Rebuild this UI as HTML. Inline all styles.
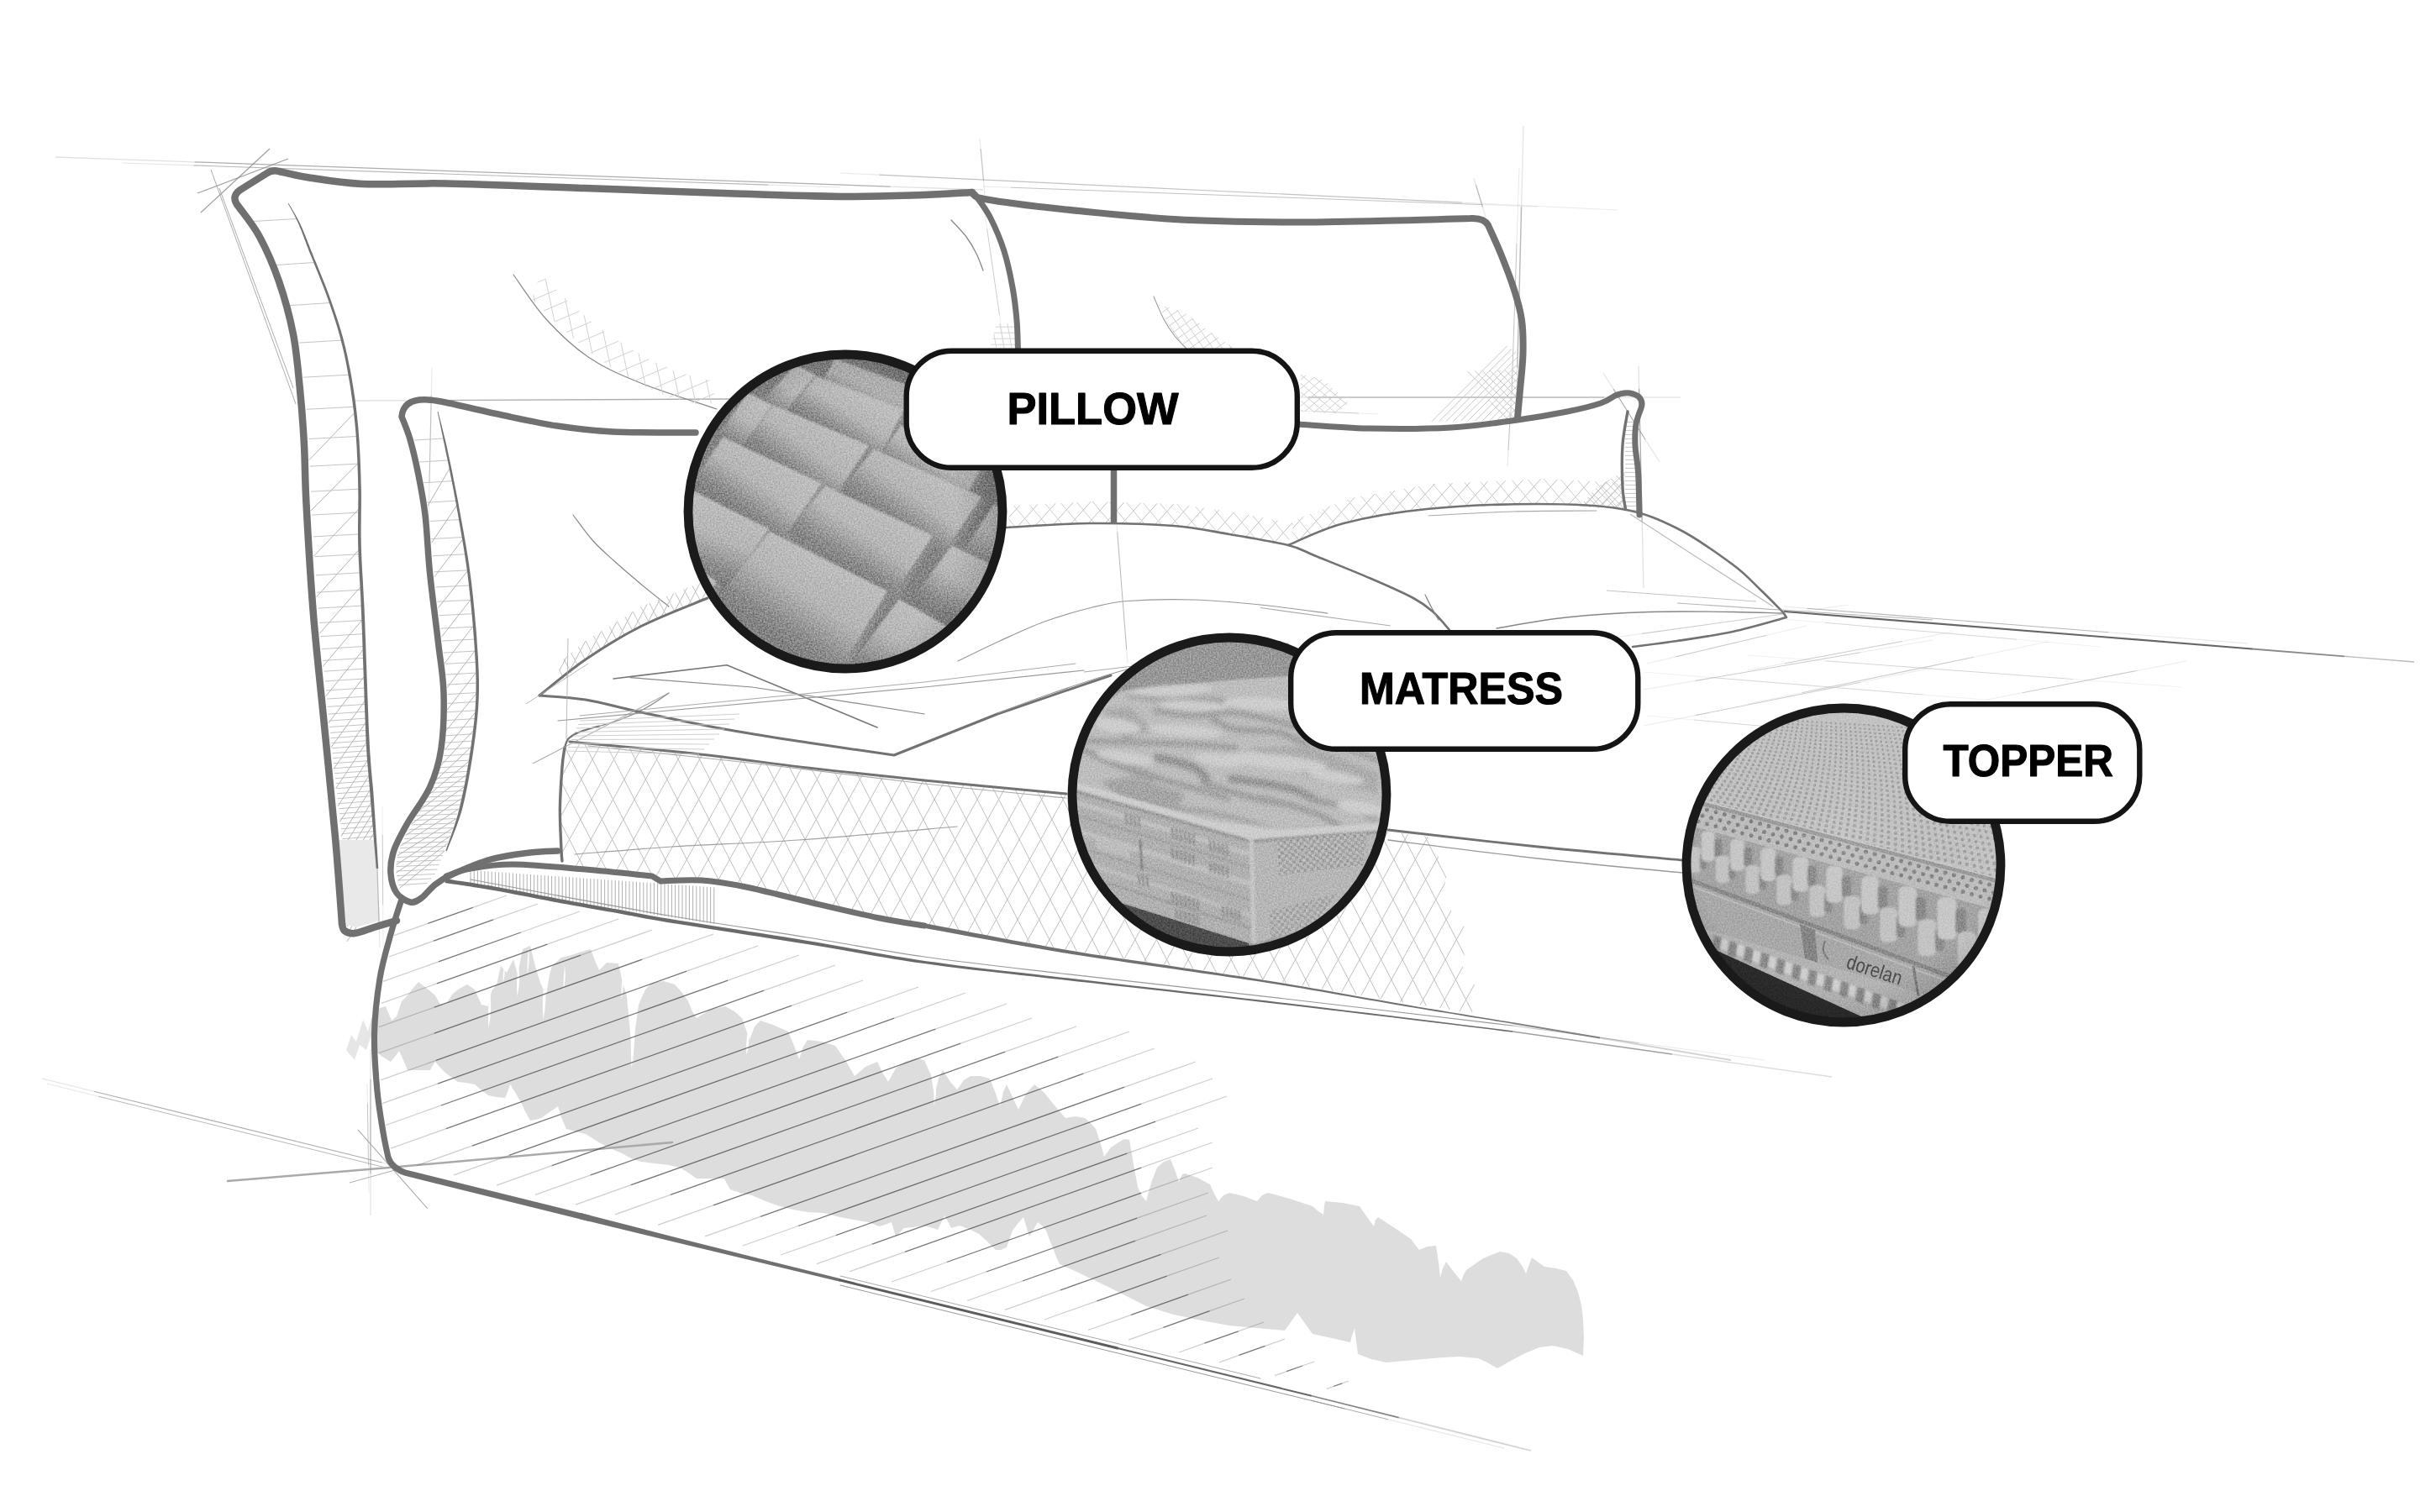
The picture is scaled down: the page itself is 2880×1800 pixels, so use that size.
<!DOCTYPE html>
<html><head><meta charset="utf-8"><title>Bed</title>
<style>
html,body{margin:0;padding:0;background:#fff;}
body{width:2880px;height:1800px;overflow:hidden;}
svg{display:block;}
text{font-family:"Liberation Sans",sans-serif;font-weight:bold;fill:#000;}
</style></head><body>
<svg width="2880" height="1800" viewBox="0 0 2880 1800">
<rect width="2880" height="1800" fill="#fff"/>

<defs>
<clipPath id="cp1"><circle cx="1006" cy="609" r="187"/></clipPath>
<clipPath id="cp2"><circle cx="1463" cy="946" r="187"/></clipPath>
<clipPath id="cp3"><circle cx="2194" cy="1030" r="187"/></clipPath>
<linearGradient id="blk" x1="0" y1="0" x2="1" y2="1">
<stop offset="0" stop-color="#b9b9b9"/><stop offset="1" stop-color="#a2a2a2"/></linearGradient>
<linearGradient id="pbg" x1="0" y1="0" x2="0" y2="1">
<stop offset="0" stop-color="#8d8d8d"/><stop offset="1" stop-color="#7e7e7e"/></linearGradient>
<pattern id="dots" width="9" height="9" patternUnits="userSpaceOnUse" patternTransform="rotate(14)">
<rect width="9" height="9" fill="#bdbdbd"/><circle cx="2.5" cy="2.5" r="1.9" fill="#8f8f8f"/><circle cx="7" cy="7" r="1.9" fill="#8f8f8f"/></pattern>
<pattern id="dots2" width="11" height="11" patternUnits="userSpaceOnUse" patternTransform="rotate(16)">
<rect width="11" height="11" fill="#b4b4b4"/><circle cx="3" cy="3" r="2.4" fill="#858585"/><circle cx="8.5" cy="8.5" r="2.4" fill="#858585"/></pattern>
<filter id="soft2" x="-5%" y="-5%" width="110%" height="110%" color-interpolation-filters="sRGB"><feGaussianBlur stdDeviation="2.4"/></filter>
<filter id="soft" x="-5%" y="-5%" width="110%" height="110%" color-interpolation-filters="sRGB"><feGaussianBlur stdDeviation="1.1"/></filter>
<radialGradient id="vig1" cx="0.42" cy="0.55" r="0.62"><stop offset="0" stop-color="#fff" stop-opacity="0.06"/><stop offset="0.7" stop-color="#000" stop-opacity="0"/><stop offset="1" stop-color="#000" stop-opacity="0.22"/></radialGradient>
<radialGradient id="vig3" cx="0.5" cy="0.4" r="0.65"><stop offset="0" stop-color="#fff" stop-opacity="0.05"/><stop offset="0.75" stop-color="#000" stop-opacity="0"/><stop offset="1" stop-color="#000" stop-opacity="0.18"/></radialGradient>
<pattern id="chk" width="8" height="8" patternUnits="userSpaceOnUse" patternTransform="rotate(-8)"><rect width="8" height="8" fill="#bcbcbc"/><rect width="4" height="4" fill="#9a9a9a"/><rect x="4" y="4" width="4" height="4" fill="#9a9a9a"/></pattern>
<filter id="noise" x="0" y="0" width="100%" height="100%" color-interpolation-filters="sRGB">
<feTurbulence type="fractalNoise" baseFrequency="0.55" numOctaves="2" seed="3"/>
<feColorMatrix type="matrix" values="1.5 0 0 0 -0.25  1.5 0 0 0 -0.25  1.5 0 0 0 -0.25  0 0 0 0 1"/>
</filter>
</defs>

<path d="M442 1212L452 1200L459 1198L466 1215L472 1210L478 1192L485 1185L492 1176L498 1169L507 1176L518 1185L524 1196L531 1195L538 1184L545 1178L556 1172L565 1178L573 1196L581 1198L585 1180L591 1172L596 1150L603 1158L611 1142L616 1160L622 1130L631 1126L637 1150L643 1170L650 1185L654 1160L657 1150L668 1140L680 1137L692 1133L703 1130L709 1146L713 1155L722 1146L736 1147L741 1170L746 1186L750 1230L753 1270L756 1225L760 1196L768 1178L776 1170L790 1168L803 1172L812 1182L819 1192L824 1204L829 1212L845 1202L863 1198L874 1204L883 1212L888 1226L892 1238L898 1222L905 1215L920 1220L938 1228L945 1245L951 1261L956 1246L961 1238L978 1240L994 1245L1006 1262L1017 1281L1030 1270L1044 1264L1051 1278L1057 1288L1066 1272L1077 1264L1090 1260L1100 1262L1108 1280L1112 1304L1117 1284L1122 1274L1131 1288L1139 1297L1147 1286L1155 1281L1167 1281L1178 1284L1185 1302L1190 1317L1194 1300L1198 1291L1206 1308L1212 1321L1221 1302L1231 1291L1242 1300L1251 1311L1260 1322L1268 1331L1280 1329L1291 1331L1298 1337L1304 1344L1310 1362L1314 1377L1322 1366L1331 1360L1338 1356L1344 1357L1349 1386L1354 1413L1359 1424L1364 1430L1370 1408L1377 1390L1385 1383L1393 1380L1399 1395L1403 1407L1407 1398L1410 1397L1425 1402L1440 1410L1445 1421L1450 1430L1456 1423L1463 1420L1480 1424L1496 1430L1502 1423L1509 1420L1535 1427L1562 1436L1569 1442L1575 1446L1576 1436L1577 1430L1598 1432L1618 1436L1627 1449L1635 1460L1637 1452L1640 1449L1660 1462L1679 1475L1685 1483L1689 1488L1699 1484L1709 1483L1712 1503L1714 1521L1717 1510L1721 1502L1730 1514L1739 1525L1742 1517L1745 1512L1765 1498L1785 1490L1796 1492L1805 1498L1812 1508L1816 1516L1820 1505L1823 1497L1831 1503L1838 1508L1852 1510L1864 1513L1872 1524L1878 1538L1882 1554L1884 1571L1885 1592L1884 1614L1866 1606L1848 1602L1832 1604L1815 1611L1798 1620L1782 1629L1770 1622L1759 1617L1737 1615L1716 1616L1683 1619L1650 1622L1632 1618L1616 1612L1614 1596L1612 1581L1609 1590L1607 1598L1585 1593L1562 1588L1552 1574L1544 1563L1536 1574L1529 1584L1496 1581L1463 1578L1430 1572L1397 1565L1364 1555L1331 1538L1298 1522L1279 1513L1261 1505L1257 1496L1254 1488L1249 1476L1245 1465L1240 1459L1235 1455L1230 1464L1225 1472L1221 1459L1218 1449L1211 1457L1205 1465L1201 1476L1198 1485L1191 1488L1185 1488L1175 1478L1165 1469L1153 1463L1142 1459L1132 1462L1128 1454L1124 1447L1120 1456L1116 1464L1107 1461L1099 1459L1087 1461L1076 1462L1070 1468L1066 1472L1063 1462L1061 1455L1053 1458L1046 1460L1039 1457L1033 1455L1016 1452L1000 1449L980 1444L961 1443L944 1440L928 1436L911 1430L895 1423L881 1420L869 1416L865 1409L862 1403L845 1403L829 1403L819 1396L809 1390L796 1387L779 1385L763 1383L751 1379L740 1373L726 1367L713 1360L705 1355L697 1350L685 1347L674 1344L668 1330L664 1317L654 1324L644 1331L637 1333L631 1334L625 1323L621 1314L614 1302L607 1291L604 1300L601 1307L591 1306L581 1304L572 1297L565 1291L555 1289L545 1288L538 1283L531 1278L524 1271L518 1264L514 1270L512 1274L498 1274L485 1274L480 1262L475 1251L470 1258L465 1264L455 1258L446 1251L443 1240L442 1231Z" fill="#dddddd" stroke="none"/>
<path d="M412 1250L418 1232L424 1240L432 1214L438 1228L442 1212L442 1232L436 1250L428 1244L422 1262Z" fill="#e6e6e6"/>
<path d="M583 1180Q580 1202 581.5 1224Q586 1202 583 1180Z" fill="#fff"/>
<path d="M617 1150Q614 1168 615.5 1186Q620 1168 617 1150Z" fill="#fff"/>
<path d="M648 1165Q644.5 1189.5 646.5 1214Q651.5 1189.5 648 1165Z" fill="#fff"/>
<path d="M753 1190Q749.5 1231 751.5 1272Q756.5 1231 753 1190Z" fill="#fff"/>
<path d="M608 1290Q605.5 1300 606.5 1310Q610.5 1300 608 1290Z" fill="#fff"/>
<path d="M600 1150Q598 1160 598.5 1170Q602 1160 600 1150Z" fill="#fff"/>
<path d="M629 1128Q627 1144 627.5 1160Q631 1144 629 1128Z" fill="#fff"/>
<path d="M672 1150Q670 1165 670.5 1180Q674 1165 672 1150Z" fill="#fff"/>
<path d="M741 1160Q739 1175 739.5 1190Q743 1175 741 1160Z" fill="#fff"/>
<path d="M890 1228Q887 1242 888.5 1256Q893 1242 890 1228Z" fill="#fff"/>
<path d="M1113 1290Q1110.5 1303 1111.5 1316Q1115.5 1303 1113 1290Z" fill="#fff"/>
<line x1="66" y1="187" x2="231.6" y2="192.8" stroke="#9a9a9a" stroke-width="1.3" opacity="0.27999999999999997"/>
<line x1="231.6" y1="192.8" x2="1059.6" y2="222.1" stroke="#9a9a9a" stroke-width="1.3" opacity="0.8"/>
<line x1="1059.6" y1="222.1" x2="1170" y2="226" stroke="#9a9a9a" stroke-width="1.3" opacity="0.27999999999999997"/>
<line x1="145" y1="194" x2="230.5" y2="196.9" stroke="#9a9a9a" stroke-width="1.1" opacity="0.24499999999999997"/>
<line x1="230.5" y1="196.9" x2="914.5" y2="220.1" stroke="#9a9a9a" stroke-width="1.1" opacity="0.7"/>
<line x1="914.5" y1="220.1" x2="1000" y2="223" stroke="#9a9a9a" stroke-width="1.1" opacity="0.24499999999999997"/>
<line x1="1000" y1="206" x2="1046.2" y2="208.2" stroke="#9a9a9a" stroke-width="1.2" opacity="0.21"/>
<line x1="1046.2" y1="208.2" x2="1740" y2="241.2" stroke="#9a9a9a" stroke-width="1.2" opacity="0.6"/>
<line x1="1740" y1="241.2" x2="1925" y2="250" stroke="#9a9a9a" stroke-width="1.2" opacity="0.21"/>
<line x1="1170" y1="222" x2="1203" y2="223.2" stroke="#9a9a9a" stroke-width="1.0" opacity="0.21"/>
<line x1="1203" y1="223.2" x2="1764" y2="243.6" stroke="#9a9a9a" stroke-width="1.0" opacity="0.6"/>
<line x1="1764" y1="243.6" x2="1830" y2="246" stroke="#9a9a9a" stroke-width="1.0" opacity="0.21"/>
<line x1="239" y1="253" x2="321" y2="177" stroke="#888" stroke-width="1.2" opacity="0.8"/>
<line x1="235" y1="230" x2="343" y2="189" stroke="#888" stroke-width="1.2" opacity="0.8"/>
<line x1="251" y1="202" x2="352" y2="481" stroke="#999" stroke-width="1.0" opacity="0.8"/>
<line x1="261" y1="224" x2="349" y2="462" stroke="#999" stroke-width="1.0" opacity="0.8"/>
<line x1="1166" y1="165" x2="1167.1" y2="177.1" stroke="#9a9a9a" stroke-width="1.2" opacity="0.21"/>
<line x1="1167.1" y1="177.1" x2="1170.5" y2="215.2" stroke="#9a9a9a" stroke-width="1.2" opacity="0.6"/>
<line x1="1170.5" y1="215.2" x2="1172" y2="232" stroke="#9a9a9a" stroke-width="1.2" opacity="0.21"/>
<line x1="1170" y1="240" x2="1174.7" y2="272.4" stroke="#9a9a9a" stroke-width="1.0" opacity="0.175"/>
<line x1="1174.7" y1="272.4" x2="1189.5" y2="375" stroke="#9a9a9a" stroke-width="1.0" opacity="0.5"/>
<line x1="1189.5" y1="375" x2="1196" y2="420" stroke="#9a9a9a" stroke-width="1.0" opacity="0.175"/>
<line x1="1813" y1="150" x2="1810.6" y2="246" stroke="#9a9a9a" stroke-width="1.4" opacity="0.24499999999999997"/>
<line x1="1810.6" y1="246" x2="1805.8" y2="438" stroke="#9a9a9a" stroke-width="1.4" opacity="0.7"/>
<line x1="1805.8" y1="438" x2="1805" y2="470" stroke="#9a9a9a" stroke-width="1.4" opacity="0.24499999999999997"/>
<line x1="1808" y1="200" x2="1805" y2="290" stroke="#9a9a9a" stroke-width="1.0" opacity="0.21"/>
<line x1="1805" y1="290" x2="1799" y2="470" stroke="#9a9a9a" stroke-width="1.0" opacity="0.6"/>
<line x1="1799" y1="470" x2="1798" y2="500" stroke="#9a9a9a" stroke-width="1.0" opacity="0.21"/>
<line x1="1754" y1="212" x2="1756.5" y2="220.3" stroke="#9a9a9a" stroke-width="1.2" opacity="0.24499999999999997"/>
<line x1="1756.5" y1="220.3" x2="1764.5" y2="246.5" stroke="#9a9a9a" stroke-width="1.2" opacity="0.7"/>
<line x1="1764.5" y1="246.5" x2="1768" y2="258" stroke="#9a9a9a" stroke-width="1.2" opacity="0.24499999999999997"/>
<line x1="1798" y1="480" x2="1797.3" y2="493.5" stroke="#9a9a9a" stroke-width="1.1" opacity="0.21"/>
<line x1="1797.3" y1="493.5" x2="1795" y2="536.2" stroke="#9a9a9a" stroke-width="1.1" opacity="0.6"/>
<line x1="1795" y1="536.2" x2="1794" y2="555" stroke="#9a9a9a" stroke-width="1.1" opacity="0.21"/>
<line x1="420" y1="477" x2="486" y2="476.7" stroke="#9a9a9a" stroke-width="1.4" opacity="0.27999999999999997"/>
<line x1="486" y1="476.7" x2="1066.8" y2="474.1" stroke="#9a9a9a" stroke-width="1.4" opacity="0.8"/>
<line x1="1066.8" y1="474.1" x2="1080" y2="474" stroke="#9a9a9a" stroke-width="1.4" opacity="0.27999999999999997"/>
<line x1="1548" y1="473" x2="1557" y2="473" stroke="#9a9a9a" stroke-width="1.4" opacity="0.24499999999999997"/>
<line x1="1557" y1="473" x2="1909.6" y2="473" stroke="#9a9a9a" stroke-width="1.4" opacity="0.7"/>
<line x1="1909.6" y1="473" x2="2000" y2="473" stroke="#9a9a9a" stroke-width="1.4" opacity="0.24499999999999997"/>
<line x1="1548" y1="489" x2="1564.6" y2="489.7" stroke="#9a9a9a" stroke-width="1.0" opacity="0.175"/>
<line x1="1564.6" y1="489.7" x2="1617" y2="492" stroke="#9a9a9a" stroke-width="1.0" opacity="0.5"/>
<line x1="1617" y1="492" x2="1640" y2="493" stroke="#9a9a9a" stroke-width="1.0" opacity="0.175"/>
<line x1="1950" y1="436" x2="1950.6" y2="462.4" stroke="#888" stroke-width="1.3" opacity="0.24499999999999997"/>
<line x1="1950.6" y1="462.4" x2="1954.2" y2="620.8" stroke="#888" stroke-width="1.3" opacity="0.7"/>
<line x1="1954.2" y1="620.8" x2="1956" y2="700" stroke="#888" stroke-width="1.3" opacity="0.24499999999999997"/>
<line x1="1908" y1="444" x2="1920.1" y2="463.1" stroke="#888" stroke-width="1.1" opacity="0.24499999999999997"/>
<line x1="1920.1" y1="463.1" x2="1958.2" y2="523.5" stroke="#888" stroke-width="1.1" opacity="0.7"/>
<line x1="1958.2" y1="523.5" x2="1975" y2="550" stroke="#888" stroke-width="1.1" opacity="0.24499999999999997"/>
<line x1="514" y1="438" x2="513.3" y2="470.8" stroke="#9a9a9a" stroke-width="1.2" opacity="0.21"/>
<line x1="513.3" y1="470.8" x2="511" y2="574.5" stroke="#9a9a9a" stroke-width="1.2" opacity="0.6"/>
<line x1="511" y1="574.5" x2="510" y2="620" stroke="#9a9a9a" stroke-width="1.2" opacity="0.21"/>
<line x1="1329" y1="625" x2="1329.7" y2="633.2" stroke="#999" stroke-width="1.0" opacity="0.24499999999999997"/>
<line x1="1329.7" y1="633.2" x2="1340.7" y2="773.5" stroke="#999" stroke-width="1.0" opacity="0.7"/>
<line x1="1340.7" y1="773.5" x2="1342" y2="790" stroke="#999" stroke-width="1.0" opacity="0.24499999999999997"/>
<path d="M611 327C617.5 335.8 635.2 363.7 650 380C664.8 396.3 681.7 412.5 700 425C718.3 437.5 734.5 444.7 760 455C785.5 465.3 837.5 481.7 853 487" fill="none" stroke="#888" stroke-width="1.2" stroke-linecap="round" stroke-linejoin="round" />
<path d="M682 613C685.8 618 697 634 705 643C713 652 720.8 658.7 730 667C739.2 675.3 749 683.8 760 693C771 702.2 790 717.2 796 722" fill="none" stroke="#888" stroke-width="1.2" stroke-linecap="round" stroke-linejoin="round" />
<path d="M1132 262C1135 265.3 1145 275.3 1150 282C1155 288.7 1158.7 295.3 1162 302C1165.3 308.7 1168.7 318.7 1170 322" fill="none" stroke="#888" stroke-width="1.3" stroke-linecap="round" stroke-linejoin="round" />
<path d="M1373 353C1375 357.5 1380.8 372.2 1385 380C1389.2 387.8 1393.5 394.2 1398 400C1402.5 405.8 1409.7 412.5 1412 415" fill="none" stroke="#999" stroke-width="1.1" stroke-linecap="round" stroke-linejoin="round" />
<line x1="50" y1="1284" x2="111.9" y2="1299.3" stroke="#9a9a9a" stroke-width="1.1" opacity="0.27999999999999997"/>
<line x1="111.9" y1="1299.3" x2="454.7" y2="1384" stroke="#9a9a9a" stroke-width="1.1" opacity="0.8"/>
<line x1="454.7" y1="1384" x2="463" y2="1386" stroke="#9a9a9a" stroke-width="1.1" opacity="0.27999999999999997"/>
<line x1="56" y1="1290" x2="117" y2="1305.2" stroke="#9a9a9a" stroke-width="1.0" opacity="0.24499999999999997"/>
<line x1="117" y1="1305.2" x2="454.9" y2="1389" stroke="#9a9a9a" stroke-width="1.0" opacity="0.7"/>
<line x1="454.9" y1="1389" x2="463" y2="1391" stroke="#9a9a9a" stroke-width="1.0" opacity="0.24499999999999997"/>
<path d="M271 1406L463 1390L800 1360" fill="none" stroke="#aaaaaa" stroke-width="2.6" stroke-linecap="round"/>
<line x1="426" y1="1345" x2="509" y2="1439" stroke="#888" stroke-width="1.1" opacity="0.8"/>
<line x1="441" y1="1249" x2="441" y2="1284.6" stroke="#999" stroke-width="1.2" opacity="0.27999999999999997"/>
<line x1="441" y1="1284.6" x2="441" y2="1397.5" stroke="#999" stroke-width="1.2" opacity="0.8"/>
<line x1="441" y1="1397.5" x2="441" y2="1447" stroke="#999" stroke-width="1.2" opacity="0.27999999999999997"/>
<line x1="437" y1="1290" x2="437.4" y2="1313.4" stroke="#aaa" stroke-width="1.0" opacity="0.24499999999999997"/>
<line x1="437.4" y1="1313.4" x2="438.5" y2="1387.5" stroke="#aaa" stroke-width="1.0" opacity="0.7"/>
<line x1="438.5" y1="1387.5" x2="439" y2="1420" stroke="#aaa" stroke-width="1.0" opacity="0.24499999999999997"/>
<line x1="416" y1="1408" x2="470" y2="1393" stroke="#999" stroke-width="1.0" opacity="0.8"/>
<g stroke="#c4c4c4" stroke-width="1" fill="none">
<line x1="301.1" y1="263.5" x2="352.8" y2="260.5"/>
<line x1="328.9" y1="315.5" x2="374.2" y2="312.5"/>
<line x1="345.3" y1="363.6" x2="392.6" y2="360.6"/>
<line x1="356" y1="408.1" x2="406.5" y2="405.1"/>
<line x1="361" y1="449.2" x2="415.1" y2="446.2"/>
<line x1="364.7" y1="487.3" x2="420.5" y2="484.3"/>
<line x1="367.3" y1="522.5" x2="424.3" y2="519.5"/>
<line x1="368.8" y1="555.1" x2="425.8" y2="552.1"/>
<line x1="369.9" y1="585.2" x2="427" y2="582.2"/>
<line x1="371.2" y1="613.1" x2="427" y2="610.1"/>
<line x1="372.9" y1="638.9" x2="427" y2="635.9"/>
<line x1="374.4" y1="662.7" x2="427.5" y2="659.7"/>
<line x1="375.9" y1="684.8" x2="428.6" y2="681.8"/>
<line x1="377.2" y1="705.2" x2="429.6" y2="702.2"/>
<line x1="378.4" y1="724.1" x2="430.5" y2="721.1"/>
<line x1="379.8" y1="741.5" x2="431.3" y2="738.5"/>
<line x1="381.4" y1="757.7" x2="431.9" y2="754.7"/>
<line x1="382.9" y1="772.6" x2="432.5" y2="769.6"/>
<line x1="384.2" y1="786.4" x2="433" y2="783.4"/>
<line x1="385.5" y1="799.2" x2="433.4" y2="796.2"/>
<line x1="386.6" y1="811" x2="433.9" y2="808"/>
<line x1="387.7" y1="822" x2="434.3" y2="819"/>
<line x1="388.7" y1="832.1" x2="434.7" y2="829.1"/>
<line x1="389.6" y1="841.4" x2="435" y2="838.4"/>
<line x1="390.5" y1="850.1" x2="435.3" y2="847.1"/>
<line x1="391.3" y1="858.1" x2="435.6" y2="855.1"/>
<line x1="392" y1="865.5" x2="435.9" y2="862.5"/>
<line x1="392.8" y1="872.4" x2="436.2" y2="869.4"/>
<line x1="393.5" y1="878.7" x2="436.4" y2="875.7"/>
<line x1="394.2" y1="884.7" x2="436.7" y2="881.7"/>
<line x1="394.9" y1="890.7" x2="437.2" y2="887.7"/>
<line x1="395.6" y1="896.7" x2="437.7" y2="893.7"/>
<line x1="396.3" y1="902.7" x2="438.1" y2="899.7"/>
<line x1="397" y1="908.7" x2="438.6" y2="905.7"/>
<line x1="397.6" y1="914.7" x2="439" y2="911.7"/>
<line x1="398.3" y1="920.7" x2="439.5" y2="917.7"/>
<line x1="399" y1="926.7" x2="439.9" y2="923.7"/>
<line x1="399.7" y1="932.7" x2="440.4" y2="929.7"/>
<line x1="400.4" y1="938.7" x2="440.8" y2="935.7"/>
<line x1="401.1" y1="944.7" x2="441.3" y2="941.7"/>
<line x1="401.9" y1="950.7" x2="441.7" y2="947.7"/>
<line x1="402.6" y1="956.7" x2="442.2" y2="953.7"/>
<line x1="403.3" y1="962.7" x2="442.6" y2="959.7"/>
<line x1="404.1" y1="968.7" x2="443.1" y2="965.7"/>
<line x1="404.8" y1="974.7" x2="443.5" y2="971.7"/>
<line x1="405.5" y1="980.7" x2="444" y2="977.7"/>
<line x1="406.1" y1="986.7" x2="444.4" y2="983.7"/>
<line x1="406.7" y1="992.7" x2="444.9" y2="989.7"/>
<line x1="407.3" y1="998.7" x2="445.3" y2="995.7"/>
<line x1="407.9" y1="1004.7" x2="445.7" y2="1001.7"/>
<line x1="408.5" y1="1010.7" x2="446.2" y2="1007.7"/>
<line x1="409.1" y1="1016.7" x2="446.6" y2="1013.7"/>
<line x1="409.7" y1="1022.7" x2="447.1" y2="1019.7"/>
<line x1="410.3" y1="1028.7" x2="447.5" y2="1025.7"/>
<line x1="410.7" y1="1034.7" x2="447.9" y2="1031.7"/>
<line x1="411" y1="1040.7" x2="448.2" y2="1037.7"/>
<line x1="411.2" y1="1046.7" x2="448.3" y2="1043.7"/>
<line x1="411.5" y1="1052.7" x2="448.5" y2="1049.7"/>
<line x1="411.8" y1="1058.7" x2="448.7" y2="1055.7"/>
<line x1="412.1" y1="1064.7" x2="448.9" y2="1061.7"/>
<line x1="412.5" y1="1070.7" x2="449.1" y2="1067.7"/>
<line x1="412.9" y1="1076.7" x2="449.2" y2="1073.7"/>
<line x1="413.3" y1="1082.7" x2="449.4" y2="1079.7"/>
<line x1="413.7" y1="1088.7" x2="449.6" y2="1085.7"/>
<line x1="414" y1="1094.7" x2="449.8" y2="1091.7"/>
</g>
<g stroke="#b4b4b4" stroke-width="1" fill="none">
<line x1="367.6" y1="548" x2="421.3" y2="492"/>
<line x1="370" y1="608" x2="425.7" y2="552"/>
<line x1="373.5" y1="662" x2="427" y2="606"/>
<line x1="376.6" y1="710.6" x2="427.2" y2="654.6"/>
<line x1="380.2" y1="754.3" x2="429.4" y2="698.3"/>
<line x1="384.1" y1="793.7" x2="431.2" y2="737.7"/>
<line x1="387.6" y1="829.1" x2="432.5" y2="773.1"/>
<line x1="390.7" y1="861" x2="433.7" y2="805"/>
<line x1="394" y1="889.7" x2="434.8" y2="833.7"/>
<line x1="396.9" y1="915.5" x2="435.7" y2="859.5"/>
<line x1="399.6" y1="938.8" x2="436.7" y2="882.8"/>
<line x1="402.1" y1="959.7" x2="438.3" y2="903.7"/>
<line x1="404.4" y1="978.5" x2="439.7" y2="922.5"/>
<line x1="406.1" y1="995.5" x2="441" y2="939.5"/>
<line x1="407.7" y1="1010.7" x2="442.1" y2="954.7"/>
<line x1="409" y1="1024.5" x2="443.2" y2="968.5"/>
<line x1="409.9" y1="1036.8" x2="444.1" y2="980.8"/>
<line x1="410.4" y1="1047.9" x2="444.9" y2="991.9"/>
<line x1="410.8" y1="1057.9" x2="445.7" y2="1001.9"/>
<line x1="411.3" y1="1066.9" x2="446.3" y2="1010.9"/>
<line x1="411.9" y1="1075.9" x2="447" y2="1019.9"/>
<line x1="412.5" y1="1084.9" x2="447.6" y2="1028.9"/>
<line x1="413" y1="1093.9" x2="448.1" y2="1037.9"/>
<line x1="413" y1="1102.9" x2="448.4" y2="1046.9"/>
<line x1="413" y1="1111.9" x2="448.7" y2="1055.9"/>
<line x1="413" y1="1120.9" x2="448.9" y2="1064.9"/>
</g>
<path d="M402 1000L447 1000L452 1096L424 1104L410 1100Z" fill="#e9e9e9"/>
<g stroke="#c4c4c4" stroke-width="1" fill="none">
<line x1="493" y1="524" x2="527.5" y2="522"/>
<line x1="499.2" y1="550" x2="533.1" y2="548"/>
<line x1="504.3" y1="574.7" x2="538" y2="572.7"/>
<line x1="508.3" y1="598.2" x2="542.5" y2="596.2"/>
<line x1="511.5" y1="620.5" x2="546.6" y2="618.5"/>
<line x1="513.2" y1="641.6" x2="550" y2="639.6"/>
<line x1="514.8" y1="661.8" x2="553.3" y2="659.8"/>
<line x1="516.4" y1="680.9" x2="556.5" y2="678.9"/>
<line x1="518.5" y1="699" x2="558.5" y2="697"/>
<line x1="520.5" y1="716.3" x2="560.1" y2="714.3"/>
<line x1="522.5" y1="732.7" x2="561.7" y2="730.7"/>
<line x1="524.4" y1="748.2" x2="563.3" y2="746.2"/>
<line x1="526.1" y1="763" x2="564.7" y2="761"/>
<line x1="527.7" y1="777.1" x2="565.3" y2="775.1"/>
<line x1="529.1" y1="790.4" x2="565.7" y2="788.4"/>
<line x1="530.5" y1="803.1" x2="566.1" y2="801.1"/>
<line x1="531.8" y1="815.1" x2="566.5" y2="813.1"/>
<line x1="533" y1="826.6" x2="566.8" y2="824.6"/>
<line x1="532.5" y1="837.4" x2="566.6" y2="835.4"/>
<line x1="532" y1="847.8" x2="565.7" y2="845.8"/>
<line x1="531.6" y1="857.6" x2="564.9" y2="855.6"/>
<line x1="531.1" y1="866.9" x2="564.2" y2="864.9"/>
<line x1="530.7" y1="875.8" x2="563.4" y2="873.8"/>
<line x1="530.4" y1="884.2" x2="562.5" y2="882.2"/>
<line x1="529.9" y1="892.2" x2="561.2" y2="890.2"/>
<line x1="527.5" y1="899.8" x2="560" y2="897.8"/>
<line x1="525.1" y1="907" x2="558.8" y2="905"/>
<line x1="522.9" y1="913.8" x2="557.4" y2="911.8"/>
<line x1="520.8" y1="920.3" x2="556.1" y2="918.3"/>
<line x1="518.8" y1="926.5" x2="554.8" y2="924.5"/>
<line x1="515.7" y1="932.4" x2="553.6" y2="930.4"/>
<line x1="512.8" y1="938" x2="552.5" y2="936"/>
<line x1="509.8" y1="943.5" x2="551.3" y2="941.5"/>
<line x1="506.9" y1="949" x2="550.1" y2="947"/>
<line x1="504" y1="954.5" x2="548.6" y2="952.5"/>
<line x1="501.1" y1="960" x2="547.1" y2="958"/>
<line x1="498.2" y1="965.5" x2="545.6" y2="963.5"/>
<line x1="495.4" y1="971" x2="544.1" y2="969"/>
<line x1="492.5" y1="976.5" x2="542.6" y2="974.5"/>
<line x1="489.6" y1="982" x2="541.1" y2="980"/>
<line x1="486.8" y1="987.5" x2="539.2" y2="985.5"/>
<line x1="484" y1="993" x2="537.1" y2="991"/>
<line x1="481.2" y1="998.5" x2="535.1" y2="996.5"/>
<line x1="478.3" y1="1004" x2="533" y2="1002"/>
<line x1="476.1" y1="1009.5" x2="530.9" y2="1007.5"/>
<line x1="474.4" y1="1015" x2="528.8" y2="1013"/>
<line x1="472.8" y1="1020.5" x2="526.7" y2="1018.5"/>
<line x1="471.9" y1="1026" x2="524.7" y2="1024"/>
<line x1="471.7" y1="1031.5" x2="522.6" y2="1029.5"/>
<line x1="471.5" y1="1037" x2="520.5" y2="1035"/>
<line x1="472.1" y1="1042.5" x2="517.8" y2="1040.5"/>
<line x1="473.5" y1="1048" x2="513.2" y2="1046"/>
<line x1="474.9" y1="1053.5" x2="508.6" y2="1051.5"/>
</g>
<g stroke="#b4b4b4" stroke-width="1" fill="none">
<line x1="509.1" y1="602" x2="534.9" y2="558"/>
<line x1="513.7" y1="646" x2="543.5" y2="602"/>
<line x1="517.1" y1="686.5" x2="550.3" y2="642.5"/>
<line x1="521.5" y1="723.7" x2="556.5" y2="679.7"/>
<line x1="525.7" y1="758" x2="560" y2="714"/>
<line x1="529.2" y1="789.5" x2="563.1" y2="745.5"/>
<line x1="532.3" y1="818.5" x2="565.3" y2="774.5"/>
<line x1="532.1" y1="845.2" x2="566.1" y2="801.2"/>
<line x1="531" y1="869.7" x2="566.8" y2="825.7"/>
<line x1="529.6" y1="892.3" x2="565.6" y2="848.3"/>
<line x1="522.8" y1="913.1" x2="563.9" y2="869.1"/>
<line x1="515.3" y1="932.2" x2="561.7" y2="888.2"/>
<line x1="505.9" y1="949.8" x2="558.8" y2="905.8"/>
<line x1="497.4" y1="966" x2="555.5" y2="922"/>
<line x1="489.7" y1="980.8" x2="552.5" y2="936.8"/>
<line x1="482.7" y1="994.5" x2="549.4" y2="950.5"/>
<line x1="476.5" y1="1007.1" x2="546" y2="963.1"/>
<line x1="473" y1="1018.7" x2="542.8" y2="974.7"/>
<line x1="471.7" y1="1029.4" x2="539.6" y2="985.4"/>
<line x1="471.5" y1="1039.2" x2="535.9" y2="995.2"/>
<line x1="473.9" y1="1048.2" x2="532.5" y2="1004.2"/>
<line x1="475.6" y1="1057.2" x2="529.1" y2="1013.2"/>
</g>
<clipPath id="hc1"><path d="M633 356L659 382L686 406L712 427L739 444L765 459L792 471L818 479L845 485L855 455L828 449L802 441L775 429L749 414L722 397L696 376L669 352L643 326Z"/></clipPath>
<g clip-path="url(#hc1)" stroke="#d2d2d2" stroke-width="1.0" opacity="1.0">
<line x1="850.7" y1="241.2" x2="908.3" y2="512.2"/>
<line x1="833.1" y1="244.9" x2="890.7" y2="515.9"/>
<line x1="815.5" y1="248.7" x2="873.1" y2="519.7"/>
<line x1="797.9" y1="252.4" x2="855.5" y2="523.4"/>
<line x1="780.3" y1="256.2" x2="837.9" y2="527.2"/>
<line x1="762.7" y1="259.9" x2="820.3" y2="530.9"/>
<line x1="745.1" y1="263.6" x2="802.7" y2="534.7"/>
<line x1="727.5" y1="267.4" x2="785.1" y2="538.4"/>
<line x1="709.8" y1="271.1" x2="767.5" y2="542.1"/>
<line x1="692.2" y1="274.9" x2="749.8" y2="545.9"/>
<line x1="674.6" y1="278.6" x2="732.2" y2="549.6"/>
<line x1="657" y1="282.4" x2="714.6" y2="553.4"/>
<line x1="639.4" y1="286.1" x2="697" y2="557.1"/>
<line x1="621.8" y1="289.8" x2="679.4" y2="560.9"/>
<line x1="604.2" y1="293.6" x2="661.8" y2="564.6"/>
<line x1="586.6" y1="297.3" x2="644.2" y2="568.3"/>
</g>
<clipPath id="hc2"><path d="M633 356L659 382L686 406L712 427L739 444L765 459L792 471L818 479L845 485L855 455L828 449L802 441L775 429L749 414L722 397L696 376L669 352L643 326Z"/></clipPath>
<g clip-path="url(#hc2)" stroke="#d2d2d2" stroke-width="1.0" opacity="1.0">
<line x1="562.4" y1="332.1" x2="817.4" y2="223.9"/>
<line x1="569" y1="347.8" x2="824" y2="239.5"/>
<line x1="575.6" y1="363.4" x2="830.7" y2="255.1"/>
<line x1="582.3" y1="379.1" x2="837.3" y2="270.8"/>
<line x1="588.9" y1="394.7" x2="844" y2="286.4"/>
<line x1="595.6" y1="410.4" x2="850.6" y2="302.1"/>
<line x1="602.2" y1="426" x2="857.2" y2="317.7"/>
<line x1="608.8" y1="441.6" x2="863.9" y2="333.4"/>
<line x1="615.5" y1="457.3" x2="870.5" y2="349"/>
<line x1="622.1" y1="472.9" x2="877.2" y2="364.7"/>
<line x1="628.8" y1="488.6" x2="883.8" y2="380.3"/>
<line x1="635.4" y1="504.2" x2="890.5" y2="396"/>
<line x1="642.1" y1="519.9" x2="897.1" y2="411.6"/>
<line x1="648.7" y1="535.5" x2="903.7" y2="427.3"/>
<line x1="655.3" y1="551.2" x2="910.4" y2="442.9"/>
<line x1="662" y1="566.8" x2="917" y2="458.6"/>
<line x1="668.6" y1="582.5" x2="923.7" y2="474.2"/>
</g>
<clipPath id="hc3"><path d="M1378 362L1390 385L1400 402L1412 415L1470 415L1440 395L1410 372Z"/></clipPath>
<g clip-path="url(#hc3)" stroke="#cfcfcf" stroke-width="1.0" opacity="1.0">
<line x1="1437.5" y1="311.8" x2="1500.7" y2="402"/>
<line x1="1430.2" y1="316.9" x2="1493.3" y2="407.2"/>
<line x1="1422.8" y1="322.1" x2="1486" y2="412.4"/>
<line x1="1415.4" y1="327.3" x2="1478.6" y2="417.5"/>
<line x1="1408" y1="332.4" x2="1471.2" y2="422.7"/>
<line x1="1400.7" y1="337.6" x2="1463.9" y2="427.8"/>
<line x1="1393.3" y1="342.8" x2="1456.5" y2="433"/>
<line x1="1385.9" y1="347.9" x2="1449.1" y2="438.2"/>
<line x1="1378.5" y1="353.1" x2="1441.7" y2="443.3"/>
<line x1="1371.2" y1="358.2" x2="1434.4" y2="448.5"/>
<line x1="1363.8" y1="363.4" x2="1427" y2="453.6"/>
<line x1="1356.4" y1="368.6" x2="1419.6" y2="458.8"/>
<line x1="1349.1" y1="373.7" x2="1412.3" y2="464"/>
</g>
<clipPath id="hc4"><path d="M1378 362L1390 385L1400 402L1412 415L1470 415L1440 395L1410 372Z"/></clipPath>
<g clip-path="url(#hc4)" stroke="#cfcfcf" stroke-width="1.0" opacity="1.0">
<line x1="1347.3" y1="375" x2="1437.5" y2="311.8"/>
<line x1="1352.4" y1="382.3" x2="1442.7" y2="319.2"/>
<line x1="1357.6" y1="389.7" x2="1447.9" y2="326.5"/>
<line x1="1362.8" y1="397.1" x2="1453" y2="333.9"/>
<line x1="1367.9" y1="404.5" x2="1458.2" y2="341.3"/>
<line x1="1373.1" y1="411.8" x2="1463.3" y2="348.6"/>
<line x1="1378.3" y1="419.2" x2="1468.5" y2="356"/>
<line x1="1383.4" y1="426.6" x2="1473.7" y2="363.4"/>
<line x1="1388.6" y1="434" x2="1478.8" y2="370.8"/>
<line x1="1393.7" y1="441.3" x2="1484" y2="378.1"/>
<line x1="1398.9" y1="448.7" x2="1489.1" y2="385.5"/>
<line x1="1404.1" y1="456.1" x2="1494.3" y2="392.9"/>
<line x1="1409.2" y1="463.4" x2="1499.5" y2="400.2"/>
</g>
<clipPath id="hc5"><path d="M1548 445L1575 452L1605 480L1590 492L1548 490Z"/></clipPath>
<g clip-path="url(#hc5)" stroke="#d0d0d0" stroke-width="1.0" opacity="1.0">
<line x1="1571.7" y1="413.6" x2="1631.4" y2="463.7"/>
<line x1="1566.6" y1="419.8" x2="1626.2" y2="469.8"/>
<line x1="1561.4" y1="425.9" x2="1621.1" y2="476"/>
<line x1="1556.3" y1="432" x2="1615.9" y2="482.1"/>
<line x1="1551.1" y1="438.2" x2="1610.8" y2="488.2"/>
<line x1="1546" y1="444.3" x2="1605.6" y2="494.3"/>
<line x1="1540.8" y1="450.4" x2="1600.5" y2="500.5"/>
<line x1="1535.7" y1="456.5" x2="1595.4" y2="506.6"/>
<line x1="1530.6" y1="462.7" x2="1590.2" y2="512.7"/>
<line x1="1525.4" y1="468.8" x2="1585.1" y2="518.9"/>
</g>
<clipPath id="hc6"><path d="M1548 445L1575 452L1605 480L1590 492L1548 490Z"/></clipPath>
<g clip-path="url(#hc6)" stroke="#d0d0d0" stroke-width="1.0" opacity="1.0">
<line x1="1521.6" y1="463.7" x2="1581.3" y2="413.6"/>
<line x1="1526.8" y1="469.8" x2="1586.4" y2="419.8"/>
<line x1="1531.9" y1="476" x2="1591.6" y2="425.9"/>
<line x1="1537.1" y1="482.1" x2="1596.7" y2="432"/>
<line x1="1542.2" y1="488.2" x2="1601.9" y2="438.2"/>
<line x1="1547.4" y1="494.3" x2="1607" y2="444.3"/>
<line x1="1552.5" y1="500.5" x2="1612.2" y2="450.4"/>
<line x1="1557.6" y1="506.6" x2="1617.3" y2="456.5"/>
<line x1="1562.8" y1="512.7" x2="1622.4" y2="462.7"/>
<line x1="1567.9" y1="518.9" x2="1627.6" y2="468.8"/>
</g>
<clipPath id="hc7"><path d="M1697 502L1790 410L1806 420L1806 500Z"/></clipPath>
<g clip-path="url(#hc7)" stroke="#c6c6c6" stroke-width="1.0" opacity="1.0">
<line x1="1647.8" y1="456" x2="1751.5" y2="352.3"/>
<line x1="1652.1" y1="460.2" x2="1755.7" y2="356.6"/>
<line x1="1656.3" y1="464.5" x2="1760" y2="360.8"/>
<line x1="1660.5" y1="468.7" x2="1764.2" y2="365"/>
<line x1="1664.8" y1="473" x2="1768.5" y2="369.3"/>
<line x1="1669" y1="477.2" x2="1772.7" y2="373.5"/>
<line x1="1673.3" y1="481.5" x2="1777" y2="377.8"/>
<line x1="1677.5" y1="485.7" x2="1781.2" y2="382"/>
<line x1="1681.8" y1="489.9" x2="1785.4" y2="386.3"/>
<line x1="1686" y1="494.2" x2="1789.7" y2="390.5"/>
<line x1="1690.2" y1="498.4" x2="1793.9" y2="394.7"/>
<line x1="1694.5" y1="502.7" x2="1798.2" y2="399"/>
<line x1="1698.7" y1="506.9" x2="1802.4" y2="403.2"/>
<line x1="1703" y1="511.2" x2="1806.7" y2="407.5"/>
<line x1="1707.2" y1="515.4" x2="1810.9" y2="411.7"/>
<line x1="1711.5" y1="519.6" x2="1815.1" y2="416"/>
<line x1="1715.7" y1="523.9" x2="1819.4" y2="420.2"/>
<line x1="1719.9" y1="528.1" x2="1823.6" y2="424.4"/>
<line x1="1724.2" y1="532.4" x2="1827.9" y2="428.7"/>
<line x1="1728.4" y1="536.6" x2="1832.1" y2="432.9"/>
<line x1="1732.7" y1="540.9" x2="1836.4" y2="437.2"/>
<line x1="1736.9" y1="545.1" x2="1840.6" y2="441.4"/>
<line x1="1741.2" y1="549.3" x2="1844.8" y2="445.7"/>
<line x1="1745.4" y1="553.6" x2="1849.1" y2="449.9"/>
<line x1="1749.6" y1="557.8" x2="1853.3" y2="454.1"/>
</g>
<clipPath id="hc8"><path d="M1745 442L1806 440L1806 500L1790 500Z"/></clipPath>
<g clip-path="url(#hc8)" stroke="#c6c6c6" stroke-width="1.0" opacity="1.0">
<line x1="1775.5" y1="406.7" x2="1838.8" y2="470"/>
<line x1="1770.9" y1="411.3" x2="1834.2" y2="474.6"/>
<line x1="1766.3" y1="415.9" x2="1829.6" y2="479.2"/>
<line x1="1761.7" y1="420.5" x2="1825" y2="483.8"/>
<line x1="1757.1" y1="425.1" x2="1820.4" y2="488.4"/>
<line x1="1752.5" y1="429.7" x2="1815.8" y2="493"/>
<line x1="1747.9" y1="434.2" x2="1811.3" y2="497.6"/>
<line x1="1743.3" y1="438.8" x2="1806.7" y2="502.2"/>
<line x1="1738.7" y1="443.4" x2="1802.1" y2="506.8"/>
<line x1="1734.1" y1="448" x2="1797.5" y2="511.4"/>
<line x1="1729.5" y1="452.6" x2="1792.9" y2="516"/>
<line x1="1724.9" y1="457.2" x2="1788.3" y2="520.6"/>
<line x1="1720.3" y1="461.8" x2="1783.7" y2="525.2"/>
<line x1="1715.7" y1="466.4" x2="1779.1" y2="529.8"/>
</g>
<clipPath id="hc9"><path d="M1186 385L1212 385L1212 414L1178 414Z"/></clipPath>
<g clip-path="url(#hc9)" stroke="#d6d6d6" stroke-width="1.0" opacity="1.0">
<line x1="1170.7" y1="375.2" x2="1219.3" y2="375.2"/>
<line x1="1170.7" y1="382.2" x2="1219.3" y2="382.2"/>
<line x1="1170.7" y1="389.2" x2="1219.3" y2="389.2"/>
<line x1="1170.7" y1="396.2" x2="1219.3" y2="396.2"/>
<line x1="1170.7" y1="403.2" x2="1219.3" y2="403.2"/>
<line x1="1170.7" y1="410.2" x2="1219.3" y2="410.2"/>
<line x1="1170.7" y1="417.2" x2="1219.3" y2="417.2"/>
</g>
<clipPath id="hc10"><path d="M1186 385L1212 385L1212 414L1178 414Z"/></clipPath>
<g clip-path="url(#hc10)" stroke="#d6d6d6" stroke-width="1.0" opacity="1.0">
<line x1="1214.7" y1="371.3" x2="1223.2" y2="419.2"/>
<line x1="1205.9" y1="372.9" x2="1214.3" y2="420.8"/>
<line x1="1197" y1="374.4" x2="1205.5" y2="422.4"/>
<line x1="1188.2" y1="376" x2="1196.6" y2="423.9"/>
<line x1="1179.3" y1="377.5" x2="1187.7" y2="425.5"/>
<line x1="1170.4" y1="379.1" x2="1178.9" y2="427.1"/>
</g>
<clipPath id="hc11"><path d="M1198 628L1297 623L1397 626L1463 636L1533 649L1539 623L1469 610L1403 600L1303 597L1204 602Z"/></clipPath>
<g clip-path="url(#hc11)" stroke="#c2c2c2" stroke-width="1.0" opacity="1.0">
<line x1="1122.1" y1="635.9" x2="1355.6" y2="376.6"/>
<line x1="1133.2" y1="646" x2="1366.7" y2="386.6"/>
<line x1="1144.4" y1="656" x2="1377.9" y2="396.7"/>
<line x1="1155.5" y1="666" x2="1389" y2="406.7"/>
<line x1="1166.7" y1="676.1" x2="1400.2" y2="416.7"/>
<line x1="1177.8" y1="686.1" x2="1411.3" y2="426.8"/>
<line x1="1189" y1="696.1" x2="1422.5" y2="436.8"/>
<line x1="1200.1" y1="706.2" x2="1433.6" y2="446.9"/>
<line x1="1211.3" y1="716.2" x2="1444.8" y2="456.9"/>
<line x1="1222.4" y1="726.2" x2="1455.9" y2="466.9"/>
<line x1="1233.6" y1="736.3" x2="1467.1" y2="477"/>
<line x1="1244.7" y1="746.3" x2="1478.2" y2="487"/>
<line x1="1255.9" y1="756.4" x2="1489.4" y2="497"/>
<line x1="1267" y1="766.4" x2="1500.5" y2="507.1"/>
<line x1="1278.2" y1="776.4" x2="1511.6" y2="517.1"/>
<line x1="1289.3" y1="786.5" x2="1522.8" y2="527.2"/>
<line x1="1300.5" y1="796.5" x2="1533.9" y2="537.2"/>
<line x1="1311.6" y1="806.5" x2="1545.1" y2="547.2"/>
<line x1="1322.7" y1="816.6" x2="1556.2" y2="557.3"/>
<line x1="1333.9" y1="826.6" x2="1567.4" y2="567.3"/>
<line x1="1345" y1="836.7" x2="1578.5" y2="577.3"/>
<line x1="1356.2" y1="846.7" x2="1589.7" y2="587.4"/>
<line x1="1367.3" y1="856.7" x2="1600.8" y2="597.4"/>
<line x1="1378.5" y1="866.8" x2="1612" y2="607.4"/>
</g>
<clipPath id="hc12"><path d="M1198 628L1297 623L1397 626L1463 636L1533 649L1539 623L1469 610L1403 600L1303 597L1204 602Z"/></clipPath>
<g clip-path="url(#hc12)" stroke="#cccccc" stroke-width="1.0" opacity="1.0">
<line x1="1390" y1="377.2" x2="1614.3" y2="644.5"/>
<line x1="1378.5" y1="386.8" x2="1602.8" y2="654.1"/>
<line x1="1367" y1="396.5" x2="1591.3" y2="663.8"/>
<line x1="1355.5" y1="406.1" x2="1579.8" y2="673.4"/>
<line x1="1344" y1="415.8" x2="1568.3" y2="683.1"/>
<line x1="1332.6" y1="425.4" x2="1556.8" y2="692.7"/>
<line x1="1321.1" y1="435.1" x2="1545.4" y2="702.4"/>
<line x1="1309.6" y1="444.7" x2="1533.9" y2="712"/>
<line x1="1298.1" y1="454.3" x2="1522.4" y2="721.6"/>
<line x1="1286.6" y1="464" x2="1510.9" y2="731.3"/>
<line x1="1275.1" y1="473.6" x2="1499.4" y2="740.9"/>
<line x1="1263.6" y1="483.3" x2="1487.9" y2="750.6"/>
<line x1="1252.1" y1="492.9" x2="1476.4" y2="760.2"/>
<line x1="1240.6" y1="502.5" x2="1464.9" y2="769.8"/>
<line x1="1229.1" y1="512.2" x2="1453.4" y2="779.5"/>
<line x1="1217.6" y1="521.8" x2="1441.9" y2="789.1"/>
<line x1="1206.2" y1="531.5" x2="1430.4" y2="798.8"/>
<line x1="1194.7" y1="541.1" x2="1419" y2="808.4"/>
<line x1="1183.2" y1="550.8" x2="1407.5" y2="818.1"/>
<line x1="1171.7" y1="560.4" x2="1396" y2="827.7"/>
<line x1="1160.2" y1="570" x2="1384.5" y2="837.3"/>
<line x1="1148.7" y1="579.7" x2="1373" y2="847"/>
<line x1="1137.2" y1="589.3" x2="1361.5" y2="856.6"/>
<line x1="1125.7" y1="599" x2="1350" y2="866.3"/>
</g>
<clipPath id="hc13"><path d="M1533 649L1599 623L1698 606L1830 600L1930 605L1938 575L1838 570L1706 576L1607 593L1541 619Z"/></clipPath>
<g clip-path="url(#hc13)" stroke="#c0c0c0" stroke-width="1.0" opacity="1.0">
<line x1="1441.3" y1="624.9" x2="1720.1" y2="315.3"/>
<line x1="1452.4" y1="635" x2="1731.2" y2="325.3"/>
<line x1="1463.6" y1="645" x2="1742.4" y2="335.4"/>
<line x1="1474.7" y1="655" x2="1753.5" y2="345.4"/>
<line x1="1485.9" y1="665.1" x2="1764.7" y2="355.4"/>
<line x1="1497" y1="675.1" x2="1775.8" y2="365.5"/>
<line x1="1508.2" y1="685.1" x2="1787" y2="375.5"/>
<line x1="1519.3" y1="695.2" x2="1798.1" y2="385.6"/>
<line x1="1530.5" y1="705.2" x2="1809.3" y2="395.6"/>
<line x1="1541.6" y1="715.3" x2="1820.4" y2="405.6"/>
<line x1="1552.8" y1="725.3" x2="1831.6" y2="415.7"/>
<line x1="1563.9" y1="735.3" x2="1842.7" y2="425.7"/>
<line x1="1575.1" y1="745.4" x2="1853.8" y2="435.7"/>
<line x1="1586.2" y1="755.4" x2="1865" y2="445.8"/>
<line x1="1597.4" y1="765.4" x2="1876.1" y2="455.8"/>
<line x1="1608.5" y1="775.5" x2="1887.3" y2="465.9"/>
<line x1="1619.7" y1="785.5" x2="1898.4" y2="475.9"/>
<line x1="1630.8" y1="795.5" x2="1909.6" y2="485.9"/>
<line x1="1641.9" y1="805.6" x2="1920.7" y2="496"/>
<line x1="1653.1" y1="815.6" x2="1931.9" y2="506"/>
<line x1="1664.2" y1="825.7" x2="1943" y2="516"/>
<line x1="1675.4" y1="835.7" x2="1954.2" y2="526.1"/>
<line x1="1686.5" y1="845.7" x2="1965.3" y2="536.1"/>
<line x1="1697.7" y1="855.8" x2="1976.5" y2="546.1"/>
<line x1="1708.8" y1="865.8" x2="1987.6" y2="556.2"/>
<line x1="1720" y1="875.8" x2="1998.8" y2="566.2"/>
<line x1="1731.1" y1="885.9" x2="2009.9" y2="576.3"/>
<line x1="1742.3" y1="895.9" x2="2021.1" y2="586.3"/>
</g>
<clipPath id="hc14"><path d="M1533 649L1599 623L1698 606L1830 600L1930 605L1938 575L1838 570L1706 576L1607 593L1541 619Z"/></clipPath>
<g clip-path="url(#hc14)" stroke="#cccccc" stroke-width="1.0" opacity="1.0">
<line x1="1761.2" y1="316" x2="2029" y2="635.2"/>
<line x1="1749.7" y1="325.7" x2="2017.5" y2="644.8"/>
<line x1="1738.2" y1="335.3" x2="2006" y2="654.5"/>
<line x1="1726.7" y1="344.9" x2="1994.5" y2="664.1"/>
<line x1="1715.2" y1="354.6" x2="1983" y2="673.7"/>
<line x1="1703.7" y1="364.2" x2="1971.5" y2="683.4"/>
<line x1="1692.2" y1="373.9" x2="1960" y2="693"/>
<line x1="1680.7" y1="383.5" x2="1948.5" y2="702.7"/>
<line x1="1669.3" y1="393.2" x2="1937.1" y2="712.3"/>
<line x1="1657.8" y1="402.8" x2="1925.6" y2="722"/>
<line x1="1646.3" y1="412.4" x2="1914.1" y2="731.6"/>
<line x1="1634.8" y1="422.1" x2="1902.6" y2="741.2"/>
<line x1="1623.3" y1="431.7" x2="1891.1" y2="750.9"/>
<line x1="1611.8" y1="441.4" x2="1879.6" y2="760.5"/>
<line x1="1600.3" y1="451" x2="1868.1" y2="770.2"/>
<line x1="1588.8" y1="460.6" x2="1856.6" y2="779.8"/>
<line x1="1577.3" y1="470.3" x2="1845.1" y2="789.4"/>
<line x1="1565.8" y1="479.9" x2="1833.6" y2="799.1"/>
<line x1="1554.3" y1="489.6" x2="1822.2" y2="808.7"/>
<line x1="1542.9" y1="499.2" x2="1810.7" y2="818.4"/>
<line x1="1531.4" y1="508.9" x2="1799.2" y2="828"/>
<line x1="1519.9" y1="518.5" x2="1787.7" y2="837.7"/>
<line x1="1508.4" y1="528.1" x2="1776.2" y2="847.3"/>
<line x1="1496.9" y1="537.8" x2="1764.7" y2="856.9"/>
<line x1="1485.4" y1="547.4" x2="1753.2" y2="866.6"/>
<line x1="1473.9" y1="557.1" x2="1741.7" y2="876.2"/>
<line x1="1462.4" y1="566.7" x2="1730.2" y2="885.9"/>
<line x1="1450.9" y1="576.3" x2="1718.7" y2="895.5"/>
</g>
<clipPath id="hc15"><path d="M1880 603L1932 606L1934 560L1900 580Z"/></clipPath>
<g clip-path="url(#hc15)" stroke="#c0c0c0" stroke-width="1.0" opacity="1.0">
<line x1="1907" y1="530" x2="1960" y2="583"/>
<line x1="1902.1" y1="535" x2="1955" y2="587.9"/>
<line x1="1897.1" y1="539.9" x2="1950.1" y2="592.9"/>
<line x1="1892.2" y1="544.9" x2="1945.1" y2="597.8"/>
<line x1="1887.2" y1="549.8" x2="1940.2" y2="602.8"/>
<line x1="1882.3" y1="554.8" x2="1935.2" y2="607.7"/>
<line x1="1877.3" y1="559.7" x2="1930.3" y2="612.7"/>
<line x1="1872.4" y1="564.7" x2="1925.3" y2="617.6"/>
<line x1="1867.4" y1="569.6" x2="1920.4" y2="622.6"/>
<line x1="1862.5" y1="574.6" x2="1915.4" y2="627.5"/>
<line x1="1857.5" y1="579.5" x2="1910.5" y2="632.5"/>
</g>
<clipPath id="hc16"><path d="M1880 603L1932 606L1934 560L1900 580Z"/></clipPath>
<g clip-path="url(#hc16)" stroke="#c0c0c0" stroke-width="1.0" opacity="1.0">
<line x1="1854" y1="583" x2="1907" y2="530"/>
<line x1="1859" y1="587.9" x2="1911.9" y2="535"/>
<line x1="1863.9" y1="592.9" x2="1916.9" y2="539.9"/>
<line x1="1868.9" y1="597.8" x2="1921.8" y2="544.9"/>
<line x1="1873.8" y1="602.8" x2="1926.8" y2="549.8"/>
<line x1="1878.8" y1="607.7" x2="1931.7" y2="554.8"/>
<line x1="1883.7" y1="612.7" x2="1936.7" y2="559.7"/>
<line x1="1888.7" y1="617.6" x2="1941.6" y2="564.7"/>
<line x1="1893.6" y1="622.6" x2="1946.6" y2="569.6"/>
<line x1="1898.6" y1="627.5" x2="1951.5" y2="574.6"/>
<line x1="1903.5" y1="632.5" x2="1956.5" y2="579.5"/>
</g>
<clipPath id="hc17"><path d="M1934 500L1948 500L1950 612L1934 606Z"/></clipPath>
<g clip-path="url(#hc17)" stroke="#c8c8c8" stroke-width="1.0" opacity="1.0">
<line x1="1883.4" y1="497.4" x2="2000.6" y2="497.4"/>
<line x1="1883.4" y1="502.4" x2="2000.6" y2="502.4"/>
<line x1="1883.4" y1="507.4" x2="2000.6" y2="507.4"/>
<line x1="1883.4" y1="512.4" x2="2000.6" y2="512.4"/>
<line x1="1883.4" y1="517.4" x2="2000.6" y2="517.4"/>
<line x1="1883.4" y1="522.4" x2="2000.6" y2="522.4"/>
<line x1="1883.4" y1="527.4" x2="2000.6" y2="527.4"/>
<line x1="1883.4" y1="532.4" x2="2000.6" y2="532.4"/>
<line x1="1883.4" y1="537.4" x2="2000.6" y2="537.4"/>
<line x1="1883.4" y1="542.4" x2="2000.6" y2="542.4"/>
<line x1="1883.4" y1="547.4" x2="2000.6" y2="547.4"/>
<line x1="1883.4" y1="552.4" x2="2000.6" y2="552.4"/>
<line x1="1883.4" y1="557.4" x2="2000.6" y2="557.4"/>
<line x1="1883.4" y1="562.4" x2="2000.6" y2="562.4"/>
<line x1="1883.4" y1="567.4" x2="2000.6" y2="567.4"/>
<line x1="1883.4" y1="572.4" x2="2000.6" y2="572.4"/>
<line x1="1883.4" y1="577.4" x2="2000.6" y2="577.4"/>
<line x1="1883.4" y1="582.4" x2="2000.6" y2="582.4"/>
<line x1="1883.4" y1="587.4" x2="2000.6" y2="587.4"/>
<line x1="1883.4" y1="592.4" x2="2000.6" y2="592.4"/>
<line x1="1883.4" y1="597.4" x2="2000.6" y2="597.4"/>
<line x1="1883.4" y1="602.4" x2="2000.6" y2="602.4"/>
<line x1="1883.4" y1="607.4" x2="2000.6" y2="607.4"/>
<line x1="1883.4" y1="612.4" x2="2000.6" y2="612.4"/>
</g>
<clipPath id="hc18"><path d="M664 790L697 763L763 722L842 690L842 712L763 745.5L697 785L668 812Z"/></clipPath>
<g clip-path="url(#hc18)" stroke="#bcbcbc" stroke-width="1.0" opacity="1.0">
<line x1="604.4" y1="796.4" x2="707.6" y2="602.4"/>
<line x1="614.1" y1="801.6" x2="717.3" y2="607.5"/>
<line x1="623.8" y1="806.8" x2="727" y2="612.7"/>
<line x1="633.5" y1="811.9" x2="736.7" y2="617.9"/>
<line x1="643.2" y1="817.1" x2="746.4" y2="623"/>
<line x1="652.9" y1="822.3" x2="756.1" y2="628.2"/>
<line x1="662.6" y1="827.4" x2="765.8" y2="633.4"/>
<line x1="672.4" y1="832.6" x2="775.5" y2="638.5"/>
<line x1="682.1" y1="837.8" x2="785.3" y2="643.7"/>
<line x1="691.8" y1="842.9" x2="795" y2="648.8"/>
<line x1="701.5" y1="848.1" x2="804.7" y2="654"/>
<line x1="711.2" y1="853.2" x2="814.4" y2="659.2"/>
<line x1="720.9" y1="858.4" x2="824.1" y2="664.3"/>
<line x1="730.6" y1="863.6" x2="833.8" y2="669.5"/>
<line x1="740.3" y1="868.7" x2="843.5" y2="674.7"/>
<line x1="750.1" y1="873.9" x2="853.2" y2="679.8"/>
<line x1="759.8" y1="879.1" x2="863" y2="685"/>
<line x1="769.5" y1="884.2" x2="872.7" y2="690.2"/>
<line x1="779.2" y1="889.4" x2="882.4" y2="695.3"/>
<line x1="788.9" y1="894.6" x2="892.1" y2="700.5"/>
</g>
<clipPath id="hc19"><path d="M664 790L697 763L763 722L842 690L842 712L763 745.5L697 785L668 812Z"/></clipPath>
<g clip-path="url(#hc19)" stroke="#c4c4c4" stroke-width="1.0" opacity="1.0">
<line x1="798.4" y1="602.4" x2="901.6" y2="796.4"/>
<line x1="788.7" y1="607.5" x2="891.9" y2="801.6"/>
<line x1="779" y1="612.7" x2="882.2" y2="806.8"/>
<line x1="769.3" y1="617.9" x2="872.5" y2="811.9"/>
<line x1="759.6" y1="623" x2="862.8" y2="817.1"/>
<line x1="749.9" y1="628.2" x2="853.1" y2="822.3"/>
<line x1="740.2" y1="633.4" x2="843.4" y2="827.4"/>
<line x1="730.5" y1="638.5" x2="833.6" y2="832.6"/>
<line x1="720.7" y1="643.7" x2="823.9" y2="837.8"/>
<line x1="711" y1="648.8" x2="814.2" y2="842.9"/>
<line x1="701.3" y1="654" x2="804.5" y2="848.1"/>
<line x1="691.6" y1="659.2" x2="794.8" y2="853.2"/>
<line x1="681.9" y1="664.3" x2="785.1" y2="858.4"/>
<line x1="672.2" y1="669.5" x2="775.4" y2="863.6"/>
<line x1="662.5" y1="674.7" x2="765.7" y2="868.7"/>
<line x1="652.8" y1="679.8" x2="755.9" y2="873.9"/>
<line x1="643" y1="685" x2="746.2" y2="879.1"/>
<line x1="633.3" y1="690.2" x2="736.5" y2="884.2"/>
<line x1="623.6" y1="695.3" x2="726.8" y2="889.4"/>
<line x1="613.9" y1="700.5" x2="717.1" y2="894.6"/>
</g>
<clipPath id="dm"><path d="M672 890L690 884L829 898L961 914L1100 929L1269 945L1290 947L1655 990L1700 996L1722 1040L1716 1070L1748 1110L1740 1150L1760 1180L1752 1206L1661 1192L1529 1170L1397 1150L1264 1130L1132 1106L1047 1090L967 1072L888 1054L835 1046L786 1046L776 1041L697 1033L668 1028L666 960Z"/></clipPath>
<g clip-path="url(#dm)" stroke="#808080" stroke-width="1" opacity="0.5">
<line x1="300" y1="860" x2="485" y2="1220"/>
<line x1="500" y1="860" x2="300" y2="1220"/>
<line x1="325.5" y1="860" x2="510.5" y2="1220"/>
<line x1="525.5" y1="860" x2="325.5" y2="1220"/>
<line x1="351" y1="860" x2="536" y2="1220"/>
<line x1="551" y1="860" x2="351" y2="1220"/>
<line x1="376.5" y1="860" x2="561.5" y2="1220"/>
<line x1="576.5" y1="860" x2="376.5" y2="1220"/>
<line x1="402" y1="860" x2="587" y2="1220"/>
<line x1="602" y1="860" x2="402" y2="1220"/>
<line x1="427.5" y1="860" x2="612.5" y2="1220"/>
<line x1="627.5" y1="860" x2="427.5" y2="1220"/>
<line x1="453" y1="860" x2="638" y2="1220"/>
<line x1="653" y1="860" x2="453" y2="1220"/>
<line x1="478.5" y1="860" x2="663.5" y2="1220"/>
<line x1="678.5" y1="860" x2="478.5" y2="1220"/>
<line x1="504" y1="860" x2="689" y2="1220"/>
<line x1="704" y1="860" x2="504" y2="1220"/>
<line x1="529.5" y1="860" x2="714.5" y2="1220"/>
<line x1="729.5" y1="860" x2="529.5" y2="1220"/>
<line x1="555" y1="860" x2="740" y2="1220"/>
<line x1="755" y1="860" x2="555" y2="1220"/>
<line x1="580.5" y1="860" x2="765.5" y2="1220"/>
<line x1="780.5" y1="860" x2="580.5" y2="1220"/>
<line x1="606" y1="860" x2="791" y2="1220"/>
<line x1="806" y1="860" x2="606" y2="1220"/>
<line x1="631.5" y1="860" x2="816.5" y2="1220"/>
<line x1="831.5" y1="860" x2="631.5" y2="1220"/>
<line x1="657" y1="860" x2="842" y2="1220"/>
<line x1="857" y1="860" x2="657" y2="1220"/>
<line x1="682.5" y1="860" x2="867.5" y2="1220"/>
<line x1="882.5" y1="860" x2="682.5" y2="1220"/>
<line x1="708" y1="860" x2="893" y2="1220"/>
<line x1="908" y1="860" x2="708" y2="1220"/>
<line x1="733.5" y1="860" x2="918.5" y2="1220"/>
<line x1="933.5" y1="860" x2="733.5" y2="1220"/>
<line x1="759" y1="860" x2="944" y2="1220"/>
<line x1="959" y1="860" x2="759" y2="1220"/>
<line x1="784.5" y1="860" x2="969.5" y2="1220"/>
<line x1="984.5" y1="860" x2="784.5" y2="1220"/>
<line x1="810" y1="860" x2="995" y2="1220"/>
<line x1="1010" y1="860" x2="810" y2="1220"/>
<line x1="835.5" y1="860" x2="1020.5" y2="1220"/>
<line x1="1035.5" y1="860" x2="835.5" y2="1220"/>
<line x1="861" y1="860" x2="1046" y2="1220"/>
<line x1="1061" y1="860" x2="861" y2="1220"/>
<line x1="886.5" y1="860" x2="1071.5" y2="1220"/>
<line x1="1086.5" y1="860" x2="886.5" y2="1220"/>
<line x1="912" y1="860" x2="1097" y2="1220"/>
<line x1="1112" y1="860" x2="912" y2="1220"/>
<line x1="937.5" y1="860" x2="1122.5" y2="1220"/>
<line x1="1137.5" y1="860" x2="937.5" y2="1220"/>
<line x1="963" y1="860" x2="1148" y2="1220"/>
<line x1="1163" y1="860" x2="963" y2="1220"/>
<line x1="988.5" y1="860" x2="1173.5" y2="1220"/>
<line x1="1188.5" y1="860" x2="988.5" y2="1220"/>
<line x1="1014" y1="860" x2="1199" y2="1220"/>
<line x1="1214" y1="860" x2="1014" y2="1220"/>
<line x1="1039.5" y1="860" x2="1224.5" y2="1220"/>
<line x1="1239.5" y1="860" x2="1039.5" y2="1220"/>
<line x1="1065" y1="860" x2="1250" y2="1220"/>
<line x1="1265" y1="860" x2="1065" y2="1220"/>
<line x1="1090.5" y1="860" x2="1275.5" y2="1220"/>
<line x1="1290.5" y1="860" x2="1090.5" y2="1220"/>
<line x1="1116" y1="860" x2="1301" y2="1220"/>
<line x1="1316" y1="860" x2="1116" y2="1220"/>
<line x1="1141.5" y1="860" x2="1326.5" y2="1220"/>
<line x1="1341.5" y1="860" x2="1141.5" y2="1220"/>
<line x1="1167" y1="860" x2="1352" y2="1220"/>
<line x1="1367" y1="860" x2="1167" y2="1220"/>
<line x1="1192.5" y1="860" x2="1377.5" y2="1220"/>
<line x1="1392.5" y1="860" x2="1192.5" y2="1220"/>
<line x1="1218" y1="860" x2="1403" y2="1220"/>
<line x1="1418" y1="860" x2="1218" y2="1220"/>
<line x1="1243.5" y1="860" x2="1428.5" y2="1220"/>
<line x1="1443.5" y1="860" x2="1243.5" y2="1220"/>
<line x1="1269" y1="860" x2="1454" y2="1220"/>
<line x1="1469" y1="860" x2="1269" y2="1220"/>
<line x1="1294.5" y1="860" x2="1479.5" y2="1220"/>
<line x1="1494.5" y1="860" x2="1294.5" y2="1220"/>
<line x1="1320" y1="860" x2="1505" y2="1220"/>
<line x1="1520" y1="860" x2="1320" y2="1220"/>
<line x1="1345.5" y1="860" x2="1530.5" y2="1220"/>
<line x1="1545.5" y1="860" x2="1345.5" y2="1220"/>
<line x1="1371" y1="860" x2="1556" y2="1220"/>
<line x1="1571" y1="860" x2="1371" y2="1220"/>
<line x1="1396.5" y1="860" x2="1581.5" y2="1220"/>
<line x1="1596.5" y1="860" x2="1396.5" y2="1220"/>
<line x1="1422" y1="860" x2="1607" y2="1220"/>
<line x1="1622" y1="860" x2="1422" y2="1220"/>
<line x1="1447.5" y1="860" x2="1632.5" y2="1220"/>
<line x1="1647.5" y1="860" x2="1447.5" y2="1220"/>
<line x1="1473" y1="860" x2="1658" y2="1220"/>
<line x1="1673" y1="860" x2="1473" y2="1220"/>
<line x1="1498.5" y1="860" x2="1683.5" y2="1220"/>
<line x1="1698.5" y1="860" x2="1498.5" y2="1220"/>
<line x1="1524" y1="860" x2="1709" y2="1220"/>
<line x1="1724" y1="860" x2="1524" y2="1220"/>
<line x1="1549.5" y1="860" x2="1734.5" y2="1220"/>
<line x1="1749.5" y1="860" x2="1549.5" y2="1220"/>
<line x1="1575" y1="860" x2="1760" y2="1220"/>
<line x1="1775" y1="860" x2="1575" y2="1220"/>
<line x1="1600.5" y1="860" x2="1785.5" y2="1220"/>
<line x1="1800.5" y1="860" x2="1600.5" y2="1220"/>
<line x1="1626" y1="860" x2="1811" y2="1220"/>
<line x1="1826" y1="860" x2="1626" y2="1220"/>
<line x1="1651.5" y1="860" x2="1836.5" y2="1220"/>
<line x1="1851.5" y1="860" x2="1651.5" y2="1220"/>
<line x1="1677" y1="860" x2="1862" y2="1220"/>
<line x1="1877" y1="860" x2="1677" y2="1220"/>
<line x1="1702.5" y1="860" x2="1887.5" y2="1220"/>
<line x1="1902.5" y1="860" x2="1702.5" y2="1220"/>
<line x1="1728" y1="860" x2="1913" y2="1220"/>
<line x1="1928" y1="860" x2="1728" y2="1220"/>
<line x1="1753.5" y1="860" x2="1938.5" y2="1220"/>
<line x1="1953.5" y1="860" x2="1753.5" y2="1220"/>
<line x1="1779" y1="860" x2="1964" y2="1220"/>
<line x1="1979" y1="860" x2="1779" y2="1220"/>
<line x1="1804.5" y1="860" x2="1989.5" y2="1220"/>
<line x1="2004.5" y1="860" x2="1804.5" y2="1220"/>
<line x1="1830" y1="860" x2="2015" y2="1220"/>
<line x1="2030" y1="860" x2="1830" y2="1220"/>
<line x1="1855.5" y1="860" x2="2040.5" y2="1220"/>
<line x1="2055.5" y1="860" x2="1855.5" y2="1220"/>
<line x1="1881" y1="860" x2="2066" y2="1220"/>
<line x1="2081" y1="860" x2="1881" y2="1220"/>
</g>
<path d="M684 1017C703.3 1015.5 755.7 1010.8 800 1008C844.3 1005.2 893.5 1004 950 1000C1006.5 996 1107.5 986.7 1139 984" fill="none" stroke="#888" stroke-width="1.2" stroke-linecap="round" stroke-linejoin="round" opacity="0.8" />
<g stroke="#9a9a9a" stroke-width="1" opacity="0.8">
<line x1="560" y1="1036" x2="560" y2="1055"/>
<line x1="564.2" y1="1036.3" x2="564.2" y2="1055.7"/>
<line x1="568.4" y1="1036.6" x2="568.4" y2="1056.3"/>
<line x1="572.6" y1="1036.9" x2="572.6" y2="1057"/>
<line x1="576.8" y1="1037.2" x2="576.8" y2="1057.6"/>
<line x1="581" y1="1037.5" x2="581" y2="1058.3"/>
<line x1="585.2" y1="1037.8" x2="585.2" y2="1058.9"/>
<line x1="589.4" y1="1038.1" x2="589.4" y2="1059.6"/>
<line x1="593.6" y1="1038.4" x2="593.6" y2="1060.2"/>
<line x1="597.8" y1="1038.6" x2="597.8" y2="1060.9"/>
<line x1="602" y1="1038.9" x2="602" y2="1061.5"/>
<line x1="606.2" y1="1039.2" x2="606.2" y2="1062.2"/>
<line x1="610.4" y1="1039.5" x2="610.4" y2="1062.8"/>
<line x1="614.6" y1="1039.8" x2="614.6" y2="1063.5"/>
<line x1="618.8" y1="1040.1" x2="618.8" y2="1064.1"/>
<line x1="623" y1="1040.4" x2="623" y2="1064.8"/>
<line x1="627.2" y1="1040.7" x2="627.2" y2="1065.4"/>
<line x1="631.4" y1="1041" x2="631.4" y2="1066.1"/>
<line x1="635.6" y1="1041.3" x2="635.6" y2="1066.7"/>
<line x1="639.8" y1="1041.6" x2="639.8" y2="1067.4"/>
<line x1="644" y1="1041.9" x2="644" y2="1068"/>
<line x1="648.2" y1="1042.2" x2="648.2" y2="1068.7"/>
<line x1="652.4" y1="1042.5" x2="652.4" y2="1069.3"/>
<line x1="656.6" y1="1042.8" x2="656.6" y2="1070"/>
<line x1="660.8" y1="1043.1" x2="660.8" y2="1070.6"/>
<line x1="665" y1="1043.3" x2="665" y2="1071.3"/>
<line x1="669.2" y1="1043.6" x2="669.2" y2="1071.9"/>
<line x1="673.4" y1="1043.9" x2="673.4" y2="1072.6"/>
<line x1="677.6" y1="1044.2" x2="677.6" y2="1073.2"/>
<line x1="681.8" y1="1044.5" x2="681.8" y2="1073.9"/>
<line x1="686" y1="1044.8" x2="686" y2="1074.5"/>
<line x1="690.2" y1="1045.1" x2="690.2" y2="1075.2"/>
<line x1="694.4" y1="1045.4" x2="694.4" y2="1075.8"/>
<line x1="698.6" y1="1045.7" x2="698.6" y2="1076.5"/>
<line x1="702.8" y1="1046" x2="702.8" y2="1077.1"/>
<line x1="707" y1="1046.3" x2="707" y2="1077.8"/>
<line x1="711.2" y1="1046.6" x2="711.2" y2="1078.4"/>
<line x1="715.4" y1="1046.9" x2="715.4" y2="1079.1"/>
<line x1="719.6" y1="1047.2" x2="719.6" y2="1079.7"/>
<line x1="723.8" y1="1047.5" x2="723.8" y2="1080.4"/>
<line x1="728" y1="1047.8" x2="728" y2="1081"/>
<line x1="732.2" y1="1048.1" x2="732.2" y2="1081.7"/>
<line x1="736.4" y1="1048.3" x2="736.4" y2="1082.3"/>
<line x1="740.6" y1="1048.6" x2="740.6" y2="1083"/>
<line x1="744.8" y1="1048.9" x2="744.8" y2="1083.6"/>
<line x1="749" y1="1049.2" x2="749" y2="1084.3"/>
<line x1="753.2" y1="1049.5" x2="753.2" y2="1084.9"/>
<line x1="757.4" y1="1049.8" x2="757.4" y2="1085.6"/>
<line x1="761.6" y1="1050.1" x2="761.6" y2="1086.2"/>
<line x1="765.8" y1="1050.4" x2="765.8" y2="1086.9"/>
<line x1="770" y1="1050.7" x2="770" y2="1087.5"/>
<line x1="774.2" y1="1051" x2="774.2" y2="1088.2"/>
<line x1="778.4" y1="1051.3" x2="778.4" y2="1088.9"/>
<line x1="782.6" y1="1051.6" x2="782.6" y2="1089.5"/>
<line x1="786.8" y1="1051.9" x2="786.8" y2="1090.2"/>
<line x1="791" y1="1052.2" x2="791" y2="1090.8"/>
<line x1="795.2" y1="1052.5" x2="795.2" y2="1091.5"/>
<line x1="799.4" y1="1052.8" x2="799.4" y2="1092.1"/>
<line x1="803.6" y1="1053.1" x2="803.6" y2="1092.8"/>
<line x1="807.8" y1="1053.3" x2="807.8" y2="1093.4"/>
<line x1="812" y1="1053.6" x2="812" y2="1094.1"/>
<line x1="816.2" y1="1053.9" x2="816.2" y2="1094.7"/>
<line x1="820.4" y1="1054.2" x2="820.4" y2="1095.4"/>
<line x1="824.6" y1="1054.5" x2="824.6" y2="1096"/>
<line x1="828.8" y1="1054.8" x2="828.8" y2="1096.7"/>
<line x1="833" y1="1055.1" x2="833" y2="1097.3"/>
<line x1="837.2" y1="1055.4" x2="837.2" y2="1098"/>
<line x1="841.4" y1="1055.7" x2="841.4" y2="1098.6"/>
<line x1="845.6" y1="1056" x2="845.6" y2="1099.3"/>
<line x1="849.8" y1="1056.3" x2="849.8" y2="1099.9"/>
</g>
<line x1="1956" y1="821" x2="2017.9" y2="810.4" stroke="#aaa" stroke-width="1.1" opacity="0.21"/>
<line x1="2017.9" y1="810.4" x2="2214" y2="776.8" stroke="#aaa" stroke-width="1.1" opacity="0.6"/>
<line x1="2214" y1="776.8" x2="2300" y2="762" stroke="#aaa" stroke-width="1.1" opacity="0.21"/>
<line x1="1956" y1="864" x2="2017.9" y2="851.6" stroke="#aaa" stroke-width="1.1" opacity="0.21"/>
<line x1="2017.9" y1="851.6" x2="2214" y2="812.2" stroke="#aaa" stroke-width="1.1" opacity="0.6"/>
<line x1="2214" y1="812.2" x2="2300" y2="795" stroke="#aaa" stroke-width="1.1" opacity="0.21"/>
<line x1="2080" y1="798" x2="2124.1" y2="789.7" stroke="#aaa" stroke-width="1.1" opacity="0.21"/>
<line x1="2124.1" y1="789.7" x2="2263.8" y2="763.5" stroke="#aaa" stroke-width="1.1" opacity="0.6"/>
<line x1="2263.8" y1="763.5" x2="2325" y2="752" stroke="#aaa" stroke-width="1.1" opacity="0.21"/>
<line x1="2080" y1="838" x2="2144.3" y2="824.7" stroke="#aaa" stroke-width="1.1" opacity="0.21"/>
<line x1="2144.3" y1="824.7" x2="2347.8" y2="782.5" stroke="#aaa" stroke-width="1.1" opacity="0.6"/>
<line x1="2347.8" y1="782.5" x2="2437" y2="764" stroke="#aaa" stroke-width="1.1" opacity="0.21"/>
<line x1="2364" y1="833" x2="2406.8" y2="824.7" stroke="#aaa" stroke-width="1.1" opacity="0.21"/>
<line x1="2406.8" y1="824.7" x2="2542.5" y2="798.5" stroke="#aaa" stroke-width="1.1" opacity="0.6"/>
<line x1="2542.5" y1="798.5" x2="2602" y2="787" stroke="#aaa" stroke-width="1.1" opacity="0.21"/>
<line x1="1900" y1="762" x2="1954" y2="754.4" stroke="#aaa" stroke-width="1.1" opacity="0.21"/>
<line x1="1954" y1="754.4" x2="2125" y2="730.5" stroke="#aaa" stroke-width="1.1" opacity="0.6"/>
<line x1="2125" y1="730.5" x2="2200" y2="720" stroke="#aaa" stroke-width="1.1" opacity="0.21"/>
<line x1="1960" y1="790" x2="1994.2" y2="781.9" stroke="#aaa" stroke-width="1.1" opacity="0.21"/>
<line x1="1994.2" y1="781.9" x2="2102.5" y2="756.2" stroke="#aaa" stroke-width="1.1" opacity="0.6"/>
<line x1="2102.5" y1="756.2" x2="2150" y2="745" stroke="#aaa" stroke-width="1.1" opacity="0.21"/>
<line x1="2080" y1="780" x2="2172.9" y2="786.8" stroke="#bbb" stroke-width="1.0" opacity="0.21"/>
<line x1="2172.9" y1="786.8" x2="2467" y2="808.5" stroke="#bbb" stroke-width="1.0" opacity="0.6"/>
<line x1="2467" y1="808.5" x2="2596" y2="818" stroke="#bbb" stroke-width="1.0" opacity="0.21"/>
<line x1="1956" y1="800" x2="2035.9" y2="806.5" stroke="#bbb" stroke-width="1.0" opacity="0.21"/>
<line x1="2035.9" y1="806.5" x2="2289" y2="827" stroke="#bbb" stroke-width="1.0" opacity="0.6"/>
<line x1="2289" y1="827" x2="2400" y2="836" stroke="#bbb" stroke-width="1.0" opacity="0.21"/>
<line x1="1960" y1="852" x2="2015.8" y2="857" stroke="#bbb" stroke-width="1.0" opacity="0.21"/>
<line x1="2015.8" y1="857" x2="2192.5" y2="873" stroke="#bbb" stroke-width="1.0" opacity="0.6"/>
<line x1="2192.5" y1="873" x2="2270" y2="880" stroke="#bbb" stroke-width="1.0" opacity="0.21"/>
<line x1="2100" y1="735" x2="2172" y2="741.3" stroke="#bbb" stroke-width="1.0" opacity="0.21"/>
<line x1="2172" y1="741.3" x2="2400" y2="761.2" stroke="#bbb" stroke-width="1.0" opacity="0.6"/>
<line x1="2400" y1="761.2" x2="2500" y2="770" stroke="#bbb" stroke-width="1.0" opacity="0.21"/>
<line x1="469" y1="1113.7" x2="509.2" y2="1099.4" stroke="#484848" stroke-width="1.25" opacity="0.26249999999999996"/>
<line x1="509.2" y1="1099.4" x2="562.8" y2="1080.3" stroke="#484848" stroke-width="1.25" opacity="0.75"/>
<line x1="562.8" y1="1080.3" x2="603" y2="1066" stroke="#484848" stroke-width="1.25" opacity="0.26249999999999996"/>
<line x1="463" y1="1139" x2="516.1" y2="1120.1" stroke="#484848" stroke-width="1.25" opacity="0.26249999999999996"/>
<line x1="516.1" y1="1120.1" x2="586.9" y2="1094.9" stroke="#484848" stroke-width="1.25" opacity="0.75"/>
<line x1="586.9" y1="1094.9" x2="640" y2="1076" stroke="#484848" stroke-width="1.25" opacity="0.26249999999999996"/>
<line x1="456" y1="1168.3" x2="521.9" y2="1144.8" stroke="#484848" stroke-width="1.25" opacity="0.26249999999999996"/>
<line x1="521.9" y1="1144.8" x2="619.8" y2="1110" stroke="#484848" stroke-width="1.25" opacity="0.75"/>
<line x1="619.8" y1="1110" x2="690" y2="1085" stroke="#484848" stroke-width="1.25" opacity="0.26249999999999996"/>
<line x1="454" y1="1194.4" x2="519.9" y2="1170.9" stroke="#484848" stroke-width="1.25" opacity="0.26249999999999996"/>
<line x1="519.9" y1="1170.9" x2="651.4" y2="1124.1" stroke="#484848" stroke-width="1.25" opacity="0.75"/>
<line x1="651.4" y1="1124.1" x2="736" y2="1094" stroke="#484848" stroke-width="1.25" opacity="0.26249999999999996"/>
<line x1="451" y1="1222.7" x2="516.9" y2="1199.2" stroke="#484848" stroke-width="1.25" opacity="0.26249999999999996"/>
<line x1="516.9" y1="1199.2" x2="691.2" y2="1137.2" stroke="#484848" stroke-width="1.25" opacity="0.75"/>
<line x1="691.2" y1="1137.2" x2="776" y2="1107" stroke="#484848" stroke-width="1.25" opacity="0.26249999999999996"/>
<line x1="451" y1="1253.7" x2="516.9" y2="1230.2" stroke="#484848" stroke-width="1.25" opacity="0.26249999999999996"/>
<line x1="516.9" y1="1230.2" x2="764.2" y2="1142.2" stroke="#484848" stroke-width="1.25" opacity="0.75"/>
<line x1="764.2" y1="1142.2" x2="849" y2="1112" stroke="#484848" stroke-width="1.25" opacity="0.26249999999999996"/>
<line x1="453" y1="1285.8" x2="518.9" y2="1262.4" stroke="#484848" stroke-width="1.25" opacity="0.26249999999999996"/>
<line x1="518.9" y1="1262.4" x2="817.2" y2="1156.2" stroke="#484848" stroke-width="1.25" opacity="0.75"/>
<line x1="817.2" y1="1156.2" x2="902" y2="1126" stroke="#484848" stroke-width="1.25" opacity="0.26249999999999996"/>
<line x1="455" y1="1313.6" x2="520.9" y2="1290.1" stroke="#484848" stroke-width="1.25" opacity="0.26249999999999996"/>
<line x1="520.9" y1="1290.1" x2="866.2" y2="1167.2" stroke="#484848" stroke-width="1.25" opacity="0.75"/>
<line x1="866.2" y1="1167.2" x2="951" y2="1137" stroke="#484848" stroke-width="1.25" opacity="0.26249999999999996"/>
<line x1="459" y1="1339.5" x2="524.9" y2="1316" stroke="#484848" stroke-width="1.25" opacity="0.26249999999999996"/>
<line x1="524.9" y1="1316" x2="909.2" y2="1179.2" stroke="#484848" stroke-width="1.25" opacity="0.75"/>
<line x1="909.2" y1="1179.2" x2="994" y2="1149" stroke="#484848" stroke-width="1.25" opacity="0.26249999999999996"/>
<line x1="465" y1="1367.1" x2="530.9" y2="1343.6" stroke="#484848" stroke-width="1.25" opacity="0.26249999999999996"/>
<line x1="530.9" y1="1343.6" x2="942.2" y2="1197.2" stroke="#484848" stroke-width="1.25" opacity="0.75"/>
<line x1="942.2" y1="1197.2" x2="1027" y2="1167" stroke="#484848" stroke-width="1.25" opacity="0.26249999999999996"/>
<line x1="496" y1="1387.5" x2="561.9" y2="1364.1" stroke="#484848" stroke-width="1.25" opacity="0.26249999999999996"/>
<line x1="561.9" y1="1364.1" x2="1008.2" y2="1205.2" stroke="#484848" stroke-width="1.25" opacity="0.75"/>
<line x1="1008.2" y1="1205.2" x2="1093" y2="1175" stroke="#484848" stroke-width="1.25" opacity="0.26249999999999996"/>
<line x1="540" y1="1398.8" x2="605.9" y2="1375.3" stroke="#484848" stroke-width="1.25" opacity="0.26249999999999996"/>
<line x1="605.9" y1="1375.3" x2="1064.2" y2="1212.2" stroke="#484848" stroke-width="1.25" opacity="0.75"/>
<line x1="1064.2" y1="1212.2" x2="1149" y2="1182" stroke="#484848" stroke-width="1.25" opacity="0.26249999999999996"/>
<line x1="591" y1="1411.1" x2="656.9" y2="1387.6" stroke="#484848" stroke-width="1.25" opacity="0.26249999999999996"/>
<line x1="656.9" y1="1387.6" x2="1113.2" y2="1225.2" stroke="#484848" stroke-width="1.25" opacity="0.75"/>
<line x1="1113.2" y1="1225.2" x2="1198" y2="1195" stroke="#484848" stroke-width="1.25" opacity="0.26249999999999996"/>
<line x1="637" y1="1422.4" x2="702.9" y2="1398.9" stroke="#484848" stroke-width="1.25" opacity="0.26249999999999996"/>
<line x1="702.9" y1="1398.9" x2="1143.2" y2="1242.2" stroke="#484848" stroke-width="1.25" opacity="0.75"/>
<line x1="1143.2" y1="1242.2" x2="1228" y2="1212" stroke="#484848" stroke-width="1.25" opacity="0.26249999999999996"/>
<line x1="685" y1="1434.2" x2="750.9" y2="1410.7" stroke="#484848" stroke-width="1.25" opacity="0.26249999999999996"/>
<line x1="750.9" y1="1410.7" x2="1196.2" y2="1252.2" stroke="#484848" stroke-width="1.25" opacity="0.75"/>
<line x1="1196.2" y1="1252.2" x2="1281" y2="1222" stroke="#484848" stroke-width="1.25" opacity="0.26249999999999996"/>
<line x1="732" y1="1445.9" x2="797.9" y2="1422.4" stroke="#484848" stroke-width="1.25" opacity="0.26249999999999996"/>
<line x1="797.9" y1="1422.4" x2="1259.2" y2="1258.2" stroke="#484848" stroke-width="1.25" opacity="0.75"/>
<line x1="1259.2" y1="1258.2" x2="1344" y2="1228" stroke="#484848" stroke-width="1.25" opacity="0.26249999999999996"/>
<line x1="783" y1="1458.4" x2="848.9" y2="1434.9" stroke="#484848" stroke-width="1.25" opacity="0.26249999999999996"/>
<line x1="848.9" y1="1434.9" x2="1289.2" y2="1278.2" stroke="#484848" stroke-width="1.25" opacity="0.75"/>
<line x1="1289.2" y1="1278.2" x2="1374" y2="1248" stroke="#484848" stroke-width="1.25" opacity="0.26249999999999996"/>
<line x1="839" y1="1471.9" x2="904.9" y2="1448.4" stroke="#484848" stroke-width="1.25" opacity="0.26249999999999996"/>
<line x1="904.9" y1="1448.4" x2="1338.2" y2="1294.2" stroke="#484848" stroke-width="1.25" opacity="0.75"/>
<line x1="1338.2" y1="1294.2" x2="1423" y2="1264" stroke="#484848" stroke-width="1.25" opacity="0.26249999999999996"/>
<line x1="884" y1="1483" x2="949.9" y2="1459.5" stroke="#484848" stroke-width="1.25" opacity="0.26249999999999996"/>
<line x1="949.9" y1="1459.5" x2="1358.2" y2="1314.2" stroke="#484848" stroke-width="1.25" opacity="0.75"/>
<line x1="1358.2" y1="1314.2" x2="1443" y2="1284" stroke="#484848" stroke-width="1.25" opacity="0.26249999999999996"/>
<line x1="929" y1="1494" x2="994.9" y2="1470.6" stroke="#484848" stroke-width="1.25" opacity="0.26249999999999996"/>
<line x1="994.9" y1="1470.6" x2="1375.2" y2="1335.2" stroke="#484848" stroke-width="1.25" opacity="0.75"/>
<line x1="1375.2" y1="1335.2" x2="1460" y2="1305" stroke="#484848" stroke-width="1.25" opacity="0.26249999999999996"/>
<line x1="972" y1="1504.6" x2="1037.9" y2="1481.1" stroke="#484848" stroke-width="1.25" opacity="0.26249999999999996"/>
<line x1="1037.9" y1="1481.1" x2="1341.2" y2="1373.2" stroke="#484848" stroke-width="1.25" opacity="0.75"/>
<line x1="1341.2" y1="1373.2" x2="1426" y2="1343" stroke="#484848" stroke-width="1.25" opacity="0.26249999999999996"/>
<line x1="1011" y1="1513.8" x2="1076.9" y2="1490.3" stroke="#484848" stroke-width="1.25" opacity="0.26249999999999996"/>
<line x1="1076.9" y1="1490.3" x2="1358.2" y2="1390.2" stroke="#484848" stroke-width="1.25" opacity="0.75"/>
<line x1="1358.2" y1="1390.2" x2="1443" y2="1360" stroke="#484848" stroke-width="1.25" opacity="0.26249999999999996"/>
<line x1="1061" y1="1526" x2="1126.9" y2="1502.5" stroke="#484848" stroke-width="1.25" opacity="0.26249999999999996"/>
<line x1="1126.9" y1="1502.5" x2="1358.2" y2="1420.2" stroke="#484848" stroke-width="1.25" opacity="0.75"/>
<line x1="1358.2" y1="1420.2" x2="1443" y2="1390" stroke="#484848" stroke-width="1.25" opacity="0.26249999999999996"/>
<line x1="1108" y1="1537.5" x2="1173.9" y2="1514" stroke="#484848" stroke-width="1.25" opacity="0.26249999999999996"/>
<line x1="1173.9" y1="1514" x2="1353.2" y2="1450.2" stroke="#484848" stroke-width="1.25" opacity="0.75"/>
<line x1="1353.2" y1="1450.2" x2="1438" y2="1420" stroke="#484848" stroke-width="1.25" opacity="0.26249999999999996"/>
<line x1="1151" y1="1548.5" x2="1216.9" y2="1525" stroke="#484848" stroke-width="1.25" opacity="0.26249999999999996"/>
<line x1="1216.9" y1="1525" x2="1351.2" y2="1477.2" stroke="#484848" stroke-width="1.25" opacity="0.75"/>
<line x1="1351.2" y1="1477.2" x2="1436" y2="1447" stroke="#484848" stroke-width="1.25" opacity="0.26249999999999996"/>
<line x1="1196" y1="1559.3" x2="1261.9" y2="1535.9" stroke="#484848" stroke-width="1.25" opacity="0.26249999999999996"/>
<line x1="1261.9" y1="1535.9" x2="1381.5" y2="1493.3" stroke="#484848" stroke-width="1.25" opacity="0.75"/>
<line x1="1381.5" y1="1493.3" x2="1461" y2="1465" stroke="#484848" stroke-width="1.25" opacity="0.26249999999999996"/>
<line x1="1243" y1="1571" x2="1305.4" y2="1548.8" stroke="#484848" stroke-width="1.25" opacity="0.26249999999999996"/>
<line x1="1305.4" y1="1548.8" x2="1388.6" y2="1519.2" stroke="#484848" stroke-width="1.25" opacity="0.75"/>
<line x1="1388.6" y1="1519.2" x2="1451" y2="1497" stroke="#484848" stroke-width="1.25" opacity="0.26249999999999996"/>
<line x1="1295" y1="1583.5" x2="1346" y2="1565.4" stroke="#484848" stroke-width="1.25" opacity="0.26249999999999996"/>
<line x1="1346" y1="1565.4" x2="1414" y2="1541.2" stroke="#484848" stroke-width="1.25" opacity="0.75"/>
<line x1="1414" y1="1541.2" x2="1465" y2="1523" stroke="#484848" stroke-width="1.25" opacity="0.26249999999999996"/>
<line x1="1343" y1="1595.1" x2="1384.4" y2="1580.4" stroke="#484848" stroke-width="1.25" opacity="0.26249999999999996"/>
<line x1="1384.4" y1="1580.4" x2="1439.6" y2="1560.7" stroke="#484848" stroke-width="1.25" opacity="0.75"/>
<line x1="1439.6" y1="1560.7" x2="1481" y2="1546" stroke="#484848" stroke-width="1.25" opacity="0.26249999999999996"/>
<line x1="1403" y1="1610" x2="1433.3" y2="1599.2" stroke="#484848" stroke-width="1.25" opacity="0.26249999999999996"/>
<line x1="1433.3" y1="1599.2" x2="1473.7" y2="1584.8" stroke="#484848" stroke-width="1.25" opacity="0.75"/>
<line x1="1473.7" y1="1584.8" x2="1504" y2="1574" stroke="#484848" stroke-width="1.25" opacity="0.26249999999999996"/>
<line x1="1451" y1="1621.8" x2="1474.4" y2="1613.4" stroke="#484848" stroke-width="1.25" opacity="0.26249999999999996"/>
<line x1="1474.4" y1="1613.4" x2="1505.6" y2="1602.3" stroke="#484848" stroke-width="1.25" opacity="0.75"/>
<line x1="1505.6" y1="1602.3" x2="1529" y2="1594" stroke="#484848" stroke-width="1.25" opacity="0.26249999999999996"/>
<line x1="1517" y1="1637.7" x2="1531.1" y2="1632.7" stroke="#484848" stroke-width="1.25" opacity="0.26249999999999996"/>
<line x1="1531.1" y1="1632.7" x2="1549.9" y2="1626" stroke="#484848" stroke-width="1.25" opacity="0.75"/>
<line x1="1549.9" y1="1626" x2="1564" y2="1621" stroke="#484848" stroke-width="1.25" opacity="0.26249999999999996"/>
<line x1="1579" y1="1653.3" x2="1586.8" y2="1650.5" stroke="#484848" stroke-width="1.25" opacity="0.26249999999999996"/>
<line x1="1586.8" y1="1650.5" x2="1597.2" y2="1646.8" stroke="#484848" stroke-width="1.25" opacity="0.75"/>
<line x1="1597.2" y1="1646.8" x2="1605" y2="1644" stroke="#484848" stroke-width="1.25" opacity="0.26249999999999996"/>
<path d="M342.7 242.2L343.3 243.3L344 244.7L344.9 246.3L345.9 248.1L347 250L348.1 252.1L349.3 254.3L350.5 256.6L351.7 259L352.9 261.4L354.1 263.9L355.2 266.4L356.3 268.8L357.3 271.4L358.4 273.9L359.4 276.6L360.4 279.3L361.4 282.1L362.5 285L363.7 288L364.9 291.2L366.1 294.4L367.4 297.9L368.8 301.5L370.4 305.3L372 309.3L373.7 313.5L375.5 317.9L377.3 322.4L379.2 327.1L381 331.7L382.9 336.4L384.7 341L386.4 345.6L388.1 350.1L389.7 354.5L391.2 358.7L392.7 362.9L394.1 367.1L395.5 371.2L396.9 375.4L398.2 379.5L399.5 383.5L400.8 387.7L402 391.8L403.2 395.9L404.4 400.1L405.5 404.4L406.6 408.7L407.7 413L408.7 417.3L409.7 421.6L410.6 426L411.5 430.4L412.4 434.8L413.2 439.2L414 443.7L414.8 448.2L415.6 452.7L416.4 457.3L417.1 461.8L417.8 466.4L418.4 471L419.1 475.6L419.7 480.2L420.3 484.9L420.9 489.6L421.4 494.4L421.9 499.2L422.4 504.1L422.9 509.1L423.3 514.1L423.7 519.3L424 524.5L424.4 529.9L424.7 535.3L424.9 540.7L425.2 546.3L425.4 551.8L425.6 557.4L425.8 563.1L426 568.7L426.1 574.4L426.2 580L426.3 585.7L426.4 591.3L426.3 596.9L426.3 602.6L426.2 608.3L426.1 614L426.1 619.8L426 625.6L426 631.6L426 637.6L426.1 643.8L426.2 650L426.4 656.3L426.6 662.3L426.9 668.2L427.2 674.1L427.5 680.1L427.8 686.2L428.2 692.7L428.6 699.4L429 706.7L429.4 714.5L429.7 722.9L430.1 732.1L430.5 742.4L431 753.9L431.4 766.3L431.8 779.5L432.3 793.2L432.8 807.1L433.3 820.9L433.7 834.4L434.2 847.3L434.7 859.4L435.1 870.4L435.5 880.1L436 888.5L436.4 895.9L436.8 902.4L437.2 908.2L437.7 913.5L438.1 918.3L438.5 922.8L438.9 927.2L439.3 931.6L439.7 936.1L440.1 940.9L440.5 946.2L440.9 951.8L441.4 957.7L441.9 963.7L442.4 969.8L442.9 975.9L443.4 981.9L443.9 987.7L444.4 993.4L444.8 998.7L445.2 1003.7L445.6 1008.2L445.9 1012.1L446.2 1015.5L446.5 1018.6L446.7 1021.2L446.9 1023.5L447.1 1025.5L447.2 1027.2L447.3 1028.7L447.4 1030L447.5 1031.2L447.6 1032.2L447.7 1033.2L447.8 1034.1L450.2 1033.9L450.2 1033L450.1 1032L450.1 1031L450 1029.8L449.9 1028.5L449.8 1027L449.7 1025.3L449.6 1023.3L449.4 1021L449.3 1018.4L449.1 1015.3L448.9 1011.9L448.6 1007.9L448.3 1003.4L448 998.5L447.6 993.1L447.3 987.5L446.9 981.6L446.5 975.6L446.1 969.5L445.7 963.4L445.3 957.4L444.9 951.5L444.5 945.8L444.1 940.6L443.7 935.8L443.2 931.2L442.8 926.9L442.4 922.5L442 918L441.6 913.2L441.2 907.9L440.8 902.1L440.3 895.6L439.9 888.3L439.5 879.9L439 870.2L438.5 859.2L438.1 847.1L437.6 834.2L437.1 820.7L436.6 806.9L436.1 793.1L435.6 779.4L435.2 766.2L434.7 753.7L434.3 742.2L433.9 731.9L433.5 722.7L433 714.3L432.6 706.5L432.2 699.2L431.9 692.4L431.5 686L431.1 679.9L430.8 673.9L430.5 668L430.2 662.1L430 656.1L429.8 650L429.7 643.7L429.6 637.6L429.6 631.6L429.6 625.6L429.7 619.8L429.7 614L429.8 608.3L429.9 602.6L429.9 596.9L429.9 591.3L429.9 585.6L429.8 580L429.6 574.3L429.5 568.6L429.3 563L429.1 557.3L428.9 551.7L428.7 546.1L428.4 540.6L428.1 535.1L427.8 529.7L427.5 524.3L427.1 519L426.7 513.9L426.3 508.8L425.8 503.8L425.3 498.8L424.8 494L424.3 489.2L423.7 484.5L423.1 479.8L422.5 475.1L421.8 470.5L421.1 465.9L420.4 461.3L419.6 456.7L418.9 452.2L418.1 447.6L417.3 443.1L416.4 438.6L415.5 434.2L414.6 429.7L413.7 425.3L412.7 421L411.7 416.6L410.7 412.2L409.6 407.9L408.5 403.6L407.3 399.3L406.1 395.1L404.9 390.9L403.6 386.8L402.3 382.7L401 378.5L399.6 374.4L398.2 370.3L396.8 366.2L395.3 362L393.8 357.8L392.3 353.5L390.7 349.2L389 344.6L387.2 340L385.4 335.4L383.5 330.7L381.6 326.1L379.7 321.5L377.9 317L376.1 312.6L374.3 308.4L372.7 304.3L371.2 300.5L369.7 297L368.4 293.6L367.1 290.3L365.9 287.2L364.7 284.2L363.6 281.3L362.4 278.5L361.3 275.8L360.2 273.2L359.1 270.6L357.9 268.1L356.8 265.6L355.6 263.2L354.3 260.7L353 258.3L351.7 256L350.4 253.7L349.1 251.5L347.9 249.5L346.8 247.6L345.7 245.8L344.8 244.3L344 242.9L343.3 241.8Z" fill="#727272"/>
<line x1="449" y1="1034" x2="449" y2="1034" stroke="#aaa" stroke-width="1.2" opacity="0.27999999999999997"/>
<line x1="449" y1="1034" x2="451.1" y2="1099.8" stroke="#aaa" stroke-width="1.2" opacity="0.8"/>
<line x1="451.1" y1="1099.8" x2="452" y2="1128" stroke="#aaa" stroke-width="1.2" opacity="0.27999999999999997"/>
<line x1="455" y1="960" x2="455.2" y2="993.6" stroke="#bbb" stroke-width="1.0" opacity="0.27999999999999997"/>
<line x1="455.2" y1="993.6" x2="455.7" y2="1077.6" stroke="#bbb" stroke-width="1.0" opacity="0.8"/>
<line x1="455.7" y1="1077.6" x2="456" y2="1128" stroke="#bbb" stroke-width="1.0" opacity="0.27999999999999997"/>
<path d="M520.6 490.1L521 491.8L521.4 493.9L521.9 496.3L522.5 499.1L523.2 502.1L523.8 505.3L524.5 508.6L525.2 512L525.9 515.4L526.6 518.8L527.3 522.1L527.9 525.2L528.6 528.3L529.2 531.3L529.8 534.3L530.4 537.4L531.1 540.4L531.7 543.5L532.4 546.6L533 549.8L533.7 553.1L534.4 556.4L535 559.8L535.7 563.3L536.4 566.8L537.1 570.3L537.8 573.8L538.5 577.3L539.2 580.9L539.9 584.6L540.6 588.4L541.4 592.3L542.1 596.5L542.9 600.8L543.7 605.4L544.6 610.2L545.5 615.4L546.4 620.8L547.4 626.5L548.4 632.3L549.5 638.4L550.5 644.6L551.6 650.9L552.6 657.3L553.6 663.8L554.6 670.2L555.5 676.7L556.4 683.2L557.2 689.8L558 696.5L558.7 703.4L559.5 710.4L560.2 717.5L560.9 724.6L561.6 731.7L562.2 738.7L562.8 745.6L563.3 752.3L563.8 758.8L564.3 765.1L564.7 771.2L565.1 777L565.4 782.7L565.7 788.3L566 793.7L566.2 799.1L566.4 804.4L566.5 809.6L566.5 814.9L566.5 820.2L566.4 825.5L566.3 830.9L566 836.4L565.7 841.9L565.3 847.3L564.8 852.8L564.3 858.3L563.7 863.7L563 869.2L562.4 874.7L561.6 880.2L560.9 885.7L560.1 891.2L559.2 896.7L558.4 902.3L557.5 908L556.5 913.8L555.5 919.6L554.5 925.4L553.4 931.2L552.2 937L551.1 942.6L549.9 948.1L548.7 953.5L547.5 958.6L546.3 963.6L545.1 968.4L543.7 973.3L542.2 978.2L540.7 983L539.1 987.7L537.6 992.3L536.1 996.6L534.6 1000.6L533.3 1004.3L532.1 1007.6L531.1 1010.4L530.3 1012.7L531.7 1013.3L532.6 1011L533.7 1008.2L535 1004.9L536.5 1001.3L538.1 997.4L539.8 993.1L541.5 988.6L543.3 983.9L545 979.1L546.7 974.2L548.3 969.3L549.7 964.4L551 959.5L552.2 954.3L553.4 948.9L554.6 943.3L555.8 937.7L556.9 931.9L558 926.1L559 920.2L560 914.4L561 908.6L561.9 902.9L562.8 897.3L563.6 891.7L564.4 886.2L565.1 880.7L565.9 875.2L566.5 869.6L567.2 864.1L567.8 858.6L568.3 853.1L568.8 847.6L569.2 842.1L569.5 836.6L569.7 831.1L569.9 825.6L570 820.2L570 814.9L570 809.6L569.8 804.3L569.7 798.9L569.4 793.6L569.2 788.1L568.9 782.5L568.5 776.8L568.1 770.9L567.7 764.9L567.3 758.6L566.8 752L566.2 745.3L565.6 738.4L565 731.4L564.3 724.3L563.6 717.2L562.9 710.1L562.1 703.1L561.3 696.1L560.5 689.4L559.6 682.8L558.7 676.3L557.8 669.8L556.8 663.3L555.7 656.8L554.7 650.4L553.6 644.1L552.5 637.9L551.4 631.8L550.3 626L549.3 620.3L548.3 614.9L547.4 609.8L546.5 604.9L545.7 600.3L544.9 596L544.1 591.8L543.3 587.9L542.6 584.1L541.8 580.4L541.1 576.8L540.4 573.2L539.7 569.8L539 566.3L538.3 562.7L537.6 559.3L536.9 555.9L536.2 552.5L535.5 549.3L534.8 546.1L534.1 543L533.5 539.9L532.8 536.9L532.2 533.8L531.5 530.8L530.8 527.8L530.1 524.8L529.3 521.6L528.5 518.4L527.7 515L526.8 511.6L526 508.3L525.2 505L524.4 501.8L523.6 498.8L522.9 496.1L522.3 493.7L521.8 491.6L521.4 489.9Z" fill="#727272"/>
<path d="M669 1025C668.8 1022.8 668.4 1022.4 668 1012C667.6 1001.6 666.2 979.1 666.4 962.6C666.6 946.1 668.1 925.1 669 913C669.9 900.9 671.5 893.8 672 890" fill="none" stroke="#727272" stroke-width="3.4" stroke-linecap="round" stroke-linejoin="round" />
<path d="M672 890C672.7 888.3 673.7 882.8 676 880C678.3 877.2 682 875 686 873C690 871 695.5 869.4 700 868C704.5 866.6 710.8 865.1 713 864.5" fill="none" stroke="#727272" stroke-width="2.2" stroke-linecap="round" stroke-linejoin="round" />
<path d="M713 864.5C717.5 863.1 730.5 859.8 740 856C749.5 852.2 760.7 847.2 770 842C779.3 836.8 791.7 827.8 796 825" fill="none" stroke="#888" stroke-width="1.3" stroke-linecap="round" stroke-linejoin="round" />
<path d="M678 883C703.2 885.4 781.8 892.3 829 897.5C876.2 902.7 915.8 908.8 961 914C1006.2 919.2 1048.7 923.8 1100 929C1151.3 934.2 1240.8 942.3 1269 945" fill="none" stroke="#727272" stroke-width="3.0" stroke-linecap="round" stroke-linejoin="round" />
<path d="M700 888C733.3 891.5 833.3 901.5 900 909C966.7 916.5 1038.5 926.2 1100 933C1161.5 939.8 1240.8 947.2 1269 950" fill="none" stroke="#aaa" stroke-width="1.2" stroke-linecap="round" stroke-linejoin="round" />
<path d="M1652 988C1681.7 991.3 1771.7 1002 1830 1008C1888.3 1014 1973.3 1021.3 2002 1024" fill="none" stroke="#727272" stroke-width="2.8" stroke-linecap="round" stroke-linejoin="round" />
<path d="M1652 1000C1681.7 1003.7 1771.7 1015.5 1830 1022C1888.3 1028.5 1973.3 1036.2 2002 1039" fill="none" stroke="#999" stroke-width="1.4" stroke-linecap="round" stroke-linejoin="round" />
<path d="M842 712C828.8 717.6 787.2 733.3 763 745.5C738.8 757.7 717.2 771.2 697 785C676.8 798.8 651.2 820.8 642 828" fill="none" stroke="#727272" stroke-width="3.0" stroke-linecap="round" stroke-linejoin="round" />
<path d="M642 828C651.2 828.8 676.8 829.7 697 833C717.2 836.3 735.5 842.2 763 848C790.5 853.8 829 862 862 868C895 874 927.3 878.8 961 884C994.7 889.2 1046.8 896.5 1064 899L1187 850L1322 804" fill="none" stroke="#727272" stroke-width="3.0" stroke-linecap="round" stroke-linejoin="round" />
<path d="M730 808L865 791.7L1044 866" fill="none" stroke="#777" stroke-width="1.6" stroke-linecap="round" stroke-linejoin="round" />
<path d="M750 806.6L895 818L961 828L1100 850" fill="none" stroke="#888" stroke-width="1.2" stroke-linecap="round" stroke-linejoin="round" />
<path d="M664 858L1100 818L1290 798" fill="none" stroke="#999" stroke-width="1.2" stroke-linecap="round" stroke-linejoin="round" />
<path d="M690 852L1100 812L1280 790" fill="none" stroke="#aaa" stroke-width="1.0" stroke-linecap="round" stroke-linejoin="round" />
<line x1="634" y1="909" x2="796" y2="825" stroke="#999" stroke-width="1.1" opacity="0.8"/>
<line x1="626" y1="838" x2="700" y2="790" stroke="#aaa" stroke-width="1.0" opacity="0.8"/>
<line x1="676" y1="760" x2="674" y2="880" stroke="#aaa" stroke-width="1.0" opacity="0.8"/>
<path d="M1140 787C1148.3 783 1172.8 770.8 1190 763C1207.2 755.2 1224.7 746.7 1243 740C1261.3 733.3 1283.5 727.1 1300 723C1316.5 718.9 1322 717 1342 715.5C1362 714 1393.7 713.2 1420 714C1446.3 714.8 1473.3 717.3 1500 720C1526.7 722.7 1566.7 728.3 1580 730" fill="none" stroke="#999" stroke-width="1.2" stroke-linecap="round" stroke-linejoin="round" />
<g stroke="#cfcfcf" stroke-width="1">
<line x1="690" y1="858" x2="880" y2="850"/>
<line x1="688" y1="862.5" x2="874" y2="856"/>
<line x1="686" y1="867" x2="868" y2="862"/>
<line x1="684" y1="871.5" x2="862" y2="868"/>
<line x1="682" y1="876" x2="856" y2="874"/>
<line x1="680" y1="880.5" x2="850" y2="880"/>
<line x1="678" y1="885" x2="844" y2="886"/>
<line x1="676" y1="889.5" x2="838" y2="892"/>
<line x1="674" y1="894" x2="832" y2="898"/>
</g>
<path d="M1198 628C1214.5 627.2 1263.8 623.3 1297 623C1330.2 622.7 1369.3 623.8 1397 626C1424.7 628.2 1440.3 632.2 1463 636C1485.7 639.8 1515.8 644.7 1533 649C1550.2 653.3 1549.5 655.3 1566 662C1582.5 668.7 1612.7 680.7 1632 689C1651.3 697.3 1669.8 705.5 1682 712C1694.2 718.5 1697.8 721.7 1705 728C1712.2 734.3 1721.7 746.3 1725 750" fill="none" stroke="#727272" stroke-width="2.6" stroke-linecap="round" stroke-linejoin="round" />
<path d="M1187 849C1197.5 845.2 1226.2 834.2 1250 826C1273.8 817.8 1305 807.2 1330 800C1355 792.8 1376.7 787.7 1400 783C1423.3 778.3 1447.8 774.8 1470 772C1492.2 769.2 1522.5 767 1533 766" fill="none" stroke="#999" stroke-width="1.2" stroke-linecap="round" stroke-linejoin="round" />
<line x1="1500" y1="723.5" x2="1655" y2="745" stroke="#999" stroke-width="1.1" opacity="0.8"/>
<line x1="1290" y1="800" x2="1540" y2="770" stroke="#999" stroke-width="1.1" opacity="0.8"/>
<path d="M1696 708C1697.2 710.3 1700.3 717 1703 722C1705.7 727 1710.5 735.3 1712 738" fill="none" stroke="#888" stroke-width="1.3" stroke-linecap="round" stroke-linejoin="round" />
<path d="M1533 649C1544 644.7 1571.5 630.2 1599 623C1626.5 615.8 1659.5 609.8 1698 606C1736.5 602.2 1791.3 600 1830 600C1868.7 600 1902.3 601.2 1930 606C1957.7 610.8 1974 618 1996 629C2018 640 2045.5 659.8 2062 672C2078.5 684.2 2085 692.5 2095 702C2105 711.5 2117.5 724.5 2122 729L2126 735C2115.3 737.8 2083.7 747.3 2062 752C2040.3 756.7 2015.8 760 1996 763C1976.2 766 1951.8 768.8 1943 770" fill="none" stroke="#727272" stroke-width="2.6" stroke-linecap="round" stroke-linejoin="round" />
<path d="M1781 748C1794.8 745.8 1833.7 738.2 1864 735C1894.3 731.8 1930 729.6 1963 728.5C1996 727.4 2035.7 728.2 2062 728.5C2088.3 728.8 2111.2 729.8 2121 730" fill="none" stroke="#888" stroke-width="1.4" stroke-linecap="round" stroke-linejoin="round" />
<path d="M1700 614C1716.7 613.2 1766.7 610 1800 609C1833.3 608 1883.3 608.2 1900 608" fill="none" stroke="#aaa" stroke-width="1.1" stroke-linecap="round" stroke-linejoin="round" />
<line x1="1940" y1="612" x2="2110" y2="722" stroke="#999" stroke-width="1.1" opacity="0.7"/>
<line x1="1912" y1="703" x2="2090" y2="716" stroke="#aaa" stroke-width="1.0" opacity="0.7"/>
<line x1="1996" y1="718" x2="2300" y2="738" stroke="#999" stroke-width="1.1" opacity="0.7"/>
<path d="M2124 728L2500 758L2680 772.5" fill="none" stroke="#666" stroke-width="2.2" stroke-linecap="round"/>
<path d="M2680 772.5L2790 781.3" fill="none" stroke="#8a8a8a" stroke-width="1.8"/>
<path d="M2790 781.3L2873 788" fill="none" stroke="#bbb" stroke-width="1.4"/>
<line x1="2123" y1="722" x2="2150.6" y2="724.2" stroke="#999" stroke-width="1.1" opacity="0.24499999999999997"/>
<line x1="2150.6" y1="724.2" x2="2509.4" y2="752.8" stroke="#999" stroke-width="1.1" opacity="0.7"/>
<line x1="2509.4" y1="752.8" x2="2675" y2="766" stroke="#999" stroke-width="1.1" opacity="0.24499999999999997"/>
<path d="M529.6 1051L532.4 1051.4L535.7 1051.9L539.5 1052.4L543.8 1053.1L548.5 1053.8L553.5 1054.5L558.8 1055.3L564.3 1056.2L570 1057.1L575.9 1058L581.7 1059L587.6 1060L593.6 1061.1L600.1 1062.3L606.8 1063.5L613.8 1064.9L620.9 1066.2L628.1 1067.6L635.4 1069L642.7 1070.4L649.9 1071.8L656.9 1073.2L663.7 1074.5L670.2 1075.7L676.5 1076.8L682.7 1077.9L688.8 1079L694.8 1080.1L700.7 1081.2L706.6 1082.2L712.3 1083.2L718 1084.2L723.5 1085.2L729 1086.1L734.3 1087.1L739.6 1088L744.4 1088.9L748.4 1089.7L752 1090.3L755.2 1091L758.3 1091.6L761.6 1092.3L765.2 1092.9L769.4 1093.7L774.3 1094.6L780.1 1095.6L787.2 1096.8L795.6 1098.2L805.7 1099.8L817.1 1101.6L829.9 1103.6L843.6 1105.8L858 1108L873 1110.3L888.2 1112.7L903.6 1115.1L918.7 1117.4L933.4 1119.7L947.5 1121.9L960.7 1124L973.1 1126L985 1128L996.7 1130L1008 1132L1019.2 1134L1030.2 1136L1041.3 1137.9L1052.5 1139.8L1063.8 1141.7L1075.4 1143.5L1087.4 1145.4L1099.8 1147.1L1112.3 1148.8L1124.5 1150.4L1136.7 1152L1148.9 1153.4L1161.3 1154.9L1174 1156.3L1187.1 1157.8L1200.8 1159.3L1215.2 1160.9L1230.4 1162.6L1246.6 1164.4L1263.8 1166.3L1282.4 1168.4L1302.1 1170.6L1322.9 1172.9L1344.5 1175.3L1366.8 1177.8L1389.7 1180.3L1412.9 1182.9L1436.4 1185.5L1459.8 1188.1L1483.2 1190.7L1506.3 1193.4L1528.9 1196L1552.1 1198.7L1576.8 1201.7L1602.6 1204.7L1628.8 1207.9L1655.1 1211.1L1681 1214.2L1705.9 1217.3L1729.4 1220.1L1751.1 1222.8L1770.4 1225.1L1786.8 1227.2L1799.9 1228.7L1800.1 1227.3L1787 1225.6L1770.5 1223.6L1751.3 1221.2L1729.6 1218.5L1706.1 1215.6L1681.2 1212.5L1655.3 1209.3L1629 1206.1L1602.8 1202.9L1577.1 1199.8L1552.4 1196.8L1529.1 1194L1506.5 1191.3L1483.4 1188.7L1460.1 1186L1436.6 1183.3L1413.2 1180.7L1389.9 1178L1367.1 1175.4L1344.8 1172.9L1323.1 1170.5L1302.4 1168.1L1282.7 1165.8L1264.2 1163.7L1246.9 1161.7L1230.7 1159.8L1215.5 1158.1L1201.1 1156.4L1187.4 1154.9L1174.3 1153.4L1161.6 1151.9L1149.3 1150.4L1137.1 1148.9L1124.9 1147.3L1112.7 1145.6L1100.2 1143.9L1087.9 1142L1076 1140.1L1064.4 1138.2L1053.1 1136.3L1041.9 1134.3L1030.9 1132.3L1019.8 1130.3L1008.7 1128.3L997.3 1126.2L985.7 1124.2L973.7 1122.1L961.3 1120L948.1 1117.8L934.1 1115.6L919.4 1113.2L904.2 1110.8L888.9 1108.4L873.6 1106L858.7 1103.7L844.2 1101.4L830.5 1099.3L817.8 1097.3L806.4 1095.4L796.4 1093.8L787.9 1092.4L780.9 1091.2L775 1090.2L770.2 1089.3L766 1088.5L762.5 1087.8L759.2 1087.2L756.1 1086.6L752.8 1085.9L749.3 1085.2L745.2 1084.5L740.4 1083.6L735.1 1082.6L729.8 1081.7L724.3 1080.7L718.7 1079.7L713.1 1078.7L707.4 1077.7L701.5 1076.7L695.6 1075.6L689.6 1074.5L683.5 1073.4L677.3 1072.3L671 1071.1L664.5 1069.9L657.7 1068.6L650.7 1067.3L643.6 1065.9L636.3 1064.5L629 1063.1L621.8 1061.6L614.6 1060.3L607.7 1058.9L600.9 1057.7L594.5 1056.5L588.4 1055.4L582.5 1054.3L576.6 1053.4L570.8 1052.4L565.1 1051.5L559.5 1050.6L554.2 1049.8L549.2 1049.1L544.5 1048.4L540.2 1047.7L536.4 1047.1L533.1 1046.6L530.4 1046.2Z" fill="#6a6a6a"/>
<path d="M560 1047C571.8 1049.2 591.3 1052.8 630.6 1060C669.9 1067.2 740.9 1080.7 796 1090C851.1 1099.3 910.3 1107.8 961 1116C1011.7 1124.2 1049.5 1131.8 1100 1139C1150.5 1146.2 1192.5 1150.7 1264 1159C1335.5 1167.3 1439.7 1178.7 1529 1189C1618.3 1199.3 1754.8 1215.7 1800 1221" fill="none" stroke="#999" stroke-width="1.2" stroke-linecap="round" stroke-linejoin="round" />
<line x1="1800" y1="1228" x2="1800" y2="1228" stroke="#888" stroke-width="1.4" opacity="0.27999999999999997"/>
<line x1="1800" y1="1228" x2="1990" y2="1255" stroke="#888" stroke-width="1.4" opacity="0.8"/>
<line x1="1990" y1="1255" x2="2180" y2="1282" stroke="#888" stroke-width="1.4" opacity="0.27999999999999997"/>
<line x1="1800" y1="1221" x2="1800" y2="1221" stroke="#aaa" stroke-width="1.0" opacity="0.24499999999999997"/>
<line x1="1800" y1="1221" x2="1950" y2="1241.5" stroke="#aaa" stroke-width="1.0" opacity="0.7"/>
<line x1="1950" y1="1241.5" x2="2100" y2="1262" stroke="#aaa" stroke-width="1.0" opacity="0.24499999999999997"/>
<path d="M1099.5 1104.8L1107.5 1106.2L1117.7 1108L1129.7 1110.2L1143.2 1112.7L1157.8 1115.4L1173.2 1118.2L1189.1 1121L1205.1 1123.9L1220.9 1126.7L1236.2 1129.3L1250.5 1131.8L1263.7 1134L1275.9 1136L1287.7 1137.8L1299.2 1139.5L1310.4 1141.2L1321.4 1142.8L1332.3 1144.3L1343 1145.9L1353.7 1147.4L1364.3 1148.9L1375 1150.4L1385.8 1151.9L1396.8 1153.5L1407.8 1155.2L1418.8 1156.8L1429.9 1158.4L1440.9 1160L1451.9 1161.6L1462.9 1163.2L1473.9 1164.8L1484.8 1166.4L1495.8 1168L1506.8 1169.7L1517.8 1171.4L1528.8 1173.2L1539.8 1175L1550.7 1176.8L1561.6 1178.7L1572.5 1180.5L1583.5 1182.5L1594.4 1184.4L1605.3 1186.3L1616.3 1188.3L1627.3 1190.2L1638.4 1192.1L1649.6 1194.1L1660.8 1196L1672.6 1197.9L1685.2 1200L1698.4 1202.2L1711.8 1204.4L1725.3 1206.6L1738.6 1208.8L1751.4 1210.9L1763.6 1212.8L1774.7 1214.6L1784.7 1216.3L1793.1 1217.6L1799.9 1218.7L1800.1 1217.3L1793.4 1216.1L1784.9 1214.7L1775 1213.1L1763.8 1211.2L1751.7 1209.2L1738.9 1207.1L1725.6 1204.9L1712.1 1202.6L1698.7 1200.4L1685.5 1198.2L1672.9 1196L1661.2 1194L1649.9 1192.1L1638.8 1190.1L1627.7 1188.2L1616.7 1186.2L1605.7 1184.2L1594.8 1182.2L1583.8 1180.3L1572.9 1178.3L1562 1176.4L1551.1 1174.5L1540.2 1172.7L1529.2 1170.8L1518.2 1169L1507.2 1167.3L1496.2 1165.5L1485.2 1163.8L1474.2 1162.1L1463.3 1160.5L1452.3 1158.8L1441.3 1157.1L1430.3 1155.5L1419.3 1153.8L1408.3 1152.2L1397.2 1150.5L1386.3 1148.8L1375.5 1147.2L1364.8 1145.6L1354.1 1144L1343.5 1142.5L1332.7 1140.9L1321.9 1139.3L1310.9 1137.6L1299.7 1135.9L1288.3 1134L1276.5 1132.1L1264.3 1130L1251.3 1127.7L1236.9 1125.1L1221.7 1122.3L1206 1119.4L1190 1116.4L1174.1 1113.3L1158.7 1110.4L1144.1 1107.6L1130.7 1105L1118.7 1102.7L1108.5 1100.8L1100.5 1099.2Z" fill="#707070"/>
<line x1="1800" y1="1218" x2="1800" y2="1218" stroke="#777" stroke-width="2.0" opacity="0.315"/>
<line x1="1800" y1="1218" x2="1904" y2="1235.6" stroke="#777" stroke-width="2.0" opacity="0.9"/>
<line x1="1904" y1="1235.6" x2="2060" y2="1262" stroke="#777" stroke-width="2.0" opacity="0.315"/>
<path d="M407 1100C405.7 1082.8 402.5 1036.3 399 997C395.5 957.7 390.3 908.2 386 864C381.7 819.8 376.6 776 373 732C369.4 688 366.3 633.7 364.5 600C362.7 566.3 363.2 552.7 362 530C360.8 507.3 359.2 486 357 464C354.8 442 353.2 419.5 349 398C344.8 376.5 338.7 354.3 332 335C325.3 315.7 317 296.8 309 282C301 267.2 288.2 252 284 246Q274 234 286 226L318 206Q324 202 332 204C337.5 205.2 348.5 208.5 365 211C381.5 213.5 403.3 217.8 431 219C458.7 220.2 486.8 217.7 531 218.5C575.2 219.3 641 222.1 696 224C751 225.9 810.3 228.3 861 230C911.7 231.7 960.2 233.7 1000 234C1039.8 234.3 1073.8 232.8 1100 232C1126.2 231.2 1147.5 229.5 1157 229" fill="none" stroke="#707070" stroke-width="8.5" stroke-linecap="round" stroke-linejoin="round" />
<path d="M407 1100C407.5 1101.3 407.5 1106.2 410 1108C412.5 1109.8 416.2 1111.7 422 1111C427.8 1110.3 436.7 1106.5 445 1104C453.3 1101.5 467.5 1097.3 472 1096" fill="none" stroke="#707070" stroke-width="8.5" stroke-linecap="round" stroke-linejoin="round" />
<path d="M1157 229C1159.5 230.3 1154.2 233.7 1172 237C1189.8 240.3 1226.5 245 1264 249C1301.5 253 1352.8 258.4 1397 261C1441.2 263.6 1485 264.2 1529 264.5C1573 264.8 1624.2 263.2 1661 262.5C1697.8 261.8 1735.2 260.4 1750 260Q1766 259 1771 268C1773.5 273.7 1780.8 289.2 1786 302C1791.2 314.8 1797.8 331.8 1802 345C1806.2 358.2 1809.2 368.3 1811 381C1812.8 393.7 1812.8 407.2 1812.5 421C1812.2 434.8 1810.1 451.3 1809 464C1807.9 476.7 1806.5 491.5 1806 497" fill="none" stroke="#707070" stroke-width="8" stroke-linecap="round" stroke-linejoin="round" />
<path d="M1160 231C1163.1 235.7 1172.7 247.7 1178.5 259C1184.3 270.3 1190.6 285.2 1195 299C1199.4 312.8 1202.5 328.3 1205 342C1207.5 355.7 1208.9 368.7 1210 381C1211.1 393.3 1211.2 410.2 1211.5 416" fill="none" stroke="#707070" stroke-width="7" stroke-linecap="round" stroke-linejoin="round" />
<line x1="1325.5" y1="560" x2="1325.5" y2="623" stroke="#707070" stroke-width="7.5"/>
<path d="M1545 505C1558.8 505.8 1597.7 509.3 1628 510C1658.3 510.7 1697.3 510.7 1727 509C1756.7 507.3 1783 503.2 1806 500C1829 496.8 1848.5 493.3 1865 490C1881.5 486.7 1895.5 483.2 1905 480C1914.5 476.8 1919.2 472.5 1922 471Q1938 464 1950 472Q1956 478 1953 486C1952 489.2 1948.2 497.7 1947 505C1945.8 512.3 1945.6 520.3 1946 530C1946.4 539.7 1948.8 549.2 1949.6 563C1950.4 576.8 1950.8 604.7 1951 613" fill="none" stroke="#707070" stroke-width="7" stroke-linecap="round" stroke-linejoin="round" />
<path d="M1937 490C1936 496.7 1932 515 1931 530C1930 545 1930.4 567.3 1931 580C1931.6 592.7 1933.9 601.7 1934.5 606" fill="none" stroke="#727272" stroke-width="3.4" stroke-linecap="round" stroke-linejoin="round" />
<path d="M828 515C811.5 514.8 756.5 515.3 729 514C701.5 512.7 685 510.3 663 507C641 503.7 619.2 498.7 597 494C574.8 489.3 544.5 482 530 479C515.5 476 513.3 476.5 510 476Q480 474 478 496C479.7 500.5 484.8 511.8 488 523C491.2 534.2 494.5 548 497.5 563C500.5 578 503.6 593.1 506 613C508.4 632.9 509 657.3 511.6 682.6C514.2 707.9 518.8 741.3 521.5 765C524.2 788.7 527.4 804 528 825C528.6 846 527.7 872.3 525 891C522.3 909.7 518.3 922.2 511.6 937C504.9 951.8 492.2 967.3 485 980C477.8 992.7 471.9 1003 468.6 1013C465.3 1023 464.4 1031.7 465 1040C465.6 1048.3 468.1 1057.3 472 1063C475.9 1068.7 483.5 1073 488.4 1074C493.3 1075 496.7 1072.5 501.6 1069C506.5 1065.5 511.9 1057.7 518 1053C524.1 1048.3 527 1046 538 1041C549 1036 568.6 1027.3 584 1023C599.4 1018.7 617.3 1016.7 630.6 1015C643.9 1013.3 658.1 1013.3 663.6 1013" fill="none" stroke="#707070" stroke-width="7.5" stroke-linecap="round" stroke-linejoin="round" />
<path d="M531 1043C535.8 1041.5 546.7 1036.3 560 1034C573.3 1031.7 587.9 1028.8 610.7 1029C633.5 1029.2 669.2 1032.7 696.7 1035C724.2 1037.3 762.8 1041.7 776 1043L786 1049C794.2 1048.8 818 1046.8 835 1048C852 1049.2 865.9 1051.5 888 1056C910.1 1060.5 941 1068.8 967.5 1075C994 1081.2 1024.9 1088.5 1047 1093C1069.1 1097.5 1091.2 1100.5 1100 1102" fill="none" stroke="#707070" stroke-width="7.0" stroke-linecap="round" stroke-linejoin="round" />
<path d="M478.5 1069C476.2 1076.2 469.4 1096 465 1112C460.6 1128 455.2 1145.2 452 1165C448.8 1184.8 446 1208.9 445.5 1231C445 1253.1 447.1 1278 448.8 1297.5C450.6 1317 453.8 1334.6 456 1348C458.2 1361.4 461 1373 462 1378Q466 1390 482 1396L700 1450" fill="none" stroke="#707070" stroke-width="7.2" stroke-linecap="round" stroke-linejoin="round" />
<path d="M689.1 1451L799.3 1477.8L899.4 1501.8L999.6 1525.7L1000.4 1522.3L900.6 1497.4L800.7 1472.2L690.9 1444Z" fill="#707070"/>
<path d="M1000 1524L1330 1605" fill="none" stroke="#5c5c5c" stroke-width="3.0" stroke-linecap="round" stroke-linejoin="round" />
<path d="M1330 1605L1560 1661.5" fill="none" stroke="#666" stroke-width="2.0" stroke-linecap="round" stroke-linejoin="round" />
<path d="M1000 1530L1600 1677" fill="none" stroke="#999" stroke-width="1.0" stroke-linecap="round" stroke-linejoin="round" />
<path d="M1000 1519L1500 1641" fill="none" stroke="#aaa" stroke-width="1.0" stroke-linecap="round" stroke-linejoin="round" />
<line x1="1560" y1="1661.5" x2="1560" y2="1661.5" stroke="#777" stroke-width="1.8" opacity="0.315"/>
<line x1="1560" y1="1661.5" x2="1664.8" y2="1687.7" stroke="#777" stroke-width="1.8" opacity="0.9"/>
<line x1="1664.8" y1="1687.7" x2="1822" y2="1727" stroke="#777" stroke-width="1.8" opacity="0.315"/>
<line x1="1560" y1="1667" x2="1560" y2="1667" stroke="#999" stroke-width="1.0" opacity="0.27999999999999997"/>
<line x1="1560" y1="1667" x2="1652" y2="1689.8" stroke="#999" stroke-width="1.0" opacity="0.8"/>
<line x1="1652" y1="1689.8" x2="1790" y2="1724" stroke="#999" stroke-width="1.0" opacity="0.27999999999999997"/>
<g clip-path="url(#cp1)">
<rect x="810" y="415" width="400" height="400" fill="#848484"/>
<g filter="url(#soft)">
<linearGradient id="tf1" gradientUnits="userSpaceOnUse" x1="959" y1="440.5" x2="911.5" y2="493"><stop offset="0" stop-color="#bebebe"/><stop offset="0.42" stop-color="#b7b7b7"/><stop offset="0.62" stop-color="#a2a2a2"/><stop offset="0.8" stop-color="#8c8c8c"/><stop offset="1" stop-color="#7f7f7f"/></linearGradient>
<path d="M971.1 446.6L976.1 452.6L931.3 502.1L926.3 498.1Z" fill="#8e8e8e"/>
<path d="M946.9 434.4L971.1 446.6L926.3 498.1L896.7 487.9Z" fill="url(#tf1)"/>
<linearGradient id="tf2" gradientUnits="userSpaceOnUse" x1="1043.5" y1="445" x2="1023.5" y2="487"><stop offset="0" stop-color="#bebebe"/><stop offset="0.42" stop-color="#b7b7b7"/><stop offset="0.62" stop-color="#a2a2a2"/><stop offset="0.8" stop-color="#8c8c8c"/><stop offset="1" stop-color="#7f7f7f"/></linearGradient>
<path d="M1093.3 463.2L1098.3 469.2L1080.3 511.3L1075.3 507.3Z" fill="#8e8e8e"/>
<path d="M993.7 426.8L1093.3 463.2L1075.3 507.3L971.7 466.7Z" fill="url(#tf2)"/>
<linearGradient id="tf3" gradientUnits="userSpaceOnUse" x1="1024" y1="467.5" x2="988" y2="522.5"><stop offset="0" stop-color="#bebebe"/><stop offset="0.42" stop-color="#b7b7b7"/><stop offset="0.62" stop-color="#a2a2a2"/><stop offset="0.8" stop-color="#8c8c8c"/><stop offset="1" stop-color="#7f7f7f"/></linearGradient>
<path d="M1076.3 487.2L1081.3 493.2L1050.2 550.3L1045.2 546.3Z" fill="#8e8e8e"/>
<path d="M971.7 447.8L1076.3 487.2L1045.2 546.3L930.8 498.7Z" fill="url(#tf3)"/>
<linearGradient id="tf4" gradientUnits="userSpaceOnUse" x1="904.5" y1="475" x2="863" y2="532.5"><stop offset="0" stop-color="#bebebe"/><stop offset="0.42" stop-color="#b7b7b7"/><stop offset="0.62" stop-color="#a2a2a2"/><stop offset="0.8" stop-color="#8c8c8c"/><stop offset="1" stop-color="#7f7f7f"/></linearGradient>
<path d="M919.1 482.6L924.1 488.6L881.1 543.7L876.1 539.7Z" fill="#8e8e8e"/>
<path d="M889.9 467.4L919.1 482.6L876.1 539.7L849.9 525.3Z" fill="url(#tf4)"/>
<linearGradient id="tf5" gradientUnits="userSpaceOnUse" x1="977.5" y1="506.5" x2="933.5" y2="566.5"><stop offset="0" stop-color="#bebebe"/><stop offset="0.42" stop-color="#b7b7b7"/><stop offset="0.62" stop-color="#a2a2a2"/><stop offset="0.8" stop-color="#8c8c8c"/><stop offset="1" stop-color="#7f7f7f"/></linearGradient>
<path d="M1034.2 530.4L1039.2 536.4L995.1 598.6L990.1 594.6Z" fill="#8e8e8e"/>
<path d="M920.8 482.6L1034.2 530.4L990.1 594.6L876.9 538.4Z" fill="url(#tf5)"/>
<linearGradient id="tf6" gradientUnits="userSpaceOnUse" x1="1122.5" y1="528" x2="1091" y2="578.5"><stop offset="0" stop-color="#bebebe"/><stop offset="0.42" stop-color="#b7b7b7"/><stop offset="0.62" stop-color="#a2a2a2"/><stop offset="0.8" stop-color="#8c8c8c"/><stop offset="1" stop-color="#7f7f7f"/></linearGradient>
<path d="M1173.2 549.4L1178.2 555.4L1145.1 609.7L1140.1 605.7Z" fill="#8e8e8e"/>
<path d="M1071.8 506.6L1173.2 549.4L1140.1 605.7L1041.9 551.3Z" fill="url(#tf6)"/>
<linearGradient id="tf7" gradientUnits="userSpaceOnUse" x1="919.5" y1="548" x2="874.5" y2="612"><stop offset="0" stop-color="#bebebe"/><stop offset="0.42" stop-color="#b7b7b7"/><stop offset="0.62" stop-color="#a2a2a2"/><stop offset="0.8" stop-color="#8c8c8c"/><stop offset="1" stop-color="#7f7f7f"/></linearGradient>
<path d="M978.2 575.5L983.2 581.5L930.8 653L925.8 649Z" fill="#8e8e8e"/>
<path d="M860.8 520.5L978.2 575.5L925.8 649L823.2 575Z" fill="url(#tf7)"/>
<linearGradient id="tf8" gradientUnits="userSpaceOnUse" x1="1104" y1="563" x2="1058.5" y2="626"><stop offset="0" stop-color="#bebebe"/><stop offset="0.42" stop-color="#b7b7b7"/><stop offset="0.62" stop-color="#a2a2a2"/><stop offset="0.8" stop-color="#8c8c8c"/><stop offset="1" stop-color="#7f7f7f"/></linearGradient>
<path d="M1168.2 591.4L1173.2 597.4L1126.1 664.7L1121.1 660.7Z" fill="#8e8e8e"/>
<path d="M1039.8 534.6L1168.2 591.4L1121.1 660.7L995.9 591.3Z" fill="url(#tf8)"/>
<linearGradient id="tf9" gradientUnits="userSpaceOnUse" x1="867" y1="605.5" x2="833" y2="685"><stop offset="0" stop-color="#bebebe"/><stop offset="0.42" stop-color="#b7b7b7"/><stop offset="0.62" stop-color="#a2a2a2"/><stop offset="0.8" stop-color="#8c8c8c"/><stop offset="1" stop-color="#7f7f7f"/></linearGradient>
<path d="M915.1 629.6L920.1 635.6L864.6 712.3L859.6 708.3Z" fill="#8e8e8e"/>
<path d="M818.9 581.4L915.1 629.6L859.6 708.3L806.4 661.7Z" fill="url(#tf9)"/>
<linearGradient id="tf10" gradientUnits="userSpaceOnUse" x1="1046" y1="608" x2="999.5" y2="672.5"><stop offset="0" stop-color="#bebebe"/><stop offset="0.42" stop-color="#b7b7b7"/><stop offset="0.62" stop-color="#a2a2a2"/><stop offset="0.8" stop-color="#8c8c8c"/><stop offset="1" stop-color="#7f7f7f"/></linearGradient>
<path d="M1110.2 637.5L1115.2 643.5L1065.9 715.9L1060.9 711.9Z" fill="#8e8e8e"/>
<path d="M981.8 578.5L1110.2 637.5L1060.9 711.9L938.1 633.1Z" fill="url(#tf10)"/>
<linearGradient id="tf11" gradientUnits="userSpaceOnUse" x1="1209" y1="612" x2="1164.5" y2="684"><stop offset="0" stop-color="#bebebe"/><stop offset="0.42" stop-color="#b7b7b7"/><stop offset="0.62" stop-color="#a2a2a2"/><stop offset="0.8" stop-color="#8c8c8c"/><stop offset="1" stop-color="#7f7f7f"/></linearGradient>
<path d="M1235.2 623.4L1240.2 629.4L1197.1 701.5L1192.1 697.5Z" fill="#8e8e8e"/>
<path d="M1182.8 600.6L1235.2 623.4L1192.1 697.5L1136.9 670.5Z" fill="url(#tf11)"/>
<linearGradient id="tf12" gradientUnits="userSpaceOnUse" x1="1169" y1="666.5" x2="1121.5" y2="737"><stop offset="0" stop-color="#bebebe"/><stop offset="0.42" stop-color="#b7b7b7"/><stop offset="0.62" stop-color="#a2a2a2"/><stop offset="0.8" stop-color="#8c8c8c"/><stop offset="1" stop-color="#7f7f7f"/></linearGradient>
<path d="M1205.2 683.5L1210.2 689.5L1165.1 761.7L1160.1 757.7Z" fill="#8e8e8e"/>
<path d="M1132.8 649.5L1205.2 683.5L1160.1 757.7L1082.9 716.3Z" fill="url(#tf12)"/>
<linearGradient id="tf13" gradientUnits="userSpaceOnUse" x1="986" y1="668" x2="922" y2="764"><stop offset="0" stop-color="#bebebe"/><stop offset="0.42" stop-color="#b7b7b7"/><stop offset="0.62" stop-color="#a2a2a2"/><stop offset="0.8" stop-color="#8c8c8c"/><stop offset="1" stop-color="#7f7f7f"/></linearGradient>
<path d="M1056.1 703.6L1061.1 709.6L992.7 822.2L987.7 818.2Z" fill="#8e8e8e"/>
<path d="M915.9 632.4L1056.1 703.6L987.7 818.2L856.3 709.8Z" fill="url(#tf13)"/>
<linearGradient id="tf14" gradientUnits="userSpaceOnUse" x1="825" y1="672.5" x2="797" y2="744"><stop offset="0" stop-color="#bebebe"/><stop offset="0.42" stop-color="#b7b7b7"/><stop offset="0.62" stop-color="#a2a2a2"/><stop offset="0.8" stop-color="#8c8c8c"/><stop offset="1" stop-color="#7f7f7f"/></linearGradient>
<path d="M852.9 692L857.9 698L813.6 771.1L808.6 767.1Z" fill="#8e8e8e"/>
<path d="M797.1 653L852.9 692L808.6 767.1L785.4 720.9Z" fill="url(#tf14)"/>
<linearGradient id="tf15" gradientUnits="userSpaceOnUse" x1="1098.5" y1="729.5" x2="1040.5" y2="816.5"><stop offset="0" stop-color="#bebebe"/><stop offset="0.42" stop-color="#b7b7b7"/><stop offset="0.62" stop-color="#a2a2a2"/><stop offset="0.8" stop-color="#8c8c8c"/><stop offset="1" stop-color="#7f7f7f"/></linearGradient>
<path d="M1127 745.7L1132 751.7L1076.9 842L1071.9 838Z" fill="#8e8e8e"/>
<path d="M1070 713.3L1127 745.7L1071.9 838L1009.1 795Z" fill="url(#tf15)"/>
<linearGradient id="tf16" gradientUnits="userSpaceOnUse" x1="1180" y1="761.5" x2="1137" y2="829"><stop offset="0" stop-color="#bebebe"/><stop offset="0.42" stop-color="#b7b7b7"/><stop offset="0.62" stop-color="#a2a2a2"/><stop offset="0.8" stop-color="#8c8c8c"/><stop offset="1" stop-color="#7f7f7f"/></linearGradient>
<path d="M1213.2 776.4L1218.2 782.4L1175.1 849.6L1170.1 845.6Z" fill="#8e8e8e"/>
<path d="M1146.8 746.6L1213.2 776.4L1170.1 845.6L1103.9 812.4Z" fill="url(#tf16)"/>
</g>
<circle cx="1006" cy="609" r="187" fill="url(#vig1)"/>
<rect x="810" y="415" width="400" height="400" filter="url(#noise)" opacity="0.34" style="mix-blend-mode:overlay"/>
</g>
<circle cx="1006" cy="609" r="187" fill="none" stroke="#1a1a1a" stroke-width="10.8"/>
<g clip-path="url(#cp2)">
<rect x="1270" y="750" width="400" height="400" fill="#979797"/>
<g filter="url(#soft)">
<path d="M1334 823L1397 816L1463 809.5L1530 805L1670 798L1670 985L1580 988L1488 996L1282 936L1268 930L1268 870Z" fill="#bdbdbd"/>
</g><g filter="url(#soft2)">
<path d="M1345 828C1352.5 829 1374.2 833.3 1390 834C1405.8 834.7 1426.7 831.3 1440 832C1453.3 832.7 1465 837 1470 838" fill="none" stroke="#a4a4a4" stroke-width="6" stroke-linecap="round" stroke-linejoin="round" opacity="1" />
<path d="M1375 846C1382.5 847 1405.5 851.7 1420 852C1434.5 852.3 1448.7 847.7 1462 848C1475.3 848.3 1487 851.3 1500 854C1513 856.7 1533.3 862.3 1540 864" fill="none" stroke="#a0a0a0" stroke-width="7" stroke-linecap="round" stroke-linejoin="round" opacity="1" />
<path d="M1443 856C1447.5 858 1457.2 865.3 1470 868C1482.8 870.7 1505.8 869 1520 872C1534.2 875 1549.2 883.7 1555 886" fill="none" stroke="#9e9e9e" stroke-width="7" stroke-linecap="round" stroke-linejoin="round" opacity="1" />
<path d="M1296 882C1306.7 882.3 1339.3 883.3 1360 884C1380.7 884.7 1401.7 885 1420 886C1438.3 887 1461.7 889.3 1470 890" fill="none" stroke="#a0a0a0" stroke-width="7" stroke-linecap="round" stroke-linejoin="round" opacity="1" />
<path d="M1290 893C1295 895.3 1310.8 903 1320 907C1329.2 911 1336.3 913.7 1345 917C1353.7 920.3 1367.5 925.3 1372 927" fill="none" stroke="#9d9d9d" stroke-width="7" stroke-linecap="round" stroke-linejoin="round" opacity="1" />
<path d="M1378 902C1381.7 902.8 1392.2 904.7 1400 907C1407.8 909.3 1419 912.5 1425 916C1431 919.5 1434.2 926 1436 928" fill="none" stroke="#949494" stroke-width="10" stroke-linecap="round" stroke-linejoin="round" opacity="1" />
<path d="M1345 914C1352.5 916.7 1377.5 926 1390 930C1402.5 934 1408.3 934.7 1420 938C1431.7 941.3 1453.3 948 1460 950" fill="none" stroke="#9e9e9e" stroke-width="7" stroke-linecap="round" stroke-linejoin="round" opacity="1" />
<path d="M1432 932C1438.3 934 1458.7 940.7 1470 944C1481.3 947.3 1489.2 949.7 1500 952C1510.8 954.3 1529.2 957 1535 958" fill="none" stroke="#9d9d9d" stroke-width="7" stroke-linecap="round" stroke-linejoin="round" opacity="1" />
<path d="M1465 927C1470.8 927.8 1487.5 929.8 1500 932C1512.5 934.2 1529.2 936.7 1540 940C1550.8 943.3 1560.8 950 1565 952" fill="none" stroke="#949494" stroke-width="9" stroke-linecap="round" stroke-linejoin="round" opacity="1" />
<path d="M1500 950C1506.7 951.7 1528.3 956.7 1540 960C1551.7 963.3 1561.3 966.3 1570 970C1578.7 973.7 1588.3 980 1592 982" fill="none" stroke="#9e9e9e" stroke-width="7" stroke-linecap="round" stroke-linejoin="round" opacity="1" />
<path d="M1560 952C1566.7 953.3 1587.5 956.3 1600 960C1612.5 963.7 1629.2 971.7 1635 974" fill="none" stroke="#9d9d9d" stroke-width="7" stroke-linecap="round" stroke-linejoin="round" opacity="1" />
<path d="M1400 962C1406.7 962.8 1426.7 964.5 1440 967C1453.3 969.5 1468 973.7 1480 977C1492 980.3 1506.7 985.3 1512 987" fill="none" stroke="#a4a4a4" stroke-width="6" stroke-linecap="round" stroke-linejoin="round" opacity="1" />
<path d="M1300 860C1305 861.7 1321.3 865.7 1330 870C1338.7 874.3 1348.3 883.3 1352 886" fill="none" stroke="#a2a2a2" stroke-width="6" stroke-linecap="round" stroke-linejoin="round" opacity="1" />
<path d="M1560 880C1566.7 881.7 1586.7 885.8 1600 890C1613.3 894.2 1633.3 902.5 1640 905" fill="none" stroke="#a2a2a2" stroke-width="7" stroke-linecap="round" stroke-linejoin="round" opacity="1" />
<path d="M1312 845L1345 842L1372 870L1340 878Z" fill="#aaaaaa"/>
<path d="M1488 890L1560 888L1640 920L1640 945L1560 925Z" fill="#acacac"/>
<path d="M1310 930L1350 925L1410 945L1400 965L1340 955Z" fill="#a4a4a4"/>
<ellipse cx="1394" cy="822" rx="50" ry="6" fill="#cdcdcd" transform="rotate(-3 1394 822)"/>
<ellipse cx="1420" cy="840" rx="42" ry="6" fill="#cdcdcd" transform="rotate(3 1420 840)"/>
<ellipse cx="1500" cy="838" rx="44" ry="8" fill="#cdcdcd" transform="rotate(3 1500 838)"/>
<ellipse cx="1330" cy="864" rx="28" ry="9" fill="#cdcdcd" transform="rotate(8 1330 864)"/>
<ellipse cx="1410" cy="870" rx="45" ry="7" fill="#cdcdcd" transform="rotate(4 1410 870)"/>
<ellipse cx="1520" cy="907" rx="60" ry="9" fill="#cdcdcd" transform="rotate(6 1520 907)"/>
<ellipse cx="1340" cy="902" rx="35" ry="7" fill="#cdcdcd" transform="rotate(8 1340 902)"/>
<ellipse cx="1480" cy="987" rx="45" ry="6" fill="#cdcdcd" transform="rotate(6 1480 987)"/>
<ellipse cx="1600" cy="997" rx="50" ry="8" fill="#cdcdcd" transform="rotate(-3 1600 997)"/>
<ellipse cx="1620" cy="962" rx="30" ry="8" fill="#cdcdcd" transform="rotate(10 1620 962)"/>
<ellipse cx="1450" cy="905" rx="30" ry="7" fill="#cdcdcd" transform="rotate(8 1450 905)"/>
<ellipse cx="1590" cy="925" rx="34" ry="7" fill="#cdcdcd" transform="rotate(10 1590 925)"/>
</g><g filter="url(#soft)">
<path d="M1268 931L1282 936L1488 995L1492 1124L1334 1075L1268 1050Z" fill="#b0b0b0"/>
<path d="M1488 995L1580 988L1670 983L1670 1075L1492 1124Z" fill="#b6b6b6"/>
<path d="M1268 931L1282 936L1488 995L1580 988L1670 982" fill="none" stroke="#cdcdcd" stroke-width="8"/>
<path d="M1268 938L1282 943L1488 1002L1580 995L1670 989" fill="none" stroke="#999" stroke-width="3"/>
<path d="M1268 951.5 L1490 1017.6" fill="none" stroke="#c0c0c0" stroke-width="6"/>
<path d="M1268 966.3 L1490 1033.2" fill="none" stroke="#a2a2a2" stroke-width="3"/>
<path d="M1268 984.9 L1490 1052.8" fill="none" stroke="#bfbfbf" stroke-width="7"/>
<path d="M1268 1003.5 L1490 1072.4" fill="none" stroke="#a4a4a4" stroke-width="3"/>
<path d="M1268 1020.3 L1490 1090.1" fill="none" stroke="#bcbcbc" stroke-width="6"/>
<path d="M1268 1035.2 L1490 1105.8" fill="none" stroke="#a0a0a0" stroke-width="3"/>
<line x1="1340" y1="968" x2="1341" y2="981" stroke="#8c8c8c" stroke-width="2.2"/>
<line x1="1345" y1="969.4" x2="1346" y2="982.4" stroke="#8c8c8c" stroke-width="2.2"/>
<line x1="1350" y1="970.8" x2="1351" y2="983.8" stroke="#8c8c8c" stroke-width="2.2"/>
<line x1="1355" y1="972.2" x2="1356" y2="985.2" stroke="#8c8c8c" stroke-width="2.2"/>
<line x1="1395" y1="985" x2="1396" y2="998" stroke="#8c8c8c" stroke-width="2.2"/>
<line x1="1400" y1="986.4" x2="1401" y2="999.4" stroke="#8c8c8c" stroke-width="2.2"/>
<line x1="1405" y1="987.8" x2="1406" y2="1000.8" stroke="#8c8c8c" stroke-width="2.2"/>
<line x1="1410" y1="989.2" x2="1411" y2="1002.2" stroke="#8c8c8c" stroke-width="2.2"/>
<line x1="1415" y1="990.6" x2="1416" y2="1003.6" stroke="#8c8c8c" stroke-width="2.2"/>
<line x1="1420" y1="992" x2="1421" y2="1005" stroke="#8c8c8c" stroke-width="2.2"/>
<line x1="1440" y1="1000" x2="1441" y2="1013" stroke="#8c8c8c" stroke-width="2.2"/>
<line x1="1445" y1="1001.4" x2="1446" y2="1014.4" stroke="#8c8c8c" stroke-width="2.2"/>
<line x1="1450" y1="1002.8" x2="1451" y2="1015.8" stroke="#8c8c8c" stroke-width="2.2"/>
<line x1="1455" y1="1004.2" x2="1456" y2="1017.2" stroke="#8c8c8c" stroke-width="2.2"/>
<line x1="1460" y1="1005.6" x2="1461" y2="1018.6" stroke="#8c8c8c" stroke-width="2.2"/>
<line x1="1395" y1="1010" x2="1396" y2="1023" stroke="#8c8c8c" stroke-width="2.2"/>
<line x1="1400" y1="1011.4" x2="1401" y2="1024.4" stroke="#8c8c8c" stroke-width="2.2"/>
<line x1="1405" y1="1012.8" x2="1406" y2="1025.8" stroke="#8c8c8c" stroke-width="2.2"/>
<line x1="1410" y1="1014.2" x2="1411" y2="1027.2" stroke="#8c8c8c" stroke-width="2.2"/>
<line x1="1415" y1="1015.6" x2="1416" y2="1028.6" stroke="#8c8c8c" stroke-width="2.2"/>
<line x1="1420" y1="1017" x2="1421" y2="1030" stroke="#8c8c8c" stroke-width="2.2"/>
<line x1="1440" y1="1026" x2="1441" y2="1039" stroke="#8c8c8c" stroke-width="2.2"/>
<line x1="1445" y1="1027.4" x2="1446" y2="1040.4" stroke="#8c8c8c" stroke-width="2.2"/>
<line x1="1450" y1="1028.8" x2="1451" y2="1041.8" stroke="#8c8c8c" stroke-width="2.2"/>
<line x1="1455" y1="1030.2" x2="1456" y2="1043.2" stroke="#8c8c8c" stroke-width="2.2"/>
<line x1="1460" y1="1031.6" x2="1461" y2="1044.6" stroke="#8c8c8c" stroke-width="2.2"/>
<line x1="1355" y1="1040" x2="1356" y2="1053" stroke="#8c8c8c" stroke-width="2.2"/>
<line x1="1360" y1="1041.4" x2="1361" y2="1054.4" stroke="#8c8c8c" stroke-width="2.2"/>
<line x1="1365" y1="1042.8" x2="1366" y2="1055.8" stroke="#8c8c8c" stroke-width="2.2"/>
<line x1="1395" y1="1062" x2="1396" y2="1075" stroke="#8c8c8c" stroke-width="2.2"/>
<line x1="1400" y1="1063.4" x2="1401" y2="1076.4" stroke="#8c8c8c" stroke-width="2.2"/>
<line x1="1405" y1="1064.8" x2="1406" y2="1077.8" stroke="#8c8c8c" stroke-width="2.2"/>
<line x1="1410" y1="1066.2" x2="1411" y2="1079.2" stroke="#8c8c8c" stroke-width="2.2"/>
<line x1="1415" y1="1067.6" x2="1416" y2="1080.6" stroke="#8c8c8c" stroke-width="2.2"/>
<line x1="1420" y1="1069" x2="1421" y2="1082" stroke="#8c8c8c" stroke-width="2.2"/>
<line x1="1425" y1="1070.4" x2="1426" y2="1083.4" stroke="#8c8c8c" stroke-width="2.2"/>
<line x1="1455" y1="1078" x2="1456" y2="1091" stroke="#8c8c8c" stroke-width="2.2"/>
<line x1="1460" y1="1079.4" x2="1461" y2="1092.4" stroke="#8c8c8c" stroke-width="2.2"/>
<line x1="1465" y1="1080.8" x2="1466" y2="1093.8" stroke="#8c8c8c" stroke-width="2.2"/>
<line x1="1470" y1="1082.2" x2="1471" y2="1095.2" stroke="#8c8c8c" stroke-width="2.2"/>
<line x1="1475" y1="1083.6" x2="1476" y2="1096.6" stroke="#8c8c8c" stroke-width="2.2"/>
<line x1="1400" y1="1082" x2="1401" y2="1095" stroke="#8c8c8c" stroke-width="2.2"/>
<line x1="1405" y1="1083.4" x2="1406" y2="1096.4" stroke="#8c8c8c" stroke-width="2.2"/>
<line x1="1410" y1="1084.8" x2="1411" y2="1097.8" stroke="#8c8c8c" stroke-width="2.2"/>
<line x1="1415" y1="1086.2" x2="1416" y2="1099.2" stroke="#8c8c8c" stroke-width="2.2"/>
<line x1="1420" y1="1087.6" x2="1421" y2="1100.6" stroke="#8c8c8c" stroke-width="2.2"/>
<line x1="1425" y1="1089" x2="1426" y2="1102" stroke="#8c8c8c" stroke-width="2.2"/>
<path d="M1489 998L1492 1122" stroke="#c6c6c6" stroke-width="5"/>
<path d="M1305 998L1345 1009L1345 1022L1305 1011Z" fill="#bdbdbd"/>
<path d="M1357 1000L1359 1036" stroke="#7d7d7d" stroke-width="2.5"/>
</g>
<path d="M1520 1000L1628 990L1622 1030L1522 1042Z" fill="url(#chk)" opacity="0.8"/>
<path d="M1510 1085L1590 1064L1570 1098L1512 1118Z" fill="url(#chk)" opacity="0.7"/>
<path d="M1268 1050L1334 1075L1486 1123L1492 1160L1268 1160Z" fill="#4d4d4d"/>
<rect x="1270" y="750" width="400" height="400" filter="url(#noise)" opacity="0.3" style="mix-blend-mode:overlay"/>
</g>
<circle cx="1463" cy="946" r="187" fill="none" stroke="#1a1a1a" stroke-width="10.8"/>
<g clip-path="url(#cp3)">
<rect x="2000" y="835" width="400" height="400" fill="#c4c4c4"/>
<g fill="#a2a2a2">
<circle cx="2000" cy="850" r="1.3"/>
<circle cx="2005.6" cy="850.3" r="1.3"/>
<circle cx="2011.2" cy="850.7" r="1.3"/>
<circle cx="2016.8" cy="851" r="1.3"/>
<circle cx="2022.4" cy="851.3" r="1.3"/>
<circle cx="2028" cy="851.7" r="1.3"/>
<circle cx="2033.6" cy="852" r="1.3"/>
<circle cx="2039.2" cy="852.4" r="1.3"/>
<circle cx="2044.8" cy="852.7" r="1.3"/>
<circle cx="2050.4" cy="853" r="1.3"/>
<circle cx="2056" cy="853.4" r="1.3"/>
<circle cx="2061.6" cy="853.7" r="1.3"/>
<circle cx="2067.2" cy="854" r="1.3"/>
<circle cx="2072.8" cy="854.4" r="1.3"/>
<circle cx="2078.4" cy="854.7" r="1.3"/>
<circle cx="2084" cy="855" r="1.3"/>
<circle cx="2089.6" cy="855.4" r="1.3"/>
<circle cx="2095.2" cy="855.7" r="1.3"/>
<circle cx="2100.8" cy="856" r="1.3"/>
<circle cx="2106.4" cy="856.4" r="1.3"/>
<circle cx="2112" cy="856.7" r="1.3"/>
<circle cx="2117.6" cy="857.1" r="1.3"/>
<circle cx="2123.2" cy="857.4" r="1.3"/>
<circle cx="2128.8" cy="857.7" r="1.3"/>
<circle cx="2134.4" cy="858.1" r="1.3"/>
<circle cx="2140" cy="858.4" r="1.3"/>
<circle cx="2145.6" cy="858.7" r="1.3"/>
<circle cx="2151.2" cy="859.1" r="1.3"/>
<circle cx="2156.8" cy="859.4" r="1.3"/>
<circle cx="2162.4" cy="859.7" r="1.3"/>
<circle cx="2168" cy="860.1" r="1.3"/>
<circle cx="2173.6" cy="860.4" r="1.3"/>
<circle cx="2179.2" cy="860.8" r="1.3"/>
<circle cx="2184.8" cy="861.1" r="1.3"/>
<circle cx="2190.4" cy="861.4" r="1.3"/>
<circle cx="2196" cy="861.8" r="1.3"/>
<circle cx="2201.6" cy="862.1" r="1.3"/>
<circle cx="2207.2" cy="862.4" r="1.3"/>
<circle cx="2212.8" cy="862.8" r="1.3"/>
<circle cx="2218.4" cy="863.1" r="1.3"/>
<circle cx="2224" cy="863.4" r="1.3"/>
<circle cx="2229.6" cy="863.8" r="1.3"/>
<circle cx="2235.2" cy="864.1" r="1.3"/>
<circle cx="2240.8" cy="864.4" r="1.3"/>
<circle cx="2246.4" cy="864.8" r="1.3"/>
<circle cx="2252" cy="865.1" r="1.3"/>
<circle cx="2257.6" cy="865.5" r="1.3"/>
<circle cx="2263.2" cy="865.8" r="1.3"/>
<circle cx="2268.8" cy="866.1" r="1.3"/>
<circle cx="2274.4" cy="866.5" r="1.3"/>
<circle cx="2280" cy="866.8" r="1.3"/>
<circle cx="2285.6" cy="867.1" r="1.3"/>
<circle cx="2291.2" cy="867.5" r="1.3"/>
<circle cx="2296.8" cy="867.8" r="1.3"/>
<circle cx="2302.4" cy="868.1" r="1.3"/>
<circle cx="2308" cy="868.5" r="1.3"/>
<circle cx="2313.6" cy="868.8" r="1.3"/>
<circle cx="2319.2" cy="869.2" r="1.3"/>
<circle cx="2324.8" cy="869.5" r="1.3"/>
<circle cx="2330.4" cy="869.8" r="1.3"/>
<circle cx="2336" cy="870.2" r="1.3"/>
<circle cx="2341.6" cy="870.5" r="1.3"/>
<circle cx="2347.2" cy="870.8" r="1.3"/>
<circle cx="2352.8" cy="871.2" r="1.3"/>
<circle cx="2358.4" cy="871.5" r="1.3"/>
<circle cx="2364" cy="871.8" r="1.3"/>
<circle cx="2369.6" cy="872.2" r="1.3"/>
<circle cx="2375.2" cy="872.5" r="1.3"/>
<circle cx="2380.8" cy="872.8" r="1.3"/>
<circle cx="2386.4" cy="873.2" r="1.3"/>
<circle cx="2392" cy="873.5" r="1.3"/>
<circle cx="2397.6" cy="873.9" r="1.3"/>
<circle cx="2002.8" cy="853.7" r="1.3"/>
<circle cx="2008.5" cy="854" r="1.3"/>
<circle cx="2014.2" cy="854.4" r="1.3"/>
<circle cx="2019.9" cy="854.8" r="1.3"/>
<circle cx="2025.6" cy="855.1" r="1.3"/>
<circle cx="2031.3" cy="855.5" r="1.3"/>
<circle cx="2037" cy="855.9" r="1.3"/>
<circle cx="2042.7" cy="856.2" r="1.3"/>
<circle cx="2048.4" cy="856.6" r="1.3"/>
<circle cx="2054.1" cy="857" r="1.3"/>
<circle cx="2059.8" cy="857.3" r="1.3"/>
<circle cx="2065.4" cy="857.7" r="1.3"/>
<circle cx="2071.1" cy="858" r="1.3"/>
<circle cx="2076.8" cy="858.4" r="1.3"/>
<circle cx="2082.5" cy="858.8" r="1.3"/>
<circle cx="2088.2" cy="859.1" r="1.3"/>
<circle cx="2093.9" cy="859.5" r="1.3"/>
<circle cx="2099.6" cy="859.9" r="1.3"/>
<circle cx="2105.3" cy="860.2" r="1.3"/>
<circle cx="2111" cy="860.6" r="1.3"/>
<circle cx="2116.7" cy="861" r="1.3"/>
<circle cx="2122.4" cy="861.3" r="1.3"/>
<circle cx="2128.1" cy="861.7" r="1.3"/>
<circle cx="2133.7" cy="862.1" r="1.3"/>
<circle cx="2139.4" cy="862.4" r="1.3"/>
<circle cx="2145.1" cy="862.8" r="1.3"/>
<circle cx="2150.8" cy="863.2" r="1.3"/>
<circle cx="2156.5" cy="863.5" r="1.3"/>
<circle cx="2162.2" cy="863.9" r="1.3"/>
<circle cx="2167.9" cy="864.3" r="1.3"/>
<circle cx="2173.6" cy="864.6" r="1.3"/>
<circle cx="2179.3" cy="865" r="1.3"/>
<circle cx="2185" cy="865.4" r="1.3"/>
<circle cx="2190.7" cy="865.7" r="1.3"/>
<circle cx="2196.3" cy="866.1" r="1.3"/>
<circle cx="2202" cy="866.5" r="1.3"/>
<circle cx="2207.7" cy="866.8" r="1.3"/>
<circle cx="2213.4" cy="867.2" r="1.3"/>
<circle cx="2219.1" cy="867.6" r="1.3"/>
<circle cx="2224.8" cy="867.9" r="1.3"/>
<circle cx="2230.5" cy="868.3" r="1.3"/>
<circle cx="2236.2" cy="868.7" r="1.3"/>
<circle cx="2241.9" cy="869" r="1.3"/>
<circle cx="2247.6" cy="869.4" r="1.3"/>
<circle cx="2253.3" cy="869.8" r="1.3"/>
<circle cx="2258.9" cy="870.1" r="1.3"/>
<circle cx="2264.6" cy="870.5" r="1.3"/>
<circle cx="2270.3" cy="870.9" r="1.3"/>
<circle cx="2276" cy="871.2" r="1.3"/>
<circle cx="2281.7" cy="871.6" r="1.3"/>
<circle cx="2287.4" cy="872" r="1.3"/>
<circle cx="2293.1" cy="872.3" r="1.3"/>
<circle cx="2298.8" cy="872.7" r="1.3"/>
<circle cx="2304.5" cy="873.1" r="1.3"/>
<circle cx="2310.2" cy="873.4" r="1.3"/>
<circle cx="2315.9" cy="873.8" r="1.3"/>
<circle cx="2321.5" cy="874.2" r="1.3"/>
<circle cx="2327.2" cy="874.5" r="1.3"/>
<circle cx="2332.9" cy="874.9" r="1.3"/>
<circle cx="2338.6" cy="875.3" r="1.3"/>
<circle cx="2344.3" cy="875.6" r="1.3"/>
<circle cx="2350" cy="876" r="1.3"/>
<circle cx="2355.7" cy="876.4" r="1.3"/>
<circle cx="2361.4" cy="876.7" r="1.3"/>
<circle cx="2367.1" cy="877.1" r="1.3"/>
<circle cx="2372.8" cy="877.5" r="1.3"/>
<circle cx="2378.5" cy="877.8" r="1.3"/>
<circle cx="2384.2" cy="878.2" r="1.3"/>
<circle cx="2389.8" cy="878.6" r="1.3"/>
<circle cx="2395.5" cy="878.9" r="1.3"/>
<circle cx="2000" cy="857" r="1.4"/>
<circle cx="2005.8" cy="857.4" r="1.4"/>
<circle cx="2011.6" cy="857.8" r="1.4"/>
<circle cx="2017.4" cy="858.2" r="1.4"/>
<circle cx="2023.1" cy="858.6" r="1.4"/>
<circle cx="2028.9" cy="859" r="1.4"/>
<circle cx="2034.7" cy="859.4" r="1.4"/>
<circle cx="2040.5" cy="859.8" r="1.4"/>
<circle cx="2046.3" cy="860.2" r="1.4"/>
<circle cx="2052.1" cy="860.6" r="1.4"/>
<circle cx="2057.8" cy="861" r="1.4"/>
<circle cx="2063.6" cy="861.4" r="1.4"/>
<circle cx="2069.4" cy="861.8" r="1.4"/>
<circle cx="2075.2" cy="862.2" r="1.4"/>
<circle cx="2081" cy="862.6" r="1.4"/>
<circle cx="2086.8" cy="863" r="1.4"/>
<circle cx="2092.5" cy="863.4" r="1.4"/>
<circle cx="2098.3" cy="863.8" r="1.4"/>
<circle cx="2104.1" cy="864.2" r="1.4"/>
<circle cx="2109.9" cy="864.6" r="1.4"/>
<circle cx="2115.7" cy="865" r="1.4"/>
<circle cx="2121.5" cy="865.4" r="1.4"/>
<circle cx="2127.2" cy="865.7" r="1.4"/>
<circle cx="2133" cy="866.1" r="1.4"/>
<circle cx="2138.8" cy="866.5" r="1.4"/>
<circle cx="2144.6" cy="866.9" r="1.4"/>
<circle cx="2150.4" cy="867.3" r="1.4"/>
<circle cx="2156.2" cy="867.7" r="1.4"/>
<circle cx="2161.9" cy="868.1" r="1.4"/>
<circle cx="2167.7" cy="868.5" r="1.4"/>
<circle cx="2173.5" cy="868.9" r="1.4"/>
<circle cx="2179.3" cy="869.3" r="1.4"/>
<circle cx="2185.1" cy="869.7" r="1.4"/>
<circle cx="2190.9" cy="870.1" r="1.4"/>
<circle cx="2196.6" cy="870.5" r="1.4"/>
<circle cx="2202.4" cy="870.9" r="1.4"/>
<circle cx="2208.2" cy="871.3" r="1.4"/>
<circle cx="2214" cy="871.7" r="1.4"/>
<circle cx="2219.8" cy="872.1" r="1.4"/>
<circle cx="2225.6" cy="872.5" r="1.4"/>
<circle cx="2231.4" cy="872.9" r="1.4"/>
<circle cx="2237.1" cy="873.3" r="1.4"/>
<circle cx="2242.9" cy="873.7" r="1.4"/>
<circle cx="2248.7" cy="874.1" r="1.4"/>
<circle cx="2254.5" cy="874.5" r="1.4"/>
<circle cx="2260.3" cy="874.9" r="1.4"/>
<circle cx="2266.1" cy="875.3" r="1.4"/>
<circle cx="2271.8" cy="875.7" r="1.4"/>
<circle cx="2277.6" cy="876.1" r="1.4"/>
<circle cx="2283.4" cy="876.5" r="1.4"/>
<circle cx="2289.2" cy="876.9" r="1.4"/>
<circle cx="2295" cy="877.3" r="1.4"/>
<circle cx="2300.8" cy="877.7" r="1.4"/>
<circle cx="2306.5" cy="878.1" r="1.4"/>
<circle cx="2312.3" cy="878.5" r="1.4"/>
<circle cx="2318.1" cy="878.9" r="1.4"/>
<circle cx="2323.9" cy="879.3" r="1.4"/>
<circle cx="2329.7" cy="879.7" r="1.4"/>
<circle cx="2335.5" cy="880.1" r="1.4"/>
<circle cx="2341.2" cy="880.5" r="1.4"/>
<circle cx="2347" cy="880.9" r="1.4"/>
<circle cx="2352.8" cy="881.3" r="1.4"/>
<circle cx="2358.6" cy="881.7" r="1.4"/>
<circle cx="2364.4" cy="882.1" r="1.4"/>
<circle cx="2370.2" cy="882.4" r="1.4"/>
<circle cx="2375.9" cy="882.8" r="1.4"/>
<circle cx="2381.7" cy="883.2" r="1.4"/>
<circle cx="2387.5" cy="883.6" r="1.4"/>
<circle cx="2393.3" cy="884" r="1.4"/>
<circle cx="2399.1" cy="884.4" r="1.4"/>
<circle cx="2002.9" cy="860.8" r="1.4"/>
<circle cx="2008.8" cy="861.2" r="1.4"/>
<circle cx="2014.7" cy="861.7" r="1.4"/>
<circle cx="2020.6" cy="862.1" r="1.4"/>
<circle cx="2026.5" cy="862.5" r="1.4"/>
<circle cx="2032.3" cy="863" r="1.4"/>
<circle cx="2038.2" cy="863.4" r="1.4"/>
<circle cx="2044.1" cy="863.8" r="1.4"/>
<circle cx="2050" cy="864.2" r="1.4"/>
<circle cx="2055.8" cy="864.7" r="1.4"/>
<circle cx="2061.7" cy="865.1" r="1.4"/>
<circle cx="2067.6" cy="865.5" r="1.4"/>
<circle cx="2073.5" cy="866" r="1.4"/>
<circle cx="2079.4" cy="866.4" r="1.4"/>
<circle cx="2085.2" cy="866.8" r="1.4"/>
<circle cx="2091.1" cy="867.3" r="1.4"/>
<circle cx="2097" cy="867.7" r="1.4"/>
<circle cx="2102.9" cy="868.1" r="1.4"/>
<circle cx="2108.7" cy="868.5" r="1.4"/>
<circle cx="2114.6" cy="869" r="1.4"/>
<circle cx="2120.5" cy="869.4" r="1.4"/>
<circle cx="2126.4" cy="869.8" r="1.4"/>
<circle cx="2132.3" cy="870.3" r="1.4"/>
<circle cx="2138.1" cy="870.7" r="1.4"/>
<circle cx="2144" cy="871.1" r="1.4"/>
<circle cx="2149.9" cy="871.6" r="1.4"/>
<circle cx="2155.8" cy="872" r="1.4"/>
<circle cx="2161.6" cy="872.4" r="1.4"/>
<circle cx="2167.5" cy="872.9" r="1.4"/>
<circle cx="2173.4" cy="873.3" r="1.4"/>
<circle cx="2179.3" cy="873.7" r="1.4"/>
<circle cx="2185.2" cy="874.1" r="1.4"/>
<circle cx="2191" cy="874.6" r="1.4"/>
<circle cx="2196.9" cy="875" r="1.4"/>
<circle cx="2202.8" cy="875.4" r="1.4"/>
<circle cx="2208.7" cy="875.9" r="1.4"/>
<circle cx="2214.5" cy="876.3" r="1.4"/>
<circle cx="2220.4" cy="876.7" r="1.4"/>
<circle cx="2226.3" cy="877.2" r="1.4"/>
<circle cx="2232.2" cy="877.6" r="1.4"/>
<circle cx="2238.1" cy="878" r="1.4"/>
<circle cx="2243.9" cy="878.5" r="1.4"/>
<circle cx="2249.8" cy="878.9" r="1.4"/>
<circle cx="2255.7" cy="879.3" r="1.4"/>
<circle cx="2261.6" cy="879.7" r="1.4"/>
<circle cx="2267.4" cy="880.2" r="1.4"/>
<circle cx="2273.3" cy="880.6" r="1.4"/>
<circle cx="2279.2" cy="881" r="1.4"/>
<circle cx="2285.1" cy="881.5" r="1.4"/>
<circle cx="2291" cy="881.9" r="1.4"/>
<circle cx="2296.8" cy="882.3" r="1.4"/>
<circle cx="2302.7" cy="882.8" r="1.4"/>
<circle cx="2308.6" cy="883.2" r="1.4"/>
<circle cx="2314.5" cy="883.6" r="1.4"/>
<circle cx="2320.3" cy="884" r="1.4"/>
<circle cx="2326.2" cy="884.5" r="1.4"/>
<circle cx="2332.1" cy="884.9" r="1.4"/>
<circle cx="2338" cy="885.3" r="1.4"/>
<circle cx="2343.9" cy="885.8" r="1.4"/>
<circle cx="2349.7" cy="886.2" r="1.4"/>
<circle cx="2355.6" cy="886.6" r="1.4"/>
<circle cx="2361.5" cy="887.1" r="1.4"/>
<circle cx="2367.4" cy="887.5" r="1.4"/>
<circle cx="2373.2" cy="887.9" r="1.4"/>
<circle cx="2379.1" cy="888.4" r="1.4"/>
<circle cx="2385" cy="888.8" r="1.4"/>
<circle cx="2390.9" cy="889.2" r="1.4"/>
<circle cx="2396.8" cy="889.6" r="1.4"/>
<circle cx="2000" cy="864.2" r="1.4"/>
<circle cx="2006" cy="864.7" r="1.4"/>
<circle cx="2011.9" cy="865.2" r="1.4"/>
<circle cx="2017.9" cy="865.6" r="1.4"/>
<circle cx="2023.9" cy="866.1" r="1.4"/>
<circle cx="2029.9" cy="866.6" r="1.4"/>
<circle cx="2035.8" cy="867" r="1.4"/>
<circle cx="2041.8" cy="867.5" r="1.4"/>
<circle cx="2047.8" cy="867.9" r="1.4"/>
<circle cx="2053.8" cy="868.4" r="1.4"/>
<circle cx="2059.7" cy="868.9" r="1.4"/>
<circle cx="2065.7" cy="869.3" r="1.4"/>
<circle cx="2071.7" cy="869.8" r="1.4"/>
<circle cx="2077.7" cy="870.3" r="1.4"/>
<circle cx="2083.6" cy="870.7" r="1.4"/>
<circle cx="2089.6" cy="871.2" r="1.4"/>
<circle cx="2095.6" cy="871.7" r="1.4"/>
<circle cx="2101.6" cy="872.1" r="1.4"/>
<circle cx="2107.5" cy="872.6" r="1.4"/>
<circle cx="2113.5" cy="873.1" r="1.4"/>
<circle cx="2119.5" cy="873.5" r="1.4"/>
<circle cx="2125.4" cy="874" r="1.4"/>
<circle cx="2131.4" cy="874.5" r="1.4"/>
<circle cx="2137.4" cy="874.9" r="1.4"/>
<circle cx="2143.4" cy="875.4" r="1.4"/>
<circle cx="2149.3" cy="875.8" r="1.4"/>
<circle cx="2155.3" cy="876.3" r="1.4"/>
<circle cx="2161.3" cy="876.8" r="1.4"/>
<circle cx="2167.3" cy="877.2" r="1.4"/>
<circle cx="2173.2" cy="877.7" r="1.4"/>
<circle cx="2179.2" cy="878.2" r="1.4"/>
<circle cx="2185.2" cy="878.6" r="1.4"/>
<circle cx="2191.2" cy="879.1" r="1.4"/>
<circle cx="2197.1" cy="879.6" r="1.4"/>
<circle cx="2203.1" cy="880" r="1.4"/>
<circle cx="2209.1" cy="880.5" r="1.4"/>
<circle cx="2215" cy="881" r="1.4"/>
<circle cx="2221" cy="881.4" r="1.4"/>
<circle cx="2227" cy="881.9" r="1.4"/>
<circle cx="2233" cy="882.4" r="1.4"/>
<circle cx="2238.9" cy="882.8" r="1.4"/>
<circle cx="2244.9" cy="883.3" r="1.4"/>
<circle cx="2250.9" cy="883.7" r="1.4"/>
<circle cx="2256.9" cy="884.2" r="1.4"/>
<circle cx="2262.8" cy="884.7" r="1.4"/>
<circle cx="2268.8" cy="885.1" r="1.4"/>
<circle cx="2274.8" cy="885.6" r="1.4"/>
<circle cx="2280.8" cy="886.1" r="1.4"/>
<circle cx="2286.7" cy="886.5" r="1.4"/>
<circle cx="2292.7" cy="887" r="1.4"/>
<circle cx="2298.7" cy="887.5" r="1.4"/>
<circle cx="2304.7" cy="887.9" r="1.4"/>
<circle cx="2310.6" cy="888.4" r="1.4"/>
<circle cx="2316.6" cy="888.9" r="1.4"/>
<circle cx="2322.6" cy="889.3" r="1.4"/>
<circle cx="2328.5" cy="889.8" r="1.4"/>
<circle cx="2334.5" cy="890.3" r="1.4"/>
<circle cx="2340.5" cy="890.7" r="1.4"/>
<circle cx="2346.5" cy="891.2" r="1.4"/>
<circle cx="2352.4" cy="891.6" r="1.4"/>
<circle cx="2358.4" cy="892.1" r="1.4"/>
<circle cx="2364.4" cy="892.6" r="1.4"/>
<circle cx="2370.4" cy="893" r="1.4"/>
<circle cx="2376.3" cy="893.5" r="1.4"/>
<circle cx="2382.3" cy="894" r="1.4"/>
<circle cx="2388.3" cy="894.4" r="1.4"/>
<circle cx="2394.3" cy="894.9" r="1.4"/>
<circle cx="2003" cy="868.2" r="1.4"/>
<circle cx="2009.1" cy="868.7" r="1.4"/>
<circle cx="2015.2" cy="869.2" r="1.4"/>
<circle cx="2021.2" cy="869.7" r="1.4"/>
<circle cx="2027.3" cy="870.2" r="1.4"/>
<circle cx="2033.4" cy="870.7" r="1.4"/>
<circle cx="2039.5" cy="871.2" r="1.4"/>
<circle cx="2045.5" cy="871.7" r="1.4"/>
<circle cx="2051.6" cy="872.2" r="1.4"/>
<circle cx="2057.7" cy="872.7" r="1.4"/>
<circle cx="2063.7" cy="873.2" r="1.4"/>
<circle cx="2069.8" cy="873.7" r="1.4"/>
<circle cx="2075.9" cy="874.2" r="1.4"/>
<circle cx="2082" cy="874.7" r="1.4"/>
<circle cx="2088" cy="875.2" r="1.4"/>
<circle cx="2094.1" cy="875.7" r="1.4"/>
<circle cx="2100.2" cy="876.2" r="1.4"/>
<circle cx="2106.2" cy="876.7" r="1.4"/>
<circle cx="2112.3" cy="877.2" r="1.4"/>
<circle cx="2118.4" cy="877.7" r="1.4"/>
<circle cx="2124.5" cy="878.2" r="1.4"/>
<circle cx="2130.5" cy="878.7" r="1.4"/>
<circle cx="2136.6" cy="879.2" r="1.4"/>
<circle cx="2142.7" cy="879.7" r="1.4"/>
<circle cx="2148.7" cy="880.2" r="1.4"/>
<circle cx="2154.8" cy="880.7" r="1.4"/>
<circle cx="2160.9" cy="881.2" r="1.4"/>
<circle cx="2166.9" cy="881.7" r="1.4"/>
<circle cx="2173" cy="882.2" r="1.4"/>
<circle cx="2179.1" cy="882.7" r="1.4"/>
<circle cx="2185.2" cy="883.2" r="1.4"/>
<circle cx="2191.2" cy="883.7" r="1.4"/>
<circle cx="2197.3" cy="884.2" r="1.4"/>
<circle cx="2203.4" cy="884.7" r="1.4"/>
<circle cx="2209.4" cy="885.2" r="1.4"/>
<circle cx="2215.5" cy="885.7" r="1.4"/>
<circle cx="2221.6" cy="886.2" r="1.4"/>
<circle cx="2227.7" cy="886.7" r="1.4"/>
<circle cx="2233.7" cy="887.2" r="1.4"/>
<circle cx="2239.8" cy="887.7" r="1.4"/>
<circle cx="2245.9" cy="888.2" r="1.4"/>
<circle cx="2251.9" cy="888.7" r="1.4"/>
<circle cx="2258" cy="889.2" r="1.4"/>
<circle cx="2264.1" cy="889.7" r="1.4"/>
<circle cx="2270.1" cy="890.2" r="1.4"/>
<circle cx="2276.2" cy="890.7" r="1.4"/>
<circle cx="2282.3" cy="891.2" r="1.4"/>
<circle cx="2288.4" cy="891.7" r="1.4"/>
<circle cx="2294.4" cy="892.2" r="1.4"/>
<circle cx="2300.5" cy="892.7" r="1.4"/>
<circle cx="2306.6" cy="893.2" r="1.4"/>
<circle cx="2312.6" cy="893.7" r="1.4"/>
<circle cx="2318.7" cy="894.2" r="1.4"/>
<circle cx="2324.8" cy="894.7" r="1.4"/>
<circle cx="2330.9" cy="895.2" r="1.4"/>
<circle cx="2336.9" cy="895.7" r="1.4"/>
<circle cx="2343" cy="896.2" r="1.4"/>
<circle cx="2349.1" cy="896.7" r="1.4"/>
<circle cx="2355.1" cy="897.2" r="1.4"/>
<circle cx="2361.2" cy="897.7" r="1.4"/>
<circle cx="2367.3" cy="898.2" r="1.4"/>
<circle cx="2373.4" cy="898.7" r="1.4"/>
<circle cx="2379.4" cy="899.2" r="1.4"/>
<circle cx="2385.5" cy="899.7" r="1.4"/>
<circle cx="2391.6" cy="900.2" r="1.4"/>
<circle cx="2397.6" cy="900.7" r="1.4"/>
<circle cx="2000" cy="871.7" r="1.5"/>
<circle cx="2006.2" cy="872.2" r="1.5"/>
<circle cx="2012.3" cy="872.8" r="1.5"/>
<circle cx="2018.5" cy="873.3" r="1.5"/>
<circle cx="2024.7" cy="873.8" r="1.5"/>
<circle cx="2030.8" cy="874.4" r="1.5"/>
<circle cx="2037" cy="874.9" r="1.5"/>
<circle cx="2043.2" cy="875.5" r="1.5"/>
<circle cx="2049.4" cy="876" r="1.5"/>
<circle cx="2055.5" cy="876.5" r="1.5"/>
<circle cx="2061.7" cy="877.1" r="1.5"/>
<circle cx="2067.9" cy="877.6" r="1.5"/>
<circle cx="2074" cy="878.1" r="1.5"/>
<circle cx="2080.2" cy="878.7" r="1.5"/>
<circle cx="2086.4" cy="879.2" r="1.5"/>
<circle cx="2092.5" cy="879.8" r="1.5"/>
<circle cx="2098.7" cy="880.3" r="1.5"/>
<circle cx="2104.9" cy="880.8" r="1.5"/>
<circle cx="2111.1" cy="881.4" r="1.5"/>
<circle cx="2117.2" cy="881.9" r="1.5"/>
<circle cx="2123.4" cy="882.4" r="1.5"/>
<circle cx="2129.6" cy="883" r="1.5"/>
<circle cx="2135.7" cy="883.5" r="1.5"/>
<circle cx="2141.9" cy="884.1" r="1.5"/>
<circle cx="2148.1" cy="884.6" r="1.5"/>
<circle cx="2154.2" cy="885.1" r="1.5"/>
<circle cx="2160.4" cy="885.7" r="1.5"/>
<circle cx="2166.6" cy="886.2" r="1.5"/>
<circle cx="2172.7" cy="886.7" r="1.5"/>
<circle cx="2178.9" cy="887.3" r="1.5"/>
<circle cx="2185.1" cy="887.8" r="1.5"/>
<circle cx="2191.3" cy="888.4" r="1.5"/>
<circle cx="2197.4" cy="888.9" r="1.5"/>
<circle cx="2203.6" cy="889.4" r="1.5"/>
<circle cx="2209.8" cy="890" r="1.5"/>
<circle cx="2215.9" cy="890.5" r="1.5"/>
<circle cx="2222.1" cy="891" r="1.5"/>
<circle cx="2228.3" cy="891.6" r="1.5"/>
<circle cx="2234.4" cy="892.1" r="1.5"/>
<circle cx="2240.6" cy="892.7" r="1.5"/>
<circle cx="2246.8" cy="893.2" r="1.5"/>
<circle cx="2253" cy="893.7" r="1.5"/>
<circle cx="2259.1" cy="894.3" r="1.5"/>
<circle cx="2265.3" cy="894.8" r="1.5"/>
<circle cx="2271.5" cy="895.3" r="1.5"/>
<circle cx="2277.6" cy="895.9" r="1.5"/>
<circle cx="2283.8" cy="896.4" r="1.5"/>
<circle cx="2290" cy="897" r="1.5"/>
<circle cx="2296.1" cy="897.5" r="1.5"/>
<circle cx="2302.3" cy="898" r="1.5"/>
<circle cx="2308.5" cy="898.6" r="1.5"/>
<circle cx="2314.6" cy="899.1" r="1.5"/>
<circle cx="2320.8" cy="899.6" r="1.5"/>
<circle cx="2327" cy="900.2" r="1.5"/>
<circle cx="2333.2" cy="900.7" r="1.5"/>
<circle cx="2339.3" cy="901.3" r="1.5"/>
<circle cx="2345.5" cy="901.8" r="1.5"/>
<circle cx="2351.7" cy="902.3" r="1.5"/>
<circle cx="2357.8" cy="902.9" r="1.5"/>
<circle cx="2364" cy="903.4" r="1.5"/>
<circle cx="2370.2" cy="903.9" r="1.5"/>
<circle cx="2376.3" cy="904.5" r="1.5"/>
<circle cx="2382.5" cy="905" r="1.5"/>
<circle cx="2388.7" cy="905.6" r="1.5"/>
<circle cx="2394.9" cy="906.1" r="1.5"/>
<circle cx="2003.1" cy="875.8" r="1.5"/>
<circle cx="2009.4" cy="876.4" r="1.5"/>
<circle cx="2015.7" cy="877" r="1.5"/>
<circle cx="2021.9" cy="877.5" r="1.5"/>
<circle cx="2028.2" cy="878.1" r="1.5"/>
<circle cx="2034.5" cy="878.7" r="1.5"/>
<circle cx="2040.8" cy="879.3" r="1.5"/>
<circle cx="2047" cy="879.8" r="1.5"/>
<circle cx="2053.3" cy="880.4" r="1.5"/>
<circle cx="2059.6" cy="881" r="1.5"/>
<circle cx="2065.8" cy="881.6" r="1.5"/>
<circle cx="2072.1" cy="882.2" r="1.5"/>
<circle cx="2078.4" cy="882.7" r="1.5"/>
<circle cx="2084.6" cy="883.3" r="1.5"/>
<circle cx="2090.9" cy="883.9" r="1.5"/>
<circle cx="2097.2" cy="884.5" r="1.5"/>
<circle cx="2103.5" cy="885" r="1.5"/>
<circle cx="2109.7" cy="885.6" r="1.5"/>
<circle cx="2116" cy="886.2" r="1.5"/>
<circle cx="2122.3" cy="886.8" r="1.5"/>
<circle cx="2128.5" cy="887.3" r="1.5"/>
<circle cx="2134.8" cy="887.9" r="1.5"/>
<circle cx="2141.1" cy="888.5" r="1.5"/>
<circle cx="2147.3" cy="889.1" r="1.5"/>
<circle cx="2153.6" cy="889.6" r="1.5"/>
<circle cx="2159.9" cy="890.2" r="1.5"/>
<circle cx="2166.2" cy="890.8" r="1.5"/>
<circle cx="2172.4" cy="891.4" r="1.5"/>
<circle cx="2178.7" cy="891.9" r="1.5"/>
<circle cx="2185" cy="892.5" r="1.5"/>
<circle cx="2191.2" cy="893.1" r="1.5"/>
<circle cx="2197.5" cy="893.7" r="1.5"/>
<circle cx="2203.8" cy="894.3" r="1.5"/>
<circle cx="2210" cy="894.8" r="1.5"/>
<circle cx="2216.3" cy="895.4" r="1.5"/>
<circle cx="2222.6" cy="896" r="1.5"/>
<circle cx="2228.9" cy="896.6" r="1.5"/>
<circle cx="2235.1" cy="897.1" r="1.5"/>
<circle cx="2241.4" cy="897.7" r="1.5"/>
<circle cx="2247.7" cy="898.3" r="1.5"/>
<circle cx="2253.9" cy="898.9" r="1.5"/>
<circle cx="2260.2" cy="899.4" r="1.5"/>
<circle cx="2266.5" cy="900" r="1.5"/>
<circle cx="2272.7" cy="900.6" r="1.5"/>
<circle cx="2279" cy="901.2" r="1.5"/>
<circle cx="2285.3" cy="901.7" r="1.5"/>
<circle cx="2291.6" cy="902.3" r="1.5"/>
<circle cx="2297.8" cy="902.9" r="1.5"/>
<circle cx="2304.1" cy="903.5" r="1.5"/>
<circle cx="2310.4" cy="904" r="1.5"/>
<circle cx="2316.6" cy="904.6" r="1.5"/>
<circle cx="2322.9" cy="905.2" r="1.5"/>
<circle cx="2329.2" cy="905.8" r="1.5"/>
<circle cx="2335.4" cy="906.4" r="1.5"/>
<circle cx="2341.7" cy="906.9" r="1.5"/>
<circle cx="2348" cy="907.5" r="1.5"/>
<circle cx="2354.3" cy="908.1" r="1.5"/>
<circle cx="2360.5" cy="908.7" r="1.5"/>
<circle cx="2366.8" cy="909.2" r="1.5"/>
<circle cx="2373.1" cy="909.8" r="1.5"/>
<circle cx="2379.3" cy="910.4" r="1.5"/>
<circle cx="2385.6" cy="911" r="1.5"/>
<circle cx="2391.9" cy="911.5" r="1.5"/>
<circle cx="2398.1" cy="912.1" r="1.5"/>
<circle cx="2000" cy="879.4" r="1.5"/>
<circle cx="2006.4" cy="880" r="1.5"/>
<circle cx="2012.7" cy="880.6" r="1.5"/>
<circle cx="2019.1" cy="881.3" r="1.5"/>
<circle cx="2025.5" cy="881.9" r="1.5"/>
<circle cx="2031.9" cy="882.5" r="1.5"/>
<circle cx="2038.2" cy="883.1" r="1.5"/>
<circle cx="2044.6" cy="883.7" r="1.5"/>
<circle cx="2051" cy="884.3" r="1.5"/>
<circle cx="2057.3" cy="885" r="1.5"/>
<circle cx="2063.7" cy="885.6" r="1.5"/>
<circle cx="2070.1" cy="886.2" r="1.5"/>
<circle cx="2076.5" cy="886.8" r="1.5"/>
<circle cx="2082.8" cy="887.4" r="1.5"/>
<circle cx="2089.2" cy="888" r="1.5"/>
<circle cx="2095.6" cy="888.7" r="1.5"/>
<circle cx="2102" cy="889.3" r="1.5"/>
<circle cx="2108.3" cy="889.9" r="1.5"/>
<circle cx="2114.7" cy="890.5" r="1.5"/>
<circle cx="2121.1" cy="891.1" r="1.5"/>
<circle cx="2127.4" cy="891.7" r="1.5"/>
<circle cx="2133.8" cy="892.4" r="1.5"/>
<circle cx="2140.2" cy="893" r="1.5"/>
<circle cx="2146.6" cy="893.6" r="1.5"/>
<circle cx="2152.9" cy="894.2" r="1.5"/>
<circle cx="2159.3" cy="894.8" r="1.5"/>
<circle cx="2165.7" cy="895.4" r="1.5"/>
<circle cx="2172" cy="896.1" r="1.5"/>
<circle cx="2178.4" cy="896.7" r="1.5"/>
<circle cx="2184.8" cy="897.3" r="1.5"/>
<circle cx="2191.2" cy="897.9" r="1.5"/>
<circle cx="2197.5" cy="898.5" r="1.5"/>
<circle cx="2203.9" cy="899.1" r="1.5"/>
<circle cx="2210.3" cy="899.8" r="1.5"/>
<circle cx="2216.6" cy="900.4" r="1.5"/>
<circle cx="2223" cy="901" r="1.5"/>
<circle cx="2229.4" cy="901.6" r="1.5"/>
<circle cx="2235.8" cy="902.2" r="1.5"/>
<circle cx="2242.1" cy="902.8" r="1.5"/>
<circle cx="2248.5" cy="903.5" r="1.5"/>
<circle cx="2254.9" cy="904.1" r="1.5"/>
<circle cx="2261.3" cy="904.7" r="1.5"/>
<circle cx="2267.6" cy="905.3" r="1.5"/>
<circle cx="2274" cy="905.9" r="1.5"/>
<circle cx="2280.4" cy="906.5" r="1.5"/>
<circle cx="2286.7" cy="907.2" r="1.5"/>
<circle cx="2293.1" cy="907.8" r="1.5"/>
<circle cx="2299.5" cy="908.4" r="1.5"/>
<circle cx="2305.9" cy="909" r="1.5"/>
<circle cx="2312.2" cy="909.6" r="1.5"/>
<circle cx="2318.6" cy="910.2" r="1.5"/>
<circle cx="2325" cy="910.9" r="1.5"/>
<circle cx="2331.3" cy="911.5" r="1.5"/>
<circle cx="2337.7" cy="912.1" r="1.5"/>
<circle cx="2344.1" cy="912.7" r="1.5"/>
<circle cx="2350.5" cy="913.3" r="1.5"/>
<circle cx="2356.8" cy="913.9" r="1.5"/>
<circle cx="2363.2" cy="914.6" r="1.5"/>
<circle cx="2369.6" cy="915.2" r="1.5"/>
<circle cx="2375.9" cy="915.8" r="1.5"/>
<circle cx="2382.3" cy="916.4" r="1.5"/>
<circle cx="2388.7" cy="917" r="1.5"/>
<circle cx="2395.1" cy="917.6" r="1.5"/>
<circle cx="2003.2" cy="883.7" r="1.6"/>
<circle cx="2009.7" cy="884.3" r="1.6"/>
<circle cx="2016.2" cy="885" r="1.6"/>
<circle cx="2022.7" cy="885.7" r="1.6"/>
<circle cx="2029.1" cy="886.3" r="1.6"/>
<circle cx="2035.6" cy="887" r="1.6"/>
<circle cx="2042.1" cy="887.6" r="1.6"/>
<circle cx="2048.6" cy="888.3" r="1.6"/>
<circle cx="2055" cy="889" r="1.6"/>
<circle cx="2061.5" cy="889.6" r="1.6"/>
<circle cx="2068" cy="890.3" r="1.6"/>
<circle cx="2074.5" cy="890.9" r="1.6"/>
<circle cx="2080.9" cy="891.6" r="1.6"/>
<circle cx="2087.4" cy="892.3" r="1.6"/>
<circle cx="2093.9" cy="892.9" r="1.6"/>
<circle cx="2100.4" cy="893.6" r="1.6"/>
<circle cx="2106.8" cy="894.2" r="1.6"/>
<circle cx="2113.3" cy="894.9" r="1.6"/>
<circle cx="2119.8" cy="895.5" r="1.6"/>
<circle cx="2126.3" cy="896.2" r="1.6"/>
<circle cx="2132.8" cy="896.9" r="1.6"/>
<circle cx="2139.2" cy="897.5" r="1.6"/>
<circle cx="2145.7" cy="898.2" r="1.6"/>
<circle cx="2152.2" cy="898.8" r="1.6"/>
<circle cx="2158.7" cy="899.5" r="1.6"/>
<circle cx="2165.1" cy="900.2" r="1.6"/>
<circle cx="2171.6" cy="900.8" r="1.6"/>
<circle cx="2178.1" cy="901.5" r="1.6"/>
<circle cx="2184.6" cy="902.1" r="1.6"/>
<circle cx="2191" cy="902.8" r="1.6"/>
<circle cx="2197.5" cy="903.4" r="1.6"/>
<circle cx="2204" cy="904.1" r="1.6"/>
<circle cx="2210.5" cy="904.8" r="1.6"/>
<circle cx="2216.9" cy="905.4" r="1.6"/>
<circle cx="2223.4" cy="906.1" r="1.6"/>
<circle cx="2229.9" cy="906.7" r="1.6"/>
<circle cx="2236.4" cy="907.4" r="1.6"/>
<circle cx="2242.8" cy="908.1" r="1.6"/>
<circle cx="2249.3" cy="908.7" r="1.6"/>
<circle cx="2255.8" cy="909.4" r="1.6"/>
<circle cx="2262.3" cy="910" r="1.6"/>
<circle cx="2268.7" cy="910.7" r="1.6"/>
<circle cx="2275.2" cy="911.4" r="1.6"/>
<circle cx="2281.7" cy="912" r="1.6"/>
<circle cx="2288.2" cy="912.7" r="1.6"/>
<circle cx="2294.6" cy="913.3" r="1.6"/>
<circle cx="2301.1" cy="914" r="1.6"/>
<circle cx="2307.6" cy="914.6" r="1.6"/>
<circle cx="2314.1" cy="915.3" r="1.6"/>
<circle cx="2320.5" cy="916" r="1.6"/>
<circle cx="2327" cy="916.6" r="1.6"/>
<circle cx="2333.5" cy="917.3" r="1.6"/>
<circle cx="2340" cy="917.9" r="1.6"/>
<circle cx="2346.5" cy="918.6" r="1.6"/>
<circle cx="2352.9" cy="919.3" r="1.6"/>
<circle cx="2359.4" cy="919.9" r="1.6"/>
<circle cx="2365.9" cy="920.6" r="1.6"/>
<circle cx="2372.4" cy="921.2" r="1.6"/>
<circle cx="2378.8" cy="921.9" r="1.6"/>
<circle cx="2385.3" cy="922.5" r="1.6"/>
<circle cx="2391.8" cy="923.2" r="1.6"/>
<circle cx="2398.3" cy="923.9" r="1.6"/>
<circle cx="2000" cy="887.4" r="1.6"/>
<circle cx="2006.6" cy="888.1" r="1.6"/>
<circle cx="2013.2" cy="888.8" r="1.6"/>
<circle cx="2019.7" cy="889.5" r="1.6"/>
<circle cx="2026.3" cy="890.2" r="1.6"/>
<circle cx="2032.9" cy="890.9" r="1.6"/>
<circle cx="2039.5" cy="891.6" r="1.6"/>
<circle cx="2046.1" cy="892.3" r="1.6"/>
<circle cx="2052.6" cy="893" r="1.6"/>
<circle cx="2059.2" cy="893.7" r="1.6"/>
<circle cx="2065.8" cy="894.4" r="1.6"/>
<circle cx="2072.4" cy="895.1" r="1.6"/>
<circle cx="2079" cy="895.8" r="1.6"/>
<circle cx="2085.6" cy="896.5" r="1.6"/>
<circle cx="2092.1" cy="897.2" r="1.6"/>
<circle cx="2098.7" cy="897.9" r="1.6"/>
<circle cx="2105.3" cy="898.6" r="1.6"/>
<circle cx="2111.9" cy="899.3" r="1.6"/>
<circle cx="2118.5" cy="900" r="1.6"/>
<circle cx="2125" cy="900.7" r="1.6"/>
<circle cx="2131.6" cy="901.4" r="1.6"/>
<circle cx="2138.2" cy="902.1" r="1.6"/>
<circle cx="2144.8" cy="902.8" r="1.6"/>
<circle cx="2151.4" cy="903.5" r="1.6"/>
<circle cx="2157.9" cy="904.2" r="1.6"/>
<circle cx="2164.5" cy="904.9" r="1.6"/>
<circle cx="2171.1" cy="905.6" r="1.6"/>
<circle cx="2177.7" cy="906.3" r="1.6"/>
<circle cx="2184.3" cy="907" r="1.6"/>
<circle cx="2190.9" cy="907.7" r="1.6"/>
<circle cx="2197.4" cy="908.4" r="1.6"/>
<circle cx="2204" cy="909.1" r="1.6"/>
<circle cx="2210.6" cy="909.9" r="1.6"/>
<circle cx="2217.2" cy="910.6" r="1.6"/>
<circle cx="2223.8" cy="911.3" r="1.6"/>
<circle cx="2230.3" cy="912" r="1.6"/>
<circle cx="2236.9" cy="912.7" r="1.6"/>
<circle cx="2243.5" cy="913.4" r="1.6"/>
<circle cx="2250.1" cy="914.1" r="1.6"/>
<circle cx="2256.7" cy="914.8" r="1.6"/>
<circle cx="2263.2" cy="915.5" r="1.6"/>
<circle cx="2269.8" cy="916.2" r="1.6"/>
<circle cx="2276.4" cy="916.9" r="1.6"/>
<circle cx="2283" cy="917.6" r="1.6"/>
<circle cx="2289.6" cy="918.3" r="1.6"/>
<circle cx="2296.2" cy="919" r="1.6"/>
<circle cx="2302.7" cy="919.7" r="1.6"/>
<circle cx="2309.3" cy="920.4" r="1.6"/>
<circle cx="2315.9" cy="921.1" r="1.6"/>
<circle cx="2322.5" cy="921.8" r="1.6"/>
<circle cx="2329.1" cy="922.5" r="1.6"/>
<circle cx="2335.6" cy="923.2" r="1.6"/>
<circle cx="2342.2" cy="923.9" r="1.6"/>
<circle cx="2348.8" cy="924.6" r="1.6"/>
<circle cx="2355.4" cy="925.3" r="1.6"/>
<circle cx="2362" cy="926" r="1.6"/>
<circle cx="2368.5" cy="926.7" r="1.6"/>
<circle cx="2375.1" cy="927.4" r="1.6"/>
<circle cx="2381.7" cy="928.1" r="1.6"/>
<circle cx="2388.3" cy="928.8" r="1.6"/>
<circle cx="2394.9" cy="929.5" r="1.6"/>
<circle cx="2003.3" cy="891.8" r="1.6"/>
<circle cx="2010" cy="892.6" r="1.6"/>
<circle cx="2016.7" cy="893.3" r="1.6"/>
<circle cx="2023.4" cy="894.1" r="1.6"/>
<circle cx="2030.1" cy="894.8" r="1.6"/>
<circle cx="2036.8" cy="895.6" r="1.6"/>
<circle cx="2043.5" cy="896.3" r="1.6"/>
<circle cx="2050.2" cy="897.1" r="1.6"/>
<circle cx="2056.9" cy="897.8" r="1.6"/>
<circle cx="2063.5" cy="898.6" r="1.6"/>
<circle cx="2070.2" cy="899.3" r="1.6"/>
<circle cx="2076.9" cy="900.1" r="1.6"/>
<circle cx="2083.6" cy="900.8" r="1.6"/>
<circle cx="2090.3" cy="901.6" r="1.6"/>
<circle cx="2097" cy="902.3" r="1.6"/>
<circle cx="2103.7" cy="903" r="1.6"/>
<circle cx="2110.4" cy="903.8" r="1.6"/>
<circle cx="2117" cy="904.5" r="1.6"/>
<circle cx="2123.7" cy="905.3" r="1.6"/>
<circle cx="2130.4" cy="906" r="1.6"/>
<circle cx="2137.1" cy="906.8" r="1.6"/>
<circle cx="2143.8" cy="907.5" r="1.6"/>
<circle cx="2150.5" cy="908.3" r="1.6"/>
<circle cx="2157.2" cy="909" r="1.6"/>
<circle cx="2163.9" cy="909.8" r="1.6"/>
<circle cx="2170.6" cy="910.5" r="1.6"/>
<circle cx="2177.2" cy="911.3" r="1.6"/>
<circle cx="2183.9" cy="912" r="1.6"/>
<circle cx="2190.6" cy="912.8" r="1.6"/>
<circle cx="2197.3" cy="913.5" r="1.6"/>
<circle cx="2204" cy="914.3" r="1.6"/>
<circle cx="2210.7" cy="915" r="1.6"/>
<circle cx="2217.4" cy="915.8" r="1.6"/>
<circle cx="2224.1" cy="916.5" r="1.6"/>
<circle cx="2230.7" cy="917.3" r="1.6"/>
<circle cx="2237.4" cy="918" r="1.6"/>
<circle cx="2244.1" cy="918.8" r="1.6"/>
<circle cx="2250.8" cy="919.5" r="1.6"/>
<circle cx="2257.5" cy="920.3" r="1.6"/>
<circle cx="2264.2" cy="921" r="1.6"/>
<circle cx="2270.9" cy="921.7" r="1.6"/>
<circle cx="2277.6" cy="922.5" r="1.6"/>
<circle cx="2284.3" cy="923.2" r="1.6"/>
<circle cx="2290.9" cy="924" r="1.6"/>
<circle cx="2297.6" cy="924.7" r="1.6"/>
<circle cx="2304.3" cy="925.5" r="1.6"/>
<circle cx="2311" cy="926.2" r="1.6"/>
<circle cx="2317.7" cy="927" r="1.6"/>
<circle cx="2324.4" cy="927.7" r="1.6"/>
<circle cx="2331.1" cy="928.5" r="1.6"/>
<circle cx="2337.8" cy="929.2" r="1.6"/>
<circle cx="2344.4" cy="930" r="1.6"/>
<circle cx="2351.1" cy="930.7" r="1.6"/>
<circle cx="2357.8" cy="931.5" r="1.6"/>
<circle cx="2364.5" cy="932.2" r="1.6"/>
<circle cx="2371.2" cy="933" r="1.6"/>
<circle cx="2377.9" cy="933.7" r="1.6"/>
<circle cx="2384.6" cy="934.5" r="1.6"/>
<circle cx="2391.3" cy="935.2" r="1.6"/>
<circle cx="2398" cy="936" r="1.6"/>
<circle cx="2000" cy="895.6" r="1.7"/>
<circle cx="2006.8" cy="896.4" r="1.7"/>
<circle cx="2013.6" cy="897.2" r="1.7"/>
<circle cx="2020.4" cy="898" r="1.7"/>
<circle cx="2027.2" cy="898.8" r="1.7"/>
<circle cx="2034" cy="899.6" r="1.7"/>
<circle cx="2040.8" cy="900.4" r="1.7"/>
<circle cx="2047.6" cy="901.2" r="1.7"/>
<circle cx="2054.4" cy="902" r="1.7"/>
<circle cx="2061.2" cy="902.8" r="1.7"/>
<circle cx="2068" cy="903.6" r="1.7"/>
<circle cx="2074.8" cy="904.4" r="1.7"/>
<circle cx="2081.6" cy="905.1" r="1.7"/>
<circle cx="2088.4" cy="905.9" r="1.7"/>
<circle cx="2095.2" cy="906.7" r="1.7"/>
<circle cx="2102" cy="907.5" r="1.7"/>
<circle cx="2108.8" cy="908.3" r="1.7"/>
<circle cx="2115.6" cy="909.1" r="1.7"/>
<circle cx="2122.3" cy="909.9" r="1.7"/>
<circle cx="2129.1" cy="910.7" r="1.7"/>
<circle cx="2135.9" cy="911.5" r="1.7"/>
<circle cx="2142.7" cy="912.3" r="1.7"/>
<circle cx="2149.5" cy="913.1" r="1.7"/>
<circle cx="2156.3" cy="913.9" r="1.7"/>
<circle cx="2163.1" cy="914.7" r="1.7"/>
<circle cx="2169.9" cy="915.5" r="1.7"/>
<circle cx="2176.7" cy="916.3" r="1.7"/>
<circle cx="2183.5" cy="917.1" r="1.7"/>
<circle cx="2190.3" cy="917.9" r="1.7"/>
<circle cx="2197.1" cy="918.7" r="1.7"/>
<circle cx="2203.9" cy="919.5" r="1.7"/>
<circle cx="2210.7" cy="920.3" r="1.7"/>
<circle cx="2217.5" cy="921.1" r="1.7"/>
<circle cx="2224.3" cy="921.8" r="1.7"/>
<circle cx="2231.1" cy="922.6" r="1.7"/>
<circle cx="2237.9" cy="923.4" r="1.7"/>
<circle cx="2244.7" cy="924.2" r="1.7"/>
<circle cx="2251.5" cy="925" r="1.7"/>
<circle cx="2258.3" cy="925.8" r="1.7"/>
<circle cx="2265.1" cy="926.6" r="1.7"/>
<circle cx="2271.9" cy="927.4" r="1.7"/>
<circle cx="2278.7" cy="928.2" r="1.7"/>
<circle cx="2285.5" cy="929" r="1.7"/>
<circle cx="2292.3" cy="929.8" r="1.7"/>
<circle cx="2299.1" cy="930.6" r="1.7"/>
<circle cx="2305.9" cy="931.4" r="1.7"/>
<circle cx="2312.7" cy="932.2" r="1.7"/>
<circle cx="2319.5" cy="933" r="1.7"/>
<circle cx="2326.3" cy="933.8" r="1.7"/>
<circle cx="2333.1" cy="934.6" r="1.7"/>
<circle cx="2339.9" cy="935.4" r="1.7"/>
<circle cx="2346.7" cy="936.2" r="1.7"/>
<circle cx="2353.4" cy="937" r="1.7"/>
<circle cx="2360.2" cy="937.8" r="1.7"/>
<circle cx="2367" cy="938.5" r="1.7"/>
<circle cx="2373.8" cy="939.3" r="1.7"/>
<circle cx="2380.6" cy="940.1" r="1.7"/>
<circle cx="2387.4" cy="940.9" r="1.7"/>
<circle cx="2394.2" cy="941.7" r="1.7"/>
<circle cx="2003.5" cy="900.2" r="1.7"/>
<circle cx="2010.4" cy="901.1" r="1.7"/>
<circle cx="2017.3" cy="901.9" r="1.7"/>
<circle cx="2024.2" cy="902.8" r="1.7"/>
<circle cx="2031.1" cy="903.6" r="1.7"/>
<circle cx="2038" cy="904.5" r="1.7"/>
<circle cx="2044.9" cy="905.3" r="1.7"/>
<circle cx="2051.8" cy="906.2" r="1.7"/>
<circle cx="2058.7" cy="907" r="1.7"/>
<circle cx="2065.6" cy="907.8" r="1.7"/>
<circle cx="2072.5" cy="908.7" r="1.7"/>
<circle cx="2079.4" cy="909.5" r="1.7"/>
<circle cx="2086.3" cy="910.4" r="1.7"/>
<circle cx="2093.3" cy="911.2" r="1.7"/>
<circle cx="2100.2" cy="912.1" r="1.7"/>
<circle cx="2107.1" cy="912.9" r="1.7"/>
<circle cx="2114" cy="913.8" r="1.7"/>
<circle cx="2120.9" cy="914.6" r="1.7"/>
<circle cx="2127.8" cy="915.4" r="1.7"/>
<circle cx="2134.7" cy="916.3" r="1.7"/>
<circle cx="2141.6" cy="917.1" r="1.7"/>
<circle cx="2148.5" cy="918" r="1.7"/>
<circle cx="2155.4" cy="918.8" r="1.7"/>
<circle cx="2162.3" cy="919.7" r="1.7"/>
<circle cx="2169.2" cy="920.5" r="1.7"/>
<circle cx="2176.1" cy="921.4" r="1.7"/>
<circle cx="2183.1" cy="922.2" r="1.7"/>
<circle cx="2190" cy="923" r="1.7"/>
<circle cx="2196.9" cy="923.9" r="1.7"/>
<circle cx="2203.8" cy="924.7" r="1.7"/>
<circle cx="2210.7" cy="925.6" r="1.7"/>
<circle cx="2217.6" cy="926.4" r="1.7"/>
<circle cx="2224.5" cy="927.3" r="1.7"/>
<circle cx="2231.4" cy="928.1" r="1.7"/>
<circle cx="2238.3" cy="929" r="1.7"/>
<circle cx="2245.2" cy="929.8" r="1.7"/>
<circle cx="2252.1" cy="930.6" r="1.7"/>
<circle cx="2259" cy="931.5" r="1.7"/>
<circle cx="2265.9" cy="932.3" r="1.7"/>
<circle cx="2272.9" cy="933.2" r="1.7"/>
<circle cx="2279.8" cy="934" r="1.7"/>
<circle cx="2286.7" cy="934.9" r="1.7"/>
<circle cx="2293.6" cy="935.7" r="1.7"/>
<circle cx="2300.5" cy="936.6" r="1.7"/>
<circle cx="2307.4" cy="937.4" r="1.7"/>
<circle cx="2314.3" cy="938.2" r="1.7"/>
<circle cx="2321.2" cy="939.1" r="1.7"/>
<circle cx="2328.1" cy="939.9" r="1.7"/>
<circle cx="2335" cy="940.8" r="1.7"/>
<circle cx="2341.9" cy="941.6" r="1.7"/>
<circle cx="2348.8" cy="942.5" r="1.7"/>
<circle cx="2355.7" cy="943.3" r="1.7"/>
<circle cx="2362.7" cy="944.2" r="1.7"/>
<circle cx="2369.6" cy="945" r="1.7"/>
<circle cx="2376.5" cy="945.8" r="1.7"/>
<circle cx="2383.4" cy="946.7" r="1.7"/>
<circle cx="2390.3" cy="947.5" r="1.7"/>
<circle cx="2397.2" cy="948.4" r="1.7"/>
<circle cx="2000" cy="904.1" r="1.7"/>
<circle cx="2007" cy="905" r="1.7"/>
<circle cx="2014" cy="905.9" r="1.7"/>
<circle cx="2021.1" cy="906.8" r="1.7"/>
<circle cx="2028.1" cy="907.7" r="1.7"/>
<circle cx="2035.1" cy="908.6" r="1.7"/>
<circle cx="2042.1" cy="909.5" r="1.7"/>
<circle cx="2049.1" cy="910.4" r="1.7"/>
<circle cx="2056.2" cy="911.3" r="1.7"/>
<circle cx="2063.2" cy="912.2" r="1.7"/>
<circle cx="2070.2" cy="913.1" r="1.7"/>
<circle cx="2077.2" cy="914" r="1.7"/>
<circle cx="2084.2" cy="914.9" r="1.7"/>
<circle cx="2091.3" cy="915.7" r="1.7"/>
<circle cx="2098.3" cy="916.6" r="1.7"/>
<circle cx="2105.3" cy="917.5" r="1.7"/>
<circle cx="2112.3" cy="918.4" r="1.7"/>
<circle cx="2119.3" cy="919.3" r="1.7"/>
<circle cx="2126.4" cy="920.2" r="1.7"/>
<circle cx="2133.4" cy="921.1" r="1.7"/>
<circle cx="2140.4" cy="922" r="1.7"/>
<circle cx="2147.4" cy="922.9" r="1.7"/>
<circle cx="2154.4" cy="923.8" r="1.7"/>
<circle cx="2161.5" cy="924.7" r="1.7"/>
<circle cx="2168.5" cy="925.6" r="1.7"/>
<circle cx="2175.5" cy="926.5" r="1.7"/>
<circle cx="2182.5" cy="927.4" r="1.7"/>
<circle cx="2189.5" cy="928.3" r="1.7"/>
<circle cx="2196.6" cy="929.2" r="1.7"/>
<circle cx="2203.6" cy="930.1" r="1.7"/>
<circle cx="2210.6" cy="931" r="1.7"/>
<circle cx="2217.6" cy="931.9" r="1.7"/>
<circle cx="2224.6" cy="932.8" r="1.7"/>
<circle cx="2231.7" cy="933.7" r="1.7"/>
<circle cx="2238.7" cy="934.6" r="1.7"/>
<circle cx="2245.7" cy="935.5" r="1.7"/>
<circle cx="2252.7" cy="936.4" r="1.7"/>
<circle cx="2259.7" cy="937.3" r="1.7"/>
<circle cx="2266.8" cy="938.1" r="1.7"/>
<circle cx="2273.8" cy="939" r="1.7"/>
<circle cx="2280.8" cy="939.9" r="1.7"/>
<circle cx="2287.8" cy="940.8" r="1.7"/>
<circle cx="2294.8" cy="941.7" r="1.7"/>
<circle cx="2301.9" cy="942.6" r="1.7"/>
<circle cx="2308.9" cy="943.5" r="1.7"/>
<circle cx="2315.9" cy="944.4" r="1.7"/>
<circle cx="2322.9" cy="945.3" r="1.7"/>
<circle cx="2329.9" cy="946.2" r="1.7"/>
<circle cx="2337" cy="947.1" r="1.7"/>
<circle cx="2344" cy="948" r="1.7"/>
<circle cx="2351" cy="948.9" r="1.7"/>
<circle cx="2358" cy="949.8" r="1.7"/>
<circle cx="2365" cy="950.7" r="1.7"/>
<circle cx="2372.1" cy="951.6" r="1.7"/>
<circle cx="2379.1" cy="952.5" r="1.7"/>
<circle cx="2386.1" cy="953.4" r="1.7"/>
<circle cx="2393.1" cy="954.3" r="1.7"/>
<circle cx="2003.6" cy="908.9" r="1.8"/>
<circle cx="2010.7" cy="909.9" r="1.8"/>
<circle cx="2017.8" cy="910.8" r="1.8"/>
<circle cx="2025" cy="911.8" r="1.8"/>
<circle cx="2032.1" cy="912.7" r="1.8"/>
<circle cx="2039.2" cy="913.7" r="1.8"/>
<circle cx="2046.4" cy="914.6" r="1.8"/>
<circle cx="2053.5" cy="915.6" r="1.8"/>
<circle cx="2060.6" cy="916.5" r="1.8"/>
<circle cx="2067.8" cy="917.5" r="1.8"/>
<circle cx="2074.9" cy="918.4" r="1.8"/>
<circle cx="2082" cy="919.4" r="1.8"/>
<circle cx="2089.2" cy="920.3" r="1.8"/>
<circle cx="2096.3" cy="921.3" r="1.8"/>
<circle cx="2103.4" cy="922.2" r="1.8"/>
<circle cx="2110.6" cy="923.2" r="1.8"/>
<circle cx="2117.7" cy="924.1" r="1.8"/>
<circle cx="2124.9" cy="925.1" r="1.8"/>
<circle cx="2132" cy="926" r="1.8"/>
<circle cx="2139.1" cy="927" r="1.8"/>
<circle cx="2146.3" cy="927.9" r="1.8"/>
<circle cx="2153.4" cy="928.9" r="1.8"/>
<circle cx="2160.5" cy="929.8" r="1.8"/>
<circle cx="2167.7" cy="930.8" r="1.8"/>
<circle cx="2174.8" cy="931.7" r="1.8"/>
<circle cx="2181.9" cy="932.7" r="1.8"/>
<circle cx="2189.1" cy="933.6" r="1.8"/>
<circle cx="2196.2" cy="934.6" r="1.8"/>
<circle cx="2203.3" cy="935.5" r="1.8"/>
<circle cx="2210.5" cy="936.5" r="1.8"/>
<circle cx="2217.6" cy="937.4" r="1.8"/>
<circle cx="2224.7" cy="938.4" r="1.8"/>
<circle cx="2231.9" cy="939.3" r="1.8"/>
<circle cx="2239" cy="940.3" r="1.8"/>
<circle cx="2246.1" cy="941.2" r="1.8"/>
<circle cx="2253.3" cy="942.2" r="1.8"/>
<circle cx="2260.4" cy="943.1" r="1.8"/>
<circle cx="2267.5" cy="944.1" r="1.8"/>
<circle cx="2274.7" cy="945" r="1.8"/>
<circle cx="2281.8" cy="946" r="1.8"/>
<circle cx="2288.9" cy="946.9" r="1.8"/>
<circle cx="2296.1" cy="947.9" r="1.8"/>
<circle cx="2303.2" cy="948.8" r="1.8"/>
<circle cx="2310.3" cy="949.7" r="1.8"/>
<circle cx="2317.5" cy="950.7" r="1.8"/>
<circle cx="2324.6" cy="951.6" r="1.8"/>
<circle cx="2331.7" cy="952.6" r="1.8"/>
<circle cx="2338.9" cy="953.5" r="1.8"/>
<circle cx="2346" cy="954.5" r="1.8"/>
<circle cx="2353.2" cy="955.4" r="1.8"/>
<circle cx="2360.3" cy="956.4" r="1.8"/>
<circle cx="2367.4" cy="957.3" r="1.8"/>
<circle cx="2374.6" cy="958.3" r="1.8"/>
<circle cx="2381.7" cy="959.2" r="1.8"/>
<circle cx="2388.8" cy="960.2" r="1.8"/>
<circle cx="2396" cy="961.1" r="1.8"/>
<circle cx="2000" cy="912.9" r="1.8"/>
<circle cx="2007.3" cy="913.9" r="1.8"/>
<circle cx="2014.5" cy="914.9" r="1.8"/>
<circle cx="2021.8" cy="915.9" r="1.8"/>
<circle cx="2029" cy="916.9" r="1.8"/>
<circle cx="2036.3" cy="917.9" r="1.8"/>
<circle cx="2043.5" cy="918.9" r="1.8"/>
<circle cx="2050.8" cy="919.9" r="1.8"/>
<circle cx="2058" cy="920.9" r="1.8"/>
<circle cx="2065.3" cy="921.9" r="1.8"/>
<circle cx="2072.5" cy="922.9" r="1.8"/>
<circle cx="2079.8" cy="923.9" r="1.8"/>
<circle cx="2087" cy="924.9" r="1.8"/>
<circle cx="2094.3" cy="925.9" r="1.8"/>
<circle cx="2101.5" cy="926.9" r="1.8"/>
<circle cx="2108.8" cy="927.9" r="1.8"/>
<circle cx="2116" cy="929" r="1.8"/>
<circle cx="2123.3" cy="930" r="1.8"/>
<circle cx="2130.5" cy="931" r="1.8"/>
<circle cx="2137.8" cy="932" r="1.8"/>
<circle cx="2145" cy="933" r="1.8"/>
<circle cx="2152.3" cy="934" r="1.8"/>
<circle cx="2159.5" cy="935" r="1.8"/>
<circle cx="2166.8" cy="936" r="1.8"/>
<circle cx="2174" cy="937" r="1.8"/>
<circle cx="2181.3" cy="938" r="1.8"/>
<circle cx="2188.5" cy="939" r="1.8"/>
<circle cx="2195.8" cy="940" r="1.8"/>
<circle cx="2203" cy="941" r="1.8"/>
<circle cx="2210.3" cy="942" r="1.8"/>
<circle cx="2217.5" cy="943" r="1.8"/>
<circle cx="2224.8" cy="944" r="1.8"/>
<circle cx="2232" cy="945" r="1.8"/>
<circle cx="2239.3" cy="946" r="1.8"/>
<circle cx="2246.5" cy="947" r="1.8"/>
<circle cx="2253.8" cy="948" r="1.8"/>
<circle cx="2261" cy="949.1" r="1.8"/>
<circle cx="2268.3" cy="950.1" r="1.8"/>
<circle cx="2275.5" cy="951.1" r="1.8"/>
<circle cx="2282.8" cy="952.1" r="1.8"/>
<circle cx="2290" cy="953.1" r="1.8"/>
<circle cx="2297.3" cy="954.1" r="1.8"/>
<circle cx="2304.5" cy="955.1" r="1.8"/>
<circle cx="2311.8" cy="956.1" r="1.8"/>
<circle cx="2319" cy="957.1" r="1.8"/>
<circle cx="2326.3" cy="958.1" r="1.8"/>
<circle cx="2333.5" cy="959.1" r="1.8"/>
<circle cx="2340.8" cy="960.1" r="1.8"/>
<circle cx="2348" cy="961.1" r="1.8"/>
<circle cx="2355.3" cy="962.1" r="1.8"/>
<circle cx="2362.5" cy="963.1" r="1.8"/>
<circle cx="2369.8" cy="964.1" r="1.8"/>
<circle cx="2377" cy="965.1" r="1.8"/>
<circle cx="2384.3" cy="966.1" r="1.8"/>
<circle cx="2391.5" cy="967.1" r="1.8"/>
<circle cx="2398.8" cy="968.1" r="1.8"/>
<circle cx="2003.7" cy="917.9" r="1.8"/>
<circle cx="2011.1" cy="919" r="1.8"/>
<circle cx="2018.4" cy="920" r="1.8"/>
<circle cx="2025.8" cy="921.1" r="1.8"/>
<circle cx="2033.2" cy="922.2" r="1.8"/>
<circle cx="2040.5" cy="923.2" r="1.8"/>
<circle cx="2047.9" cy="924.3" r="1.8"/>
<circle cx="2055.3" cy="925.3" r="1.8"/>
<circle cx="2062.6" cy="926.4" r="1.8"/>
<circle cx="2070" cy="927.5" r="1.8"/>
<circle cx="2077.4" cy="928.5" r="1.8"/>
<circle cx="2084.7" cy="929.6" r="1.8"/>
<circle cx="2092.1" cy="930.7" r="1.8"/>
<circle cx="2099.5" cy="931.7" r="1.8"/>
<circle cx="2106.8" cy="932.8" r="1.8"/>
<circle cx="2114.2" cy="933.8" r="1.8"/>
<circle cx="2121.6" cy="934.9" r="1.8"/>
<circle cx="2128.9" cy="936" r="1.8"/>
<circle cx="2136.3" cy="937" r="1.8"/>
<circle cx="2143.7" cy="938.1" r="1.8"/>
<circle cx="2151.1" cy="939.2" r="1.8"/>
<circle cx="2158.4" cy="940.2" r="1.8"/>
<circle cx="2165.8" cy="941.3" r="1.8"/>
<circle cx="2173.2" cy="942.3" r="1.8"/>
<circle cx="2180.5" cy="943.4" r="1.8"/>
<circle cx="2187.9" cy="944.5" r="1.8"/>
<circle cx="2195.3" cy="945.5" r="1.8"/>
<circle cx="2202.6" cy="946.6" r="1.8"/>
<circle cx="2210" cy="947.7" r="1.8"/>
<circle cx="2217.4" cy="948.7" r="1.8"/>
<circle cx="2224.7" cy="949.8" r="1.8"/>
<circle cx="2232.1" cy="950.8" r="1.8"/>
<circle cx="2239.5" cy="951.9" r="1.8"/>
<circle cx="2246.8" cy="953" r="1.8"/>
<circle cx="2254.2" cy="954" r="1.8"/>
<circle cx="2261.6" cy="955.1" r="1.8"/>
<circle cx="2269" cy="956.2" r="1.8"/>
<circle cx="2276.3" cy="957.2" r="1.8"/>
<circle cx="2283.7" cy="958.3" r="1.8"/>
<circle cx="2291.1" cy="959.3" r="1.8"/>
<circle cx="2298.4" cy="960.4" r="1.8"/>
<circle cx="2305.8" cy="961.5" r="1.8"/>
<circle cx="2313.2" cy="962.5" r="1.8"/>
<circle cx="2320.5" cy="963.6" r="1.8"/>
<circle cx="2327.9" cy="964.7" r="1.8"/>
<circle cx="2335.3" cy="965.7" r="1.8"/>
<circle cx="2342.6" cy="966.8" r="1.8"/>
<circle cx="2350" cy="967.8" r="1.8"/>
<circle cx="2357.4" cy="968.9" r="1.8"/>
<circle cx="2364.7" cy="970" r="1.8"/>
<circle cx="2372.1" cy="971" r="1.8"/>
<circle cx="2379.5" cy="972.1" r="1.8"/>
<circle cx="2386.8" cy="973.2" r="1.8"/>
<circle cx="2394.2" cy="974.2" r="1.8"/>
<circle cx="2000" cy="921.9" r="1.9"/>
<circle cx="2007.5" cy="923.1" r="1.9"/>
<circle cx="2015" cy="924.2" r="1.9"/>
<circle cx="2022.5" cy="925.3" r="1.9"/>
<circle cx="2030" cy="926.4" r="1.9"/>
<circle cx="2037.4" cy="927.6" r="1.9"/>
<circle cx="2044.9" cy="928.7" r="1.9"/>
<circle cx="2052.4" cy="929.8" r="1.9"/>
<circle cx="2059.9" cy="930.9" r="1.9"/>
<circle cx="2067.4" cy="932" r="1.9"/>
<circle cx="2074.9" cy="933.2" r="1.9"/>
<circle cx="2082.4" cy="934.3" r="1.9"/>
<circle cx="2089.9" cy="935.4" r="1.9"/>
<circle cx="2097.3" cy="936.5" r="1.9"/>
<circle cx="2104.8" cy="937.7" r="1.9"/>
<circle cx="2112.3" cy="938.8" r="1.9"/>
<circle cx="2119.8" cy="939.9" r="1.9"/>
<circle cx="2127.3" cy="941" r="1.9"/>
<circle cx="2134.8" cy="942.1" r="1.9"/>
<circle cx="2142.3" cy="943.3" r="1.9"/>
<circle cx="2149.8" cy="944.4" r="1.9"/>
<circle cx="2157.3" cy="945.5" r="1.9"/>
<circle cx="2164.7" cy="946.6" r="1.9"/>
<circle cx="2172.2" cy="947.8" r="1.9"/>
<circle cx="2179.7" cy="948.9" r="1.9"/>
<circle cx="2187.2" cy="950" r="1.9"/>
<circle cx="2194.7" cy="951.1" r="1.9"/>
<circle cx="2202.2" cy="952.3" r="1.9"/>
<circle cx="2209.7" cy="953.4" r="1.9"/>
<circle cx="2217.2" cy="954.5" r="1.9"/>
<circle cx="2224.7" cy="955.6" r="1.9"/>
<circle cx="2232.1" cy="956.7" r="1.9"/>
<circle cx="2239.6" cy="957.9" r="1.9"/>
<circle cx="2247.1" cy="959" r="1.9"/>
<circle cx="2254.6" cy="960.1" r="1.9"/>
<circle cx="2262.1" cy="961.2" r="1.9"/>
<circle cx="2269.6" cy="962.4" r="1.9"/>
<circle cx="2277.1" cy="963.5" r="1.9"/>
<circle cx="2284.6" cy="964.6" r="1.9"/>
<circle cx="2292" cy="965.7" r="1.9"/>
<circle cx="2299.5" cy="966.8" r="1.9"/>
<circle cx="2307" cy="968" r="1.9"/>
<circle cx="2314.5" cy="969.1" r="1.9"/>
<circle cx="2322" cy="970.2" r="1.9"/>
<circle cx="2329.5" cy="971.3" r="1.9"/>
<circle cx="2337" cy="972.5" r="1.9"/>
<circle cx="2344.5" cy="973.6" r="1.9"/>
<circle cx="2352" cy="974.7" r="1.9"/>
<circle cx="2359.4" cy="975.8" r="1.9"/>
<circle cx="2366.9" cy="977" r="1.9"/>
<circle cx="2374.4" cy="978.1" r="1.9"/>
<circle cx="2381.9" cy="979.2" r="1.9"/>
<circle cx="2389.4" cy="980.3" r="1.9"/>
<circle cx="2396.9" cy="981.4" r="1.9"/>
<circle cx="2003.8" cy="927.2" r="1.9"/>
<circle cx="2011.4" cy="928.4" r="1.9"/>
<circle cx="2019" cy="929.5" r="1.9"/>
<circle cx="2026.6" cy="930.7" r="1.9"/>
<circle cx="2034.2" cy="931.9" r="1.9"/>
<circle cx="2041.9" cy="933.1" r="1.9"/>
<circle cx="2049.5" cy="934.3" r="1.9"/>
<circle cx="2057.1" cy="935.5" r="1.9"/>
<circle cx="2064.7" cy="936.7" r="1.9"/>
<circle cx="2072.3" cy="937.8" r="1.9"/>
<circle cx="2079.9" cy="939" r="1.9"/>
<circle cx="2087.5" cy="940.2" r="1.9"/>
<circle cx="2095.1" cy="941.4" r="1.9"/>
<circle cx="2102.7" cy="942.6" r="1.9"/>
<circle cx="2110.3" cy="943.8" r="1.9"/>
<circle cx="2118" cy="945" r="1.9"/>
<circle cx="2125.6" cy="946.1" r="1.9"/>
<circle cx="2133.2" cy="947.3" r="1.9"/>
<circle cx="2140.8" cy="948.5" r="1.9"/>
<circle cx="2148.4" cy="949.7" r="1.9"/>
<circle cx="2156" cy="950.9" r="1.9"/>
<circle cx="2163.6" cy="952.1" r="1.9"/>
<circle cx="2171.2" cy="953.2" r="1.9"/>
<circle cx="2178.8" cy="954.4" r="1.9"/>
<circle cx="2186.5" cy="955.6" r="1.9"/>
<circle cx="2194.1" cy="956.8" r="1.9"/>
<circle cx="2201.7" cy="958" r="1.9"/>
<circle cx="2209.3" cy="959.2" r="1.9"/>
<circle cx="2216.9" cy="960.4" r="1.9"/>
<circle cx="2224.5" cy="961.5" r="1.9"/>
<circle cx="2232.1" cy="962.7" r="1.9"/>
<circle cx="2239.7" cy="963.9" r="1.9"/>
<circle cx="2247.3" cy="965.1" r="1.9"/>
<circle cx="2254.9" cy="966.3" r="1.9"/>
<circle cx="2262.6" cy="967.5" r="1.9"/>
<circle cx="2270.2" cy="968.7" r="1.9"/>
<circle cx="2277.8" cy="969.8" r="1.9"/>
<circle cx="2285.4" cy="971" r="1.9"/>
<circle cx="2293" cy="972.2" r="1.9"/>
<circle cx="2300.6" cy="973.4" r="1.9"/>
<circle cx="2308.2" cy="974.6" r="1.9"/>
<circle cx="2315.8" cy="975.8" r="1.9"/>
<circle cx="2323.4" cy="977" r="1.9"/>
<circle cx="2331" cy="978.1" r="1.9"/>
<circle cx="2338.7" cy="979.3" r="1.9"/>
<circle cx="2346.3" cy="980.5" r="1.9"/>
<circle cx="2353.9" cy="981.7" r="1.9"/>
<circle cx="2361.5" cy="982.9" r="1.9"/>
<circle cx="2369.1" cy="984.1" r="1.9"/>
<circle cx="2376.7" cy="985.2" r="1.9"/>
<circle cx="2384.3" cy="986.4" r="1.9"/>
<circle cx="2391.9" cy="987.6" r="1.9"/>
<circle cx="2399.5" cy="988.8" r="1.9"/>
<circle cx="2000" cy="931.3" r="2"/>
<circle cx="2007.7" cy="932.6" r="2"/>
<circle cx="2015.5" cy="933.8" r="2"/>
<circle cx="2023.2" cy="935.1" r="2"/>
<circle cx="2030.9" cy="936.3" r="2"/>
<circle cx="2038.7" cy="937.6" r="2"/>
<circle cx="2046.4" cy="938.8" r="2"/>
<circle cx="2054.1" cy="940.1" r="2"/>
<circle cx="2061.9" cy="941.3" r="2"/>
<circle cx="2069.6" cy="942.6" r="2"/>
<circle cx="2077.3" cy="943.8" r="2"/>
<circle cx="2085.1" cy="945.1" r="2"/>
<circle cx="2092.8" cy="946.3" r="2"/>
<circle cx="2100.5" cy="947.6" r="2"/>
<circle cx="2108.3" cy="948.8" r="2"/>
<circle cx="2116" cy="950.1" r="2"/>
<circle cx="2123.7" cy="951.3" r="2"/>
<circle cx="2131.5" cy="952.6" r="2"/>
<circle cx="2139.2" cy="953.8" r="2"/>
<circle cx="2146.9" cy="955.1" r="2"/>
<circle cx="2154.7" cy="956.3" r="2"/>
<circle cx="2162.4" cy="957.6" r="2"/>
<circle cx="2170.2" cy="958.8" r="2"/>
<circle cx="2177.9" cy="960.1" r="2"/>
<circle cx="2185.6" cy="961.3" r="2"/>
<circle cx="2193.4" cy="962.6" r="2"/>
<circle cx="2201.1" cy="963.8" r="2"/>
<circle cx="2208.8" cy="965.1" r="2"/>
<circle cx="2216.6" cy="966.3" r="2"/>
<circle cx="2224.3" cy="967.6" r="2"/>
<circle cx="2232" cy="968.8" r="2"/>
<circle cx="2239.8" cy="970.1" r="2"/>
<circle cx="2247.5" cy="971.3" r="2"/>
<circle cx="2255.2" cy="972.6" r="2"/>
<circle cx="2263" cy="973.8" r="2"/>
<circle cx="2270.7" cy="975.1" r="2"/>
<circle cx="2278.4" cy="976.3" r="2"/>
<circle cx="2286.2" cy="977.6" r="2"/>
<circle cx="2293.9" cy="978.8" r="2"/>
<circle cx="2301.6" cy="980.1" r="2"/>
<circle cx="2309.4" cy="981.3" r="2"/>
<circle cx="2317.1" cy="982.6" r="2"/>
<circle cx="2324.8" cy="983.8" r="2"/>
<circle cx="2332.6" cy="985.1" r="2"/>
<circle cx="2340.3" cy="986.3" r="2"/>
<circle cx="2348" cy="987.6" r="2"/>
<circle cx="2355.8" cy="988.8" r="2"/>
<circle cx="2363.5" cy="990.1" r="2"/>
<circle cx="2371.2" cy="991.3" r="2"/>
<circle cx="2379" cy="992.6" r="2"/>
<circle cx="2386.7" cy="993.8" r="2"/>
<circle cx="2394.4" cy="995.1" r="2"/>
<circle cx="2003.9" cy="936.8" r="2"/>
<circle cx="2011.8" cy="938.1" r="2"/>
<circle cx="2019.7" cy="939.4" r="2"/>
<circle cx="2027.5" cy="940.7" r="2"/>
<circle cx="2035.4" cy="942" r="2"/>
<circle cx="2043.2" cy="943.3" r="2"/>
<circle cx="2051.1" cy="944.7" r="2"/>
<circle cx="2059" cy="946" r="2"/>
<circle cx="2066.8" cy="947.3" r="2"/>
<circle cx="2074.7" cy="948.6" r="2"/>
<circle cx="2082.5" cy="949.9" r="2"/>
<circle cx="2090.4" cy="951.2" r="2"/>
<circle cx="2098.3" cy="952.6" r="2"/>
<circle cx="2106.1" cy="953.9" r="2"/>
<circle cx="2114" cy="955.2" r="2"/>
<circle cx="2121.8" cy="956.5" r="2"/>
<circle cx="2129.7" cy="957.8" r="2"/>
<circle cx="2137.6" cy="959.2" r="2"/>
<circle cx="2145.4" cy="960.5" r="2"/>
<circle cx="2153.3" cy="961.8" r="2"/>
<circle cx="2161.1" cy="963.1" r="2"/>
<circle cx="2169" cy="964.4" r="2"/>
<circle cx="2176.9" cy="965.7" r="2"/>
<circle cx="2184.7" cy="967.1" r="2"/>
<circle cx="2192.6" cy="968.4" r="2"/>
<circle cx="2200.4" cy="969.7" r="2"/>
<circle cx="2208.3" cy="971" r="2"/>
<circle cx="2216.2" cy="972.3" r="2"/>
<circle cx="2224" cy="973.6" r="2"/>
<circle cx="2231.9" cy="975" r="2"/>
<circle cx="2239.7" cy="976.3" r="2"/>
<circle cx="2247.6" cy="977.6" r="2"/>
<circle cx="2255.5" cy="978.9" r="2"/>
<circle cx="2263.3" cy="980.2" r="2"/>
<circle cx="2271.2" cy="981.6" r="2"/>
<circle cx="2279" cy="982.9" r="2"/>
<circle cx="2286.9" cy="984.2" r="2"/>
<circle cx="2294.8" cy="985.5" r="2"/>
<circle cx="2302.6" cy="986.8" r="2"/>
<circle cx="2310.5" cy="988.1" r="2"/>
<circle cx="2318.3" cy="989.5" r="2"/>
<circle cx="2326.2" cy="990.8" r="2"/>
<circle cx="2334.1" cy="992.1" r="2"/>
<circle cx="2341.9" cy="993.4" r="2"/>
<circle cx="2349.8" cy="994.7" r="2"/>
<circle cx="2357.6" cy="996" r="2"/>
<circle cx="2365.5" cy="997.4" r="2"/>
<circle cx="2373.4" cy="998.7" r="2"/>
<circle cx="2381.2" cy="1000" r="2"/>
<circle cx="2389.1" cy="1001.3" r="2"/>
<circle cx="2396.9" cy="1002.6" r="2"/>
<circle cx="2000" cy="941" r="2"/>
<circle cx="2008" cy="942.4" r="2"/>
<circle cx="2016" cy="943.7" r="2"/>
<circle cx="2024" cy="945.1" r="2"/>
<circle cx="2032" cy="946.5" r="2"/>
<circle cx="2039.9" cy="947.9" r="2"/>
<circle cx="2047.9" cy="949.3" r="2"/>
<circle cx="2055.9" cy="950.7" r="2"/>
<circle cx="2063.9" cy="952.1" r="2"/>
<circle cx="2071.9" cy="953.5" r="2"/>
<circle cx="2079.9" cy="954.8" r="2"/>
<circle cx="2087.9" cy="956.2" r="2"/>
<circle cx="2095.9" cy="957.6" r="2"/>
<circle cx="2103.8" cy="959" r="2"/>
<circle cx="2111.8" cy="960.4" r="2"/>
<circle cx="2119.8" cy="961.8" r="2"/>
<circle cx="2127.8" cy="963.2" r="2"/>
<circle cx="2135.8" cy="964.6" r="2"/>
<circle cx="2143.8" cy="965.9" r="2"/>
<circle cx="2151.8" cy="967.3" r="2"/>
<circle cx="2159.8" cy="968.7" r="2"/>
<circle cx="2167.7" cy="970.1" r="2"/>
<circle cx="2175.7" cy="971.5" r="2"/>
<circle cx="2183.7" cy="972.9" r="2"/>
<circle cx="2191.7" cy="974.3" r="2"/>
<circle cx="2199.7" cy="975.7" r="2"/>
<circle cx="2207.7" cy="977" r="2"/>
<circle cx="2215.7" cy="978.4" r="2"/>
<circle cx="2223.7" cy="979.8" r="2"/>
<circle cx="2231.7" cy="981.2" r="2"/>
<circle cx="2239.6" cy="982.6" r="2"/>
<circle cx="2247.6" cy="984" r="2"/>
<circle cx="2255.6" cy="985.4" r="2"/>
<circle cx="2263.6" cy="986.8" r="2"/>
<circle cx="2271.6" cy="988.1" r="2"/>
<circle cx="2279.6" cy="989.5" r="2"/>
<circle cx="2287.6" cy="990.9" r="2"/>
<circle cx="2295.6" cy="992.3" r="2"/>
<circle cx="2303.5" cy="993.7" r="2"/>
<circle cx="2311.5" cy="995.1" r="2"/>
<circle cx="2319.5" cy="996.5" r="2"/>
<circle cx="2327.5" cy="997.9" r="2"/>
<circle cx="2335.5" cy="999.2" r="2"/>
<circle cx="2343.5" cy="1000.6" r="2"/>
<circle cx="2351.5" cy="1002" r="2"/>
<circle cx="2359.5" cy="1003.4" r="2"/>
<circle cx="2367.4" cy="1004.8" r="2"/>
<circle cx="2375.4" cy="1006.2" r="2"/>
<circle cx="2383.4" cy="1007.6" r="2"/>
<circle cx="2391.4" cy="1009" r="2"/>
<circle cx="2399.4" cy="1010.3" r="2"/>
<circle cx="2004.1" cy="946.7" r="2.1"/>
<circle cx="2012.2" cy="948.1" r="2.1"/>
<circle cx="2020.3" cy="949.6" r="2.1"/>
<circle cx="2028.4" cy="951" r="2.1"/>
<circle cx="2036.5" cy="952.5" r="2.1"/>
<circle cx="2044.6" cy="954" r="2.1"/>
<circle cx="2052.8" cy="955.4" r="2.1"/>
<circle cx="2060.9" cy="956.9" r="2.1"/>
<circle cx="2069" cy="958.3" r="2.1"/>
<circle cx="2077.1" cy="959.8" r="2.1"/>
<circle cx="2085.2" cy="961.3" r="2.1"/>
<circle cx="2093.4" cy="962.7" r="2.1"/>
<circle cx="2101.5" cy="964.2" r="2.1"/>
<circle cx="2109.6" cy="965.6" r="2.1"/>
<circle cx="2117.7" cy="967.1" r="2.1"/>
<circle cx="2125.8" cy="968.6" r="2.1"/>
<circle cx="2133.9" cy="970" r="2.1"/>
<circle cx="2142.1" cy="971.5" r="2.1"/>
<circle cx="2150.2" cy="972.9" r="2.1"/>
<circle cx="2158.3" cy="974.4" r="2.1"/>
<circle cx="2166.4" cy="975.9" r="2.1"/>
<circle cx="2174.5" cy="977.3" r="2.1"/>
<circle cx="2182.7" cy="978.8" r="2.1"/>
<circle cx="2190.8" cy="980.2" r="2.1"/>
<circle cx="2198.9" cy="981.7" r="2.1"/>
<circle cx="2207" cy="983.2" r="2.1"/>
<circle cx="2215.1" cy="984.6" r="2.1"/>
<circle cx="2223.2" cy="986.1" r="2.1"/>
<circle cx="2231.4" cy="987.5" r="2.1"/>
<circle cx="2239.5" cy="989" r="2.1"/>
<circle cx="2247.6" cy="990.5" r="2.1"/>
<circle cx="2255.7" cy="991.9" r="2.1"/>
<circle cx="2263.8" cy="993.4" r="2.1"/>
<circle cx="2272" cy="994.8" r="2.1"/>
<circle cx="2280.1" cy="996.3" r="2.1"/>
<circle cx="2288.2" cy="997.8" r="2.1"/>
<circle cx="2296.3" cy="999.2" r="2.1"/>
<circle cx="2304.4" cy="1000.7" r="2.1"/>
<circle cx="2312.5" cy="1002.1" r="2.1"/>
<circle cx="2320.7" cy="1003.6" r="2.1"/>
<circle cx="2328.8" cy="1005.1" r="2.1"/>
<circle cx="2336.9" cy="1006.5" r="2.1"/>
<circle cx="2345" cy="1008" r="2.1"/>
<circle cx="2353.1" cy="1009.5" r="2.1"/>
<circle cx="2361.2" cy="1010.9" r="2.1"/>
<circle cx="2369.4" cy="1012.4" r="2.1"/>
<circle cx="2377.5" cy="1013.8" r="2.1"/>
<circle cx="2385.6" cy="1015.3" r="2.1"/>
<circle cx="2393.7" cy="1016.8" r="2.1"/>
<circle cx="2000" cy="951" r="2.1"/>
<circle cx="2008.3" cy="952.5" r="2.1"/>
<circle cx="2016.5" cy="954" r="2.1"/>
<circle cx="2024.8" cy="955.6" r="2.1"/>
<circle cx="2033" cy="957.1" r="2.1"/>
<circle cx="2041.3" cy="958.6" r="2.1"/>
<circle cx="2049.5" cy="960.2" r="2.1"/>
<circle cx="2057.8" cy="961.7" r="2.1"/>
<circle cx="2066" cy="963.2" r="2.1"/>
<circle cx="2074.3" cy="964.8" r="2.1"/>
<circle cx="2082.5" cy="966.3" r="2.1"/>
<circle cx="2090.8" cy="967.9" r="2.1"/>
<circle cx="2099" cy="969.4" r="2.1"/>
<circle cx="2107.3" cy="970.9" r="2.1"/>
<circle cx="2115.5" cy="972.5" r="2.1"/>
<circle cx="2123.8" cy="974" r="2.1"/>
<circle cx="2132" cy="975.5" r="2.1"/>
<circle cx="2140.3" cy="977.1" r="2.1"/>
<circle cx="2148.5" cy="978.6" r="2.1"/>
<circle cx="2156.8" cy="980.1" r="2.1"/>
<circle cx="2165" cy="981.7" r="2.1"/>
<circle cx="2173.3" cy="983.2" r="2.1"/>
<circle cx="2181.5" cy="984.7" r="2.1"/>
<circle cx="2189.8" cy="986.3" r="2.1"/>
<circle cx="2198" cy="987.8" r="2.1"/>
<circle cx="2206.3" cy="989.4" r="2.1"/>
<circle cx="2214.5" cy="990.9" r="2.1"/>
<circle cx="2222.8" cy="992.4" r="2.1"/>
<circle cx="2231" cy="994" r="2.1"/>
<circle cx="2239.3" cy="995.5" r="2.1"/>
<circle cx="2247.5" cy="997" r="2.1"/>
<circle cx="2255.8" cy="998.6" r="2.1"/>
<circle cx="2264" cy="1000.1" r="2.1"/>
<circle cx="2272.3" cy="1001.6" r="2.1"/>
<circle cx="2280.5" cy="1003.2" r="2.1"/>
<circle cx="2288.8" cy="1004.7" r="2.1"/>
<circle cx="2297" cy="1006.3" r="2.1"/>
<circle cx="2305.3" cy="1007.8" r="2.1"/>
<circle cx="2313.5" cy="1009.3" r="2.1"/>
<circle cx="2321.8" cy="1010.9" r="2.1"/>
<circle cx="2330" cy="1012.4" r="2.1"/>
<circle cx="2338.3" cy="1013.9" r="2.1"/>
<circle cx="2346.5" cy="1015.5" r="2.1"/>
<circle cx="2354.8" cy="1017" r="2.1"/>
<circle cx="2363" cy="1018.5" r="2.1"/>
<circle cx="2371.3" cy="1020.1" r="2.1"/>
<circle cx="2379.5" cy="1021.6" r="2.1"/>
<circle cx="2387.8" cy="1023.2" r="2.1"/>
<circle cx="2396" cy="1024.7" r="2.1"/>
<circle cx="2004.2" cy="956.9" r="2.2"/>
<circle cx="2012.6" cy="958.5" r="2.2"/>
<circle cx="2021" cy="960.1" r="2.2"/>
<circle cx="2029.3" cy="961.7" r="2.2"/>
<circle cx="2037.7" cy="963.3" r="2.2"/>
<circle cx="2046.1" cy="965" r="2.2"/>
<circle cx="2054.5" cy="966.6" r="2.2"/>
<circle cx="2062.9" cy="968.2" r="2.2"/>
<circle cx="2071.3" cy="969.8" r="2.2"/>
<circle cx="2079.7" cy="971.4" r="2.2"/>
<circle cx="2088" cy="973" r="2.2"/>
<circle cx="2096.4" cy="974.6" r="2.2"/>
<circle cx="2104.8" cy="976.3" r="2.2"/>
<circle cx="2113.2" cy="977.9" r="2.2"/>
<circle cx="2121.6" cy="979.5" r="2.2"/>
<circle cx="2130" cy="981.1" r="2.2"/>
<circle cx="2138.3" cy="982.7" r="2.2"/>
<circle cx="2146.7" cy="984.3" r="2.2"/>
<circle cx="2155.1" cy="985.9" r="2.2"/>
<circle cx="2163.5" cy="987.6" r="2.2"/>
<circle cx="2171.9" cy="989.2" r="2.2"/>
<circle cx="2180.3" cy="990.8" r="2.2"/>
<circle cx="2188.6" cy="992.4" r="2.2"/>
<circle cx="2197" cy="994" r="2.2"/>
<circle cx="2205.4" cy="995.6" r="2.2"/>
<circle cx="2213.8" cy="997.2" r="2.2"/>
<circle cx="2222.2" cy="998.9" r="2.2"/>
<circle cx="2230.6" cy="1000.5" r="2.2"/>
<circle cx="2239" cy="1002.1" r="2.2"/>
<circle cx="2247.3" cy="1003.7" r="2.2"/>
<circle cx="2255.7" cy="1005.3" r="2.2"/>
<circle cx="2264.1" cy="1006.9" r="2.2"/>
<circle cx="2272.5" cy="1008.5" r="2.2"/>
<circle cx="2280.9" cy="1010.2" r="2.2"/>
<circle cx="2289.3" cy="1011.8" r="2.2"/>
<circle cx="2297.6" cy="1013.4" r="2.2"/>
<circle cx="2306" cy="1015" r="2.2"/>
<circle cx="2314.4" cy="1016.6" r="2.2"/>
<circle cx="2322.8" cy="1018.2" r="2.2"/>
<circle cx="2331.2" cy="1019.9" r="2.2"/>
<circle cx="2339.6" cy="1021.5" r="2.2"/>
<circle cx="2348" cy="1023.1" r="2.2"/>
<circle cx="2356.3" cy="1024.7" r="2.2"/>
<circle cx="2364.7" cy="1026.3" r="2.2"/>
<circle cx="2373.1" cy="1027.9" r="2.2"/>
<circle cx="2381.5" cy="1029.5" r="2.2"/>
<circle cx="2389.9" cy="1031.2" r="2.2"/>
<circle cx="2398.3" cy="1032.8" r="2.2"/>
<circle cx="2000" cy="961.3" r="2.2"/>
<circle cx="2008.5" cy="963" r="2.2"/>
<circle cx="2017" cy="964.7" r="2.2"/>
<circle cx="2025.6" cy="966.4" r="2.2"/>
<circle cx="2034.1" cy="968.1" r="2.2"/>
<circle cx="2042.6" cy="969.8" r="2.2"/>
<circle cx="2051.1" cy="971.4" r="2.2"/>
<circle cx="2059.6" cy="973.1" r="2.2"/>
<circle cx="2068.2" cy="974.8" r="2.2"/>
<circle cx="2076.7" cy="976.5" r="2.2"/>
<circle cx="2085.2" cy="978.2" r="2.2"/>
<circle cx="2093.7" cy="979.9" r="2.2"/>
<circle cx="2102.2" cy="981.6" r="2.2"/>
<circle cx="2110.8" cy="983.3" r="2.2"/>
<circle cx="2119.3" cy="985" r="2.2"/>
<circle cx="2127.8" cy="986.7" r="2.2"/>
<circle cx="2136.3" cy="988.4" r="2.2"/>
<circle cx="2144.9" cy="990.1" r="2.2"/>
<circle cx="2153.4" cy="991.8" r="2.2"/>
<circle cx="2161.9" cy="993.5" r="2.2"/>
<circle cx="2170.4" cy="995.2" r="2.2"/>
<circle cx="2178.9" cy="996.9" r="2.2"/>
<circle cx="2187.5" cy="998.6" r="2.2"/>
<circle cx="2196" cy="1000.3" r="2.2"/>
<circle cx="2204.5" cy="1002" r="2.2"/>
<circle cx="2213" cy="1003.7" r="2.2"/>
<circle cx="2221.5" cy="1005.4" r="2.2"/>
<circle cx="2230.1" cy="1007.1" r="2.2"/>
<circle cx="2238.6" cy="1008.8" r="2.2"/>
<circle cx="2247.1" cy="1010.5" r="2.2"/>
<circle cx="2255.6" cy="1012.2" r="2.2"/>
<circle cx="2264.1" cy="1013.9" r="2.2"/>
<circle cx="2272.7" cy="1015.6" r="2.2"/>
<circle cx="2281.2" cy="1017.2" r="2.2"/>
<circle cx="2289.7" cy="1018.9" r="2.2"/>
<circle cx="2298.2" cy="1020.6" r="2.2"/>
<circle cx="2306.7" cy="1022.3" r="2.2"/>
<circle cx="2315.3" cy="1024" r="2.2"/>
<circle cx="2323.8" cy="1025.7" r="2.2"/>
<circle cx="2332.3" cy="1027.4" r="2.2"/>
<circle cx="2340.8" cy="1029.1" r="2.2"/>
<circle cx="2349.4" cy="1030.8" r="2.2"/>
<circle cx="2357.9" cy="1032.5" r="2.2"/>
<circle cx="2366.4" cy="1034.2" r="2.2"/>
<circle cx="2374.9" cy="1035.9" r="2.2"/>
<circle cx="2383.4" cy="1037.6" r="2.2"/>
<circle cx="2392" cy="1039.3" r="2.2"/>
<circle cx="2004.3" cy="967.4" r="2.2"/>
<circle cx="2013" cy="969.2" r="2.2"/>
<circle cx="2021.6" cy="971" r="2.2"/>
<circle cx="2030.3" cy="972.8" r="2.2"/>
<circle cx="2039" cy="974.6" r="2.2"/>
<circle cx="2047.6" cy="976.3" r="2.2"/>
<circle cx="2056.3" cy="978.1" r="2.2"/>
<circle cx="2064.9" cy="979.9" r="2.2"/>
<circle cx="2073.6" cy="981.7" r="2.2"/>
<circle cx="2082.3" cy="983.5" r="2.2"/>
<circle cx="2090.9" cy="985.3" r="2.2"/>
<circle cx="2099.6" cy="987" r="2.2"/>
<circle cx="2108.2" cy="988.8" r="2.2"/>
<circle cx="2116.9" cy="990.6" r="2.2"/>
<circle cx="2125.6" cy="992.4" r="2.2"/>
<circle cx="2134.2" cy="994.2" r="2.2"/>
<circle cx="2142.9" cy="995.9" r="2.2"/>
<circle cx="2151.5" cy="997.7" r="2.2"/>
<circle cx="2160.2" cy="999.5" r="2.2"/>
<circle cx="2168.9" cy="1001.3" r="2.2"/>
<circle cx="2177.5" cy="1003.1" r="2.2"/>
<circle cx="2186.2" cy="1004.8" r="2.2"/>
<circle cx="2194.8" cy="1006.6" r="2.2"/>
<circle cx="2203.5" cy="1008.4" r="2.2"/>
<circle cx="2212.2" cy="1010.2" r="2.2"/>
<circle cx="2220.8" cy="1012" r="2.2"/>
<circle cx="2229.5" cy="1013.8" r="2.2"/>
<circle cx="2238.1" cy="1015.5" r="2.2"/>
<circle cx="2246.8" cy="1017.3" r="2.2"/>
<circle cx="2255.5" cy="1019.1" r="2.2"/>
<circle cx="2264.1" cy="1020.9" r="2.2"/>
<circle cx="2272.8" cy="1022.7" r="2.2"/>
<circle cx="2281.4" cy="1024.4" r="2.2"/>
<circle cx="2290.1" cy="1026.2" r="2.2"/>
<circle cx="2298.8" cy="1028" r="2.2"/>
<circle cx="2307.4" cy="1029.8" r="2.2"/>
<circle cx="2316.1" cy="1031.6" r="2.2"/>
<circle cx="2324.7" cy="1033.3" r="2.2"/>
<circle cx="2333.4" cy="1035.1" r="2.2"/>
<circle cx="2342" cy="1036.9" r="2.2"/>
<circle cx="2350.7" cy="1038.7" r="2.2"/>
<circle cx="2359.4" cy="1040.5" r="2.2"/>
<circle cx="2368" cy="1042.3" r="2.2"/>
<circle cx="2376.7" cy="1044" r="2.2"/>
<circle cx="2385.3" cy="1045.8" r="2.2"/>
<circle cx="2394" cy="1047.6" r="2.2"/>
<circle cx="2000" cy="971.9" r="2.3"/>
<circle cx="2008.8" cy="973.8" r="2.3"/>
<circle cx="2017.6" cy="975.7" r="2.3"/>
<circle cx="2026.4" cy="977.5" r="2.3"/>
<circle cx="2035.2" cy="979.4" r="2.3"/>
<circle cx="2044" cy="981.3" r="2.3"/>
<circle cx="2052.8" cy="983.1" r="2.3"/>
<circle cx="2061.6" cy="985" r="2.3"/>
<circle cx="2070.4" cy="986.9" r="2.3"/>
<circle cx="2079.2" cy="988.7" r="2.3"/>
<circle cx="2088" cy="990.6" r="2.3"/>
<circle cx="2096.8" cy="992.5" r="2.3"/>
<circle cx="2105.6" cy="994.4" r="2.3"/>
<circle cx="2114.4" cy="996.2" r="2.3"/>
<circle cx="2123.2" cy="998.1" r="2.3"/>
<circle cx="2132" cy="1000" r="2.3"/>
<circle cx="2140.8" cy="1001.8" r="2.3"/>
<circle cx="2149.6" cy="1003.7" r="2.3"/>
<circle cx="2158.4" cy="1005.6" r="2.3"/>
<circle cx="2167.2" cy="1007.4" r="2.3"/>
<circle cx="2176" cy="1009.3" r="2.3"/>
<circle cx="2184.8" cy="1011.2" r="2.3"/>
<circle cx="2193.6" cy="1013" r="2.3"/>
<circle cx="2202.4" cy="1014.9" r="2.3"/>
<circle cx="2211.2" cy="1016.8" r="2.3"/>
<circle cx="2220" cy="1018.7" r="2.3"/>
<circle cx="2228.8" cy="1020.5" r="2.3"/>
<circle cx="2237.6" cy="1022.4" r="2.3"/>
<circle cx="2246.4" cy="1024.3" r="2.3"/>
<circle cx="2255.2" cy="1026.1" r="2.3"/>
<circle cx="2264" cy="1028" r="2.3"/>
<circle cx="2272.8" cy="1029.9" r="2.3"/>
<circle cx="2281.6" cy="1031.7" r="2.3"/>
<circle cx="2290.4" cy="1033.6" r="2.3"/>
<circle cx="2299.2" cy="1035.5" r="2.3"/>
<circle cx="2308" cy="1037.3" r="2.3"/>
<circle cx="2316.8" cy="1039.2" r="2.3"/>
<circle cx="2325.6" cy="1041.1" r="2.3"/>
<circle cx="2334.4" cy="1043" r="2.3"/>
<circle cx="2343.2" cy="1044.8" r="2.3"/>
<circle cx="2352" cy="1046.7" r="2.3"/>
<circle cx="2360.8" cy="1048.6" r="2.3"/>
<circle cx="2369.6" cy="1050.4" r="2.3"/>
<circle cx="2378.4" cy="1052.3" r="2.3"/>
<circle cx="2387.2" cy="1054.2" r="2.3"/>
<circle cx="2396" cy="1056" r="2.3"/>
<circle cx="2004.5" cy="978.4" r="2.3"/>
<circle cx="2013.4" cy="980.3" r="2.3"/>
<circle cx="2022.4" cy="982.3" r="2.3"/>
<circle cx="2031.3" cy="984.2" r="2.3"/>
<circle cx="2040.2" cy="986.2" r="2.3"/>
<circle cx="2049.2" cy="988.2" r="2.3"/>
<circle cx="2058.1" cy="990.1" r="2.3"/>
<circle cx="2067.1" cy="992.1" r="2.3"/>
<circle cx="2076" cy="994" r="2.3"/>
<circle cx="2085" cy="996" r="2.3"/>
<circle cx="2093.9" cy="998" r="2.3"/>
<circle cx="2102.9" cy="999.9" r="2.3"/>
<circle cx="2111.8" cy="1001.9" r="2.3"/>
<circle cx="2120.7" cy="1003.8" r="2.3"/>
<circle cx="2129.7" cy="1005.8" r="2.3"/>
<circle cx="2138.6" cy="1007.8" r="2.3"/>
<circle cx="2147.6" cy="1009.7" r="2.3"/>
<circle cx="2156.5" cy="1011.7" r="2.3"/>
<circle cx="2165.5" cy="1013.6" r="2.3"/>
<circle cx="2174.4" cy="1015.6" r="2.3"/>
<circle cx="2183.3" cy="1017.6" r="2.3"/>
<circle cx="2192.3" cy="1019.5" r="2.3"/>
<circle cx="2201.2" cy="1021.5" r="2.3"/>
<circle cx="2210.2" cy="1023.5" r="2.3"/>
<circle cx="2219.1" cy="1025.4" r="2.3"/>
<circle cx="2228.1" cy="1027.4" r="2.3"/>
<circle cx="2237" cy="1029.3" r="2.3"/>
<circle cx="2245.9" cy="1031.3" r="2.3"/>
<circle cx="2254.9" cy="1033.3" r="2.3"/>
<circle cx="2263.8" cy="1035.2" r="2.3"/>
<circle cx="2272.8" cy="1037.2" r="2.3"/>
<circle cx="2281.7" cy="1039.1" r="2.3"/>
<circle cx="2290.7" cy="1041.1" r="2.3"/>
<circle cx="2299.6" cy="1043.1" r="2.3"/>
<circle cx="2308.6" cy="1045" r="2.3"/>
<circle cx="2317.5" cy="1047" r="2.3"/>
<circle cx="2326.4" cy="1048.9" r="2.3"/>
<circle cx="2335.4" cy="1050.9" r="2.3"/>
<circle cx="2344.3" cy="1052.9" r="2.3"/>
<circle cx="2353.3" cy="1054.8" r="2.3"/>
<circle cx="2362.2" cy="1056.8" r="2.3"/>
<circle cx="2371.2" cy="1058.7" r="2.3"/>
<circle cx="2380.1" cy="1060.7" r="2.3"/>
<circle cx="2389" cy="1062.7" r="2.3"/>
<circle cx="2398" cy="1064.6" r="2.3"/>
<circle cx="2000" cy="982.9" r="2.4"/>
<circle cx="2009.1" cy="985" r="2.4"/>
<circle cx="2018.2" cy="987" r="2.4"/>
<circle cx="2027.3" cy="989.1" r="2.4"/>
<circle cx="2036.4" cy="991.1" r="2.4"/>
<circle cx="2045.4" cy="993.2" r="2.4"/>
<circle cx="2054.5" cy="995.3" r="2.4"/>
<circle cx="2063.6" cy="997.3" r="2.4"/>
<circle cx="2072.7" cy="999.4" r="2.4"/>
<circle cx="2081.8" cy="1001.4" r="2.4"/>
<circle cx="2090.9" cy="1003.5" r="2.4"/>
<circle cx="2100" cy="1005.5" r="2.4"/>
<circle cx="2109.1" cy="1007.6" r="2.4"/>
<circle cx="2118.2" cy="1009.6" r="2.4"/>
<circle cx="2127.2" cy="1011.7" r="2.4"/>
<circle cx="2136.3" cy="1013.8" r="2.4"/>
<circle cx="2145.4" cy="1015.8" r="2.4"/>
<circle cx="2154.5" cy="1017.9" r="2.4"/>
<circle cx="2163.6" cy="1019.9" r="2.4"/>
<circle cx="2172.7" cy="1022" r="2.4"/>
<circle cx="2181.8" cy="1024" r="2.4"/>
<circle cx="2190.9" cy="1026.1" r="2.4"/>
<circle cx="2200" cy="1028.1" r="2.4"/>
<circle cx="2209.1" cy="1030.2" r="2.4"/>
<circle cx="2218.1" cy="1032.3" r="2.4"/>
<circle cx="2227.2" cy="1034.3" r="2.4"/>
<circle cx="2236.3" cy="1036.4" r="2.4"/>
<circle cx="2245.4" cy="1038.4" r="2.4"/>
<circle cx="2254.5" cy="1040.5" r="2.4"/>
<circle cx="2263.6" cy="1042.5" r="2.4"/>
<circle cx="2272.7" cy="1044.6" r="2.4"/>
<circle cx="2281.8" cy="1046.6" r="2.4"/>
<circle cx="2290.9" cy="1048.7" r="2.4"/>
<circle cx="2299.9" cy="1050.8" r="2.4"/>
<circle cx="2309" cy="1052.8" r="2.4"/>
<circle cx="2318.1" cy="1054.9" r="2.4"/>
<circle cx="2327.2" cy="1056.9" r="2.4"/>
<circle cx="2336.3" cy="1059" r="2.4"/>
<circle cx="2345.4" cy="1061" r="2.4"/>
<circle cx="2354.5" cy="1063.1" r="2.4"/>
<circle cx="2363.6" cy="1065.1" r="2.4"/>
<circle cx="2372.7" cy="1067.2" r="2.4"/>
<circle cx="2381.7" cy="1069.3" r="2.4"/>
<circle cx="2390.8" cy="1071.3" r="2.4"/>
<circle cx="2399.9" cy="1073.4" r="2.4"/>
<circle cx="2004.6" cy="989.6" r="2.4"/>
<circle cx="2013.9" cy="991.8" r="2.4"/>
<circle cx="2023.1" cy="993.9" r="2.4"/>
<circle cx="2032.3" cy="996.1" r="2.4"/>
<circle cx="2041.6" cy="998.3" r="2.4"/>
<circle cx="2050.8" cy="1000.4" r="2.4"/>
<circle cx="2060" cy="1002.6" r="2.4"/>
<circle cx="2069.3" cy="1004.7" r="2.4"/>
<circle cx="2078.5" cy="1006.9" r="2.4"/>
<circle cx="2087.8" cy="1009" r="2.4"/>
<circle cx="2097" cy="1011.2" r="2.4"/>
<circle cx="2106.2" cy="1013.3" r="2.4"/>
<circle cx="2115.5" cy="1015.5" r="2.4"/>
<circle cx="2124.7" cy="1017.6" r="2.4"/>
<circle cx="2133.9" cy="1019.8" r="2.4"/>
<circle cx="2143.2" cy="1021.9" r="2.4"/>
<circle cx="2152.4" cy="1024.1" r="2.4"/>
<circle cx="2161.6" cy="1026.3" r="2.4"/>
<circle cx="2170.9" cy="1028.4" r="2.4"/>
<circle cx="2180.1" cy="1030.6" r="2.4"/>
<circle cx="2189.4" cy="1032.7" r="2.4"/>
<circle cx="2198.6" cy="1034.9" r="2.4"/>
<circle cx="2207.8" cy="1037" r="2.4"/>
<circle cx="2217.1" cy="1039.2" r="2.4"/>
<circle cx="2226.3" cy="1041.3" r="2.4"/>
<circle cx="2235.5" cy="1043.5" r="2.4"/>
<circle cx="2244.8" cy="1045.6" r="2.4"/>
<circle cx="2254" cy="1047.8" r="2.4"/>
<circle cx="2263.3" cy="1049.9" r="2.4"/>
<circle cx="2272.5" cy="1052.1" r="2.4"/>
<circle cx="2281.7" cy="1054.3" r="2.4"/>
<circle cx="2291" cy="1056.4" r="2.4"/>
<circle cx="2300.2" cy="1058.6" r="2.4"/>
<circle cx="2309.4" cy="1060.7" r="2.4"/>
<circle cx="2318.7" cy="1062.9" r="2.4"/>
<circle cx="2327.9" cy="1065" r="2.4"/>
<circle cx="2337.2" cy="1067.2" r="2.4"/>
<circle cx="2346.4" cy="1069.3" r="2.4"/>
<circle cx="2355.6" cy="1071.5" r="2.4"/>
<circle cx="2364.9" cy="1073.6" r="2.4"/>
<circle cx="2374.1" cy="1075.8" r="2.4"/>
<circle cx="2383.3" cy="1078" r="2.4"/>
<circle cx="2392.6" cy="1080.1" r="2.4"/>
<circle cx="2000" cy="994.3" r="2.5"/>
<circle cx="2009.4" cy="996.5" r="2.5"/>
<circle cx="2018.8" cy="998.8" r="2.5"/>
<circle cx="2028.2" cy="1001.1" r="2.5"/>
<circle cx="2037.5" cy="1003.3" r="2.5"/>
<circle cx="2046.9" cy="1005.6" r="2.5"/>
<circle cx="2056.3" cy="1007.8" r="2.5"/>
<circle cx="2065.7" cy="1010.1" r="2.5"/>
<circle cx="2075.1" cy="1012.3" r="2.5"/>
<circle cx="2084.5" cy="1014.6" r="2.5"/>
<circle cx="2093.9" cy="1016.8" r="2.5"/>
<circle cx="2103.3" cy="1019.1" r="2.5"/>
<circle cx="2112.6" cy="1021.4" r="2.5"/>
<circle cx="2122" cy="1023.6" r="2.5"/>
<circle cx="2131.4" cy="1025.9" r="2.5"/>
<circle cx="2140.8" cy="1028.1" r="2.5"/>
<circle cx="2150.2" cy="1030.4" r="2.5"/>
<circle cx="2159.6" cy="1032.6" r="2.5"/>
<circle cx="2169" cy="1034.9" r="2.5"/>
<circle cx="2178.4" cy="1037.2" r="2.5"/>
<circle cx="2187.7" cy="1039.4" r="2.5"/>
<circle cx="2197.1" cy="1041.7" r="2.5"/>
<circle cx="2206.5" cy="1043.9" r="2.5"/>
<circle cx="2215.9" cy="1046.2" r="2.5"/>
<circle cx="2225.3" cy="1048.4" r="2.5"/>
<circle cx="2234.7" cy="1050.7" r="2.5"/>
<circle cx="2244.1" cy="1052.9" r="2.5"/>
<circle cx="2253.5" cy="1055.2" r="2.5"/>
<circle cx="2262.8" cy="1057.5" r="2.5"/>
<circle cx="2272.2" cy="1059.7" r="2.5"/>
<circle cx="2281.6" cy="1062" r="2.5"/>
<circle cx="2291" cy="1064.2" r="2.5"/>
<circle cx="2300.4" cy="1066.5" r="2.5"/>
<circle cx="2309.8" cy="1068.7" r="2.5"/>
<circle cx="2319.2" cy="1071" r="2.5"/>
<circle cx="2328.6" cy="1073.3" r="2.5"/>
<circle cx="2337.9" cy="1075.5" r="2.5"/>
<circle cx="2347.3" cy="1077.8" r="2.5"/>
<circle cx="2356.7" cy="1080" r="2.5"/>
<circle cx="2366.1" cy="1082.3" r="2.5"/>
<circle cx="2375.5" cy="1084.5" r="2.5"/>
<circle cx="2384.9" cy="1086.8" r="2.5"/>
<circle cx="2394.3" cy="1089" r="2.5"/>
<circle cx="2004.8" cy="1001.3" r="2.5"/>
<circle cx="2014.3" cy="1003.6" r="2.5"/>
<circle cx="2023.9" cy="1006" r="2.5"/>
<circle cx="2033.4" cy="1008.4" r="2.5"/>
<circle cx="2042.9" cy="1010.7" r="2.5"/>
<circle cx="2052.5" cy="1013.1" r="2.5"/>
<circle cx="2062" cy="1015.5" r="2.5"/>
<circle cx="2071.6" cy="1017.8" r="2.5"/>
<circle cx="2081.1" cy="1020.2" r="2.5"/>
<circle cx="2090.6" cy="1022.5" r="2.5"/>
<circle cx="2100.2" cy="1024.9" r="2.5"/>
<circle cx="2109.7" cy="1027.3" r="2.5"/>
<circle cx="2119.3" cy="1029.6" r="2.5"/>
<circle cx="2128.8" cy="1032" r="2.5"/>
<circle cx="2138.3" cy="1034.4" r="2.5"/>
<circle cx="2147.9" cy="1036.7" r="2.5"/>
<circle cx="2157.4" cy="1039.1" r="2.5"/>
<circle cx="2167" cy="1041.4" r="2.5"/>
<circle cx="2176.5" cy="1043.8" r="2.5"/>
<circle cx="2186" cy="1046.2" r="2.5"/>
<circle cx="2195.6" cy="1048.5" r="2.5"/>
<circle cx="2205.1" cy="1050.9" r="2.5"/>
<circle cx="2214.7" cy="1053.3" r="2.5"/>
<circle cx="2224.2" cy="1055.6" r="2.5"/>
<circle cx="2233.7" cy="1058" r="2.5"/>
<circle cx="2243.3" cy="1060.3" r="2.5"/>
<circle cx="2252.8" cy="1062.7" r="2.5"/>
<circle cx="2262.4" cy="1065.1" r="2.5"/>
<circle cx="2271.9" cy="1067.4" r="2.5"/>
<circle cx="2281.4" cy="1069.8" r="2.5"/>
<circle cx="2291" cy="1072.2" r="2.5"/>
<circle cx="2300.5" cy="1074.5" r="2.5"/>
<circle cx="2310.1" cy="1076.9" r="2.5"/>
<circle cx="2319.6" cy="1079.2" r="2.5"/>
<circle cx="2329.1" cy="1081.6" r="2.5"/>
<circle cx="2338.7" cy="1084" r="2.5"/>
<circle cx="2348.2" cy="1086.3" r="2.5"/>
<circle cx="2357.8" cy="1088.7" r="2.5"/>
<circle cx="2367.3" cy="1091.1" r="2.5"/>
<circle cx="2376.8" cy="1093.4" r="2.5"/>
<circle cx="2386.4" cy="1095.8" r="2.5"/>
<circle cx="2395.9" cy="1098.1" r="2.5"/>
<circle cx="2000" cy="1006" r="2.6"/>
<circle cx="2009.7" cy="1008.5" r="2.6"/>
<circle cx="2019.4" cy="1011" r="2.6"/>
<circle cx="2029.1" cy="1013.4" r="2.6"/>
<circle cx="2038.8" cy="1015.9" r="2.6"/>
<circle cx="2048.5" cy="1018.4" r="2.6"/>
<circle cx="2058.2" cy="1020.9" r="2.6"/>
<circle cx="2067.9" cy="1023.3" r="2.6"/>
<circle cx="2077.6" cy="1025.8" r="2.6"/>
<circle cx="2087.3" cy="1028.3" r="2.6"/>
<circle cx="2097" cy="1030.7" r="2.6"/>
<circle cx="2106.7" cy="1033.2" r="2.6"/>
<circle cx="2116.3" cy="1035.7" r="2.6"/>
<circle cx="2126" cy="1038.2" r="2.6"/>
<circle cx="2135.7" cy="1040.6" r="2.6"/>
<circle cx="2145.4" cy="1043.1" r="2.6"/>
<circle cx="2155.1" cy="1045.6" r="2.6"/>
<circle cx="2164.8" cy="1048.1" r="2.6"/>
<circle cx="2174.5" cy="1050.5" r="2.6"/>
<circle cx="2184.2" cy="1053" r="2.6"/>
<circle cx="2193.9" cy="1055.5" r="2.6"/>
<circle cx="2203.6" cy="1057.9" r="2.6"/>
<circle cx="2213.3" cy="1060.4" r="2.6"/>
<circle cx="2223" cy="1062.9" r="2.6"/>
<circle cx="2232.7" cy="1065.4" r="2.6"/>
<circle cx="2242.4" cy="1067.8" r="2.6"/>
<circle cx="2252.1" cy="1070.3" r="2.6"/>
<circle cx="2261.8" cy="1072.8" r="2.6"/>
<circle cx="2271.5" cy="1075.3" r="2.6"/>
<circle cx="2281.2" cy="1077.7" r="2.6"/>
<circle cx="2290.9" cy="1080.2" r="2.6"/>
<circle cx="2300.6" cy="1082.7" r="2.6"/>
<circle cx="2310.3" cy="1085.1" r="2.6"/>
<circle cx="2320" cy="1087.6" r="2.6"/>
<circle cx="2329.6" cy="1090.1" r="2.6"/>
<circle cx="2339.3" cy="1092.6" r="2.6"/>
<circle cx="2349" cy="1095" r="2.6"/>
<circle cx="2358.7" cy="1097.5" r="2.6"/>
<circle cx="2368.4" cy="1100" r="2.6"/>
<circle cx="2378.1" cy="1102.4" r="2.6"/>
<circle cx="2387.8" cy="1104.9" r="2.6"/>
<circle cx="2397.5" cy="1107.4" r="2.6"/>
</g>
<path d="M1995 948L2028 957L2375 1048L2400 1055L2400 1092L2375 1083L2016 984L1995 978Z" fill="#bebebe"/>
<g fill="#868686">
<circle cx="2000" cy="955.6" r="2.5"/>
<circle cx="2010.5" cy="958.4" r="2.5"/>
<circle cx="2021" cy="961.1" r="2.5"/>
<circle cx="2031.5" cy="963.9" r="2.5"/>
<circle cx="2042" cy="966.7" r="2.5"/>
<circle cx="2052.5" cy="969.5" r="2.5"/>
<circle cx="2063" cy="972.3" r="2.5"/>
<circle cx="2073.5" cy="975.1" r="2.5"/>
<circle cx="2084" cy="977.8" r="2.5"/>
<circle cx="2094.5" cy="980.6" r="2.5"/>
<circle cx="2105" cy="983.4" r="2.5"/>
<circle cx="2115.5" cy="986.2" r="2.5"/>
<circle cx="2126" cy="989" r="2.5"/>
<circle cx="2136.5" cy="991.8" r="2.5"/>
<circle cx="2147" cy="994.5" r="2.5"/>
<circle cx="2157.5" cy="997.3" r="2.5"/>
<circle cx="2168" cy="1000.1" r="2.5"/>
<circle cx="2178.5" cy="1002.9" r="2.5"/>
<circle cx="2189" cy="1005.7" r="2.5"/>
<circle cx="2199.5" cy="1008.4" r="2.5"/>
<circle cx="2210" cy="1011.2" r="2.5"/>
<circle cx="2220.5" cy="1014" r="2.5"/>
<circle cx="2231" cy="1016.8" r="2.5"/>
<circle cx="2241.5" cy="1019.6" r="2.5"/>
<circle cx="2252" cy="1022.4" r="2.5"/>
<circle cx="2262.5" cy="1025.1" r="2.5"/>
<circle cx="2273" cy="1027.9" r="2.5"/>
<circle cx="2283.5" cy="1030.7" r="2.5"/>
<circle cx="2294" cy="1033.5" r="2.5"/>
<circle cx="2304.5" cy="1036.3" r="2.5"/>
<circle cx="2315" cy="1039.1" r="2.5"/>
<circle cx="2325.5" cy="1041.8" r="2.5"/>
<circle cx="2336" cy="1044.6" r="2.5"/>
<circle cx="2346.5" cy="1047.4" r="2.5"/>
<circle cx="2357" cy="1050.2" r="2.5"/>
<circle cx="2367.5" cy="1053" r="2.5"/>
<circle cx="2378" cy="1055.8" r="2.5"/>
<circle cx="2388.5" cy="1058.5" r="2.5"/>
<circle cx="2399" cy="1061.3" r="2.5"/>
<circle cx="2409.5" cy="1064.1" r="2.5"/>
<circle cx="2005" cy="965.4" r="2.5"/>
<circle cx="2015.5" cy="968.2" r="2.5"/>
<circle cx="2026" cy="971" r="2.5"/>
<circle cx="2036.5" cy="973.8" r="2.5"/>
<circle cx="2047" cy="976.5" r="2.5"/>
<circle cx="2057.5" cy="979.3" r="2.5"/>
<circle cx="2068" cy="982.1" r="2.5"/>
<circle cx="2078.5" cy="984.9" r="2.5"/>
<circle cx="2089" cy="987.7" r="2.5"/>
<circle cx="2099.5" cy="990.4" r="2.5"/>
<circle cx="2110" cy="993.2" r="2.5"/>
<circle cx="2120.5" cy="996" r="2.5"/>
<circle cx="2131" cy="998.8" r="2.5"/>
<circle cx="2141.5" cy="1001.6" r="2.5"/>
<circle cx="2152" cy="1004.4" r="2.5"/>
<circle cx="2162.5" cy="1007.1" r="2.5"/>
<circle cx="2173" cy="1009.9" r="2.5"/>
<circle cx="2183.5" cy="1012.7" r="2.5"/>
<circle cx="2194" cy="1015.5" r="2.5"/>
<circle cx="2204.5" cy="1018.3" r="2.5"/>
<circle cx="2215" cy="1021.1" r="2.5"/>
<circle cx="2225.5" cy="1023.8" r="2.5"/>
<circle cx="2236" cy="1026.6" r="2.5"/>
<circle cx="2246.5" cy="1029.4" r="2.5"/>
<circle cx="2257" cy="1032.2" r="2.5"/>
<circle cx="2267.5" cy="1035" r="2.5"/>
<circle cx="2278" cy="1037.8" r="2.5"/>
<circle cx="2288.5" cy="1040.5" r="2.5"/>
<circle cx="2299" cy="1043.3" r="2.5"/>
<circle cx="2309.5" cy="1046.1" r="2.5"/>
<circle cx="2320" cy="1048.9" r="2.5"/>
<circle cx="2330.5" cy="1051.7" r="2.5"/>
<circle cx="2341" cy="1054.4" r="2.5"/>
<circle cx="2351.5" cy="1057.2" r="2.5"/>
<circle cx="2362" cy="1060" r="2.5"/>
<circle cx="2372.5" cy="1062.8" r="2.5"/>
<circle cx="2383" cy="1065.6" r="2.5"/>
<circle cx="2393.5" cy="1068.4" r="2.5"/>
<circle cx="2404" cy="1071.1" r="2.5"/>
<circle cx="2414.5" cy="1073.9" r="2.5"/>
<circle cx="2000" cy="972.6" r="2.5"/>
<circle cx="2010.5" cy="975.4" r="2.5"/>
<circle cx="2021" cy="978.1" r="2.5"/>
<circle cx="2031.5" cy="980.9" r="2.5"/>
<circle cx="2042" cy="983.7" r="2.5"/>
<circle cx="2052.5" cy="986.5" r="2.5"/>
<circle cx="2063" cy="989.3" r="2.5"/>
<circle cx="2073.5" cy="992.1" r="2.5"/>
<circle cx="2084" cy="994.8" r="2.5"/>
<circle cx="2094.5" cy="997.6" r="2.5"/>
<circle cx="2105" cy="1000.4" r="2.5"/>
<circle cx="2115.5" cy="1003.2" r="2.5"/>
<circle cx="2126" cy="1006" r="2.5"/>
<circle cx="2136.5" cy="1008.8" r="2.5"/>
<circle cx="2147" cy="1011.5" r="2.5"/>
<circle cx="2157.5" cy="1014.3" r="2.5"/>
<circle cx="2168" cy="1017.1" r="2.5"/>
<circle cx="2178.5" cy="1019.9" r="2.5"/>
<circle cx="2189" cy="1022.7" r="2.5"/>
<circle cx="2199.5" cy="1025.4" r="2.5"/>
<circle cx="2210" cy="1028.2" r="2.5"/>
<circle cx="2220.5" cy="1031" r="2.5"/>
<circle cx="2231" cy="1033.8" r="2.5"/>
<circle cx="2241.5" cy="1036.6" r="2.5"/>
<circle cx="2252" cy="1039.4" r="2.5"/>
<circle cx="2262.5" cy="1042.1" r="2.5"/>
<circle cx="2273" cy="1044.9" r="2.5"/>
<circle cx="2283.5" cy="1047.7" r="2.5"/>
<circle cx="2294" cy="1050.5" r="2.5"/>
<circle cx="2304.5" cy="1053.3" r="2.5"/>
<circle cx="2315" cy="1056.1" r="2.5"/>
<circle cx="2325.5" cy="1058.8" r="2.5"/>
<circle cx="2336" cy="1061.6" r="2.5"/>
<circle cx="2346.5" cy="1064.4" r="2.5"/>
<circle cx="2357" cy="1067.2" r="2.5"/>
<circle cx="2367.5" cy="1070" r="2.5"/>
<circle cx="2378" cy="1072.8" r="2.5"/>
<circle cx="2388.5" cy="1075.5" r="2.5"/>
<circle cx="2399" cy="1078.3" r="2.5"/>
<circle cx="2409.5" cy="1081.1" r="2.5"/>
</g>
<path d="M1995 948L2028 957L2375 1048L2400 1055" fill="none" stroke="#9c9c9c" stroke-width="5"/>
<path d="M1995 945L2028 954L2375 1045L2400 1052" fill="none" stroke="#cacaca" stroke-width="1.5"/>
<path d="M1995 978L2016 984L2375 1083L2400 1090L2400 1190L2317 1160L2015 1048L1995 1041Z" fill="#a4a4a4"/>
<g filter="url(#soft)">
<rect x="1992" y="980.3" width="15.4" height="34.1" rx="4.8" fill="#c8c8c8"/>
<rect x="2006.7" y="989.4" width="8.5" height="19.9" rx="2.9" fill="#8a8a8a"/>
<rect x="2008.4" y="1008" width="15.4" height="31" rx="4.8" fill="#c4c4c4"/>
<rect x="2023.1" y="1016.1" width="7.7" height="18.6" rx="2.9" fill="#8c8c8c"/>
<rect x="2024.8" y="989.5" width="16.2" height="35.9" rx="5.1" fill="#c8c8c8"/>
<rect x="2040.2" y="999" width="8.9" height="20.9" rx="3" fill="#8a8a8a"/>
<rect x="2042" y="1018.6" width="16.2" height="32.6" rx="5.1" fill="#c4c4c4"/>
<rect x="2057.4" y="1027" width="8.1" height="19.6" rx="3" fill="#8c8c8c"/>
<rect x="2059.2" y="999.1" width="17" height="37.7" rx="5.3" fill="#c8c8c8"/>
<rect x="2075.4" y="1009.1" width="9.4" height="21.9" rx="3.2" fill="#8a8a8a"/>
<rect x="2077.3" y="1029.7" width="17" height="34.2" rx="5.3" fill="#c4c4c4"/>
<rect x="2093.5" y="1038.6" width="8.5" height="20.5" rx="3.2" fill="#8c8c8c"/>
<rect x="2095.4" y="1009.3" width="17.9" height="39.6" rx="5.6" fill="#c8c8c8"/>
<rect x="2112.4" y="1019.8" width="9.8" height="23" rx="3.4" fill="#8a8a8a"/>
<rect x="2114.4" y="1041.3" width="17.9" height="36" rx="5.6" fill="#c4c4c4"/>
<rect x="2131.4" y="1050.7" width="8.9" height="21.6" rx="3.4" fill="#8c8c8c"/>
<rect x="2133.4" y="1019.9" width="18.8" height="41.5" rx="5.9" fill="#c8c8c8"/>
<rect x="2151.2" y="1030.9" width="10.3" height="24.2" rx="3.5" fill="#8a8a8a"/>
<rect x="2153.4" y="1053.6" width="18.8" height="37.8" rx="5.9" fill="#c4c4c4"/>
<rect x="2171.2" y="1063.4" width="9.4" height="22.7" rx="3.5" fill="#8c8c8c"/>
<rect x="2173.3" y="1031.1" width="19.7" height="43.6" rx="6.2" fill="#c8c8c8"/>
<rect x="2192" y="1042.7" width="10.8" height="25.4" rx="3.7" fill="#8a8a8a"/>
<rect x="2194.3" y="1066.5" width="19.7" height="39.7" rx="6.2" fill="#c4c4c4"/>
<rect x="2213" y="1076.8" width="9.9" height="23.8" rx="3.7" fill="#8c8c8c"/>
<rect x="2215.2" y="1042.8" width="20.7" height="45.8" rx="6.5" fill="#c8c8c8"/>
<rect x="2234.9" y="1055" width="11.4" height="26.7" rx="3.9" fill="#8a8a8a"/>
<rect x="2237.2" y="1080" width="20.7" height="41.7" rx="6.5" fill="#c4c4c4"/>
<rect x="2256.9" y="1090.8" width="10.4" height="25" rx="3.9" fill="#8c8c8c"/>
<rect x="2259.2" y="1055.2" width="21.8" height="48.1" rx="6.8" fill="#c8c8c8"/>
<rect x="2279.9" y="1068" width="12" height="28" rx="4.1" fill="#8a8a8a"/>
<rect x="2282.3" y="1094.2" width="21.8" height="43.8" rx="6.8" fill="#c4c4c4"/>
<rect x="2303" y="1105.6" width="10.9" height="26.3" rx="4.1" fill="#8c8c8c"/>
<rect x="2305.5" y="1068.1" width="22.8" height="50.5" rx="7.1" fill="#c8c8c8"/>
<rect x="2327.2" y="1081.6" width="12.6" height="29.4" rx="4.3" fill="#8a8a8a"/>
<rect x="2329.7" y="1109.1" width="22.8" height="45.9" rx="7.1" fill="#c4c4c4"/>
<rect x="2351.4" y="1121.1" width="11.4" height="27.6" rx="4.3" fill="#8c8c8c"/>
<rect x="2354" y="1081.7" width="24" height="53.1" rx="7.5" fill="#c8c8c8"/>
<rect x="2376.8" y="1095.8" width="13.2" height="30.9" rx="4.5" fill="#8a8a8a"/>
<rect x="2379.5" y="1124.8" width="24" height="48.3" rx="7.5" fill="#c4c4c4"/>
<rect x="2402.3" y="1137.3" width="12" height="29" rx="4.5" fill="#8c8c8c"/>
</g>
<path d="M1995 1041L2015 1048L2317 1160L2400 1192L2400 1250L2309 1190L2276 1180L2144 1140.5L2028 1106L1995 1095Z" fill="#a9a9a9"/>
<path d="M1995 1042L2015 1049L2317 1161L2400 1193" fill="none" stroke="#8a8a8a" stroke-width="5"/>
<path d="M1995 1049L2015 1056L2317 1168L2400 1200" fill="none" stroke="#bdbdbd" stroke-width="2"/>
<path d="M1995 1095L2028 1106L2144 1140.5L2276 1180L2309 1190L2400 1250L2400 1260L1995 1260Z" fill="#b4b4b4"/>
<g filter="url(#soft)">
<path d="M2040 1113l9 3.5l-3 17l-9 -3.5z" fill="#8a8a8a"/>
<path d="M2049 1117l8 3l-2 13l-8 -3z" fill="#cfcfcf"/>
<path d="M2059 1119.8l9 3.5l-3 17l-9 -3.5z" fill="#8a8a8a"/>
<path d="M2068 1123.8l8 3l-2 13l-8 -3z" fill="#cfcfcf"/>
<path d="M2078 1126.7l9 3.5l-3 17l-9 -3.5z" fill="#8a8a8a"/>
<path d="M2087 1130.7l8 3l-2 13l-8 -3z" fill="#cfcfcf"/>
<path d="M2097 1133.5l9 3.5l-3 17l-9 -3.5z" fill="#8a8a8a"/>
<path d="M2106 1137.5l8 3l-2 13l-8 -3z" fill="#cfcfcf"/>
<path d="M2116 1140.4l9 3.5l-3 17l-9 -3.5z" fill="#8a8a8a"/>
<path d="M2125 1144.4l8 3l-2 13l-8 -3z" fill="#cfcfcf"/>
<path d="M2135 1147.2l9 3.5l-3 17l-9 -3.5z" fill="#8a8a8a"/>
<path d="M2144 1151.2l8 3l-2 13l-8 -3z" fill="#cfcfcf"/>
<path d="M2154 1154l9 3.5l-3 17l-9 -3.5z" fill="#8a8a8a"/>
<path d="M2163 1158l8 3l-2 13l-8 -3z" fill="#cfcfcf"/>
<path d="M2173 1160.9l9 3.5l-3 17l-9 -3.5z" fill="#8a8a8a"/>
<path d="M2182 1164.9l8 3l-2 13l-8 -3z" fill="#cfcfcf"/>
<path d="M2192 1167.7l9 3.5l-3 17l-9 -3.5z" fill="#8a8a8a"/>
<path d="M2201 1171.7l8 3l-2 13l-8 -3z" fill="#cfcfcf"/>
<path d="M2211 1174.6l9 3.5l-3 17l-9 -3.5z" fill="#8a8a8a"/>
<path d="M2220 1178.6l8 3l-2 13l-8 -3z" fill="#cfcfcf"/>
<path d="M2230 1181.4l9 3.5l-3 17l-9 -3.5z" fill="#8a8a8a"/>
<path d="M2239 1185.4l8 3l-2 13l-8 -3z" fill="#cfcfcf"/>
<path d="M2249 1188.2l9 3.5l-3 17l-9 -3.5z" fill="#8a8a8a"/>
<path d="M2258 1192.2l8 3l-2 13l-8 -3z" fill="#cfcfcf"/>
</g>
<path d="M2142 1100L2160 1107L2163 1146L2148 1141Z" fill="#858585"/>
<path d="M2172 1120Q2166 1132 2176 1142" fill="none" stroke="#7a7a7a" stroke-width="2"/>
<text x="2196" y="1152" font-size="24" style="font-weight:normal;fill:#4a4a4a" transform="rotate(18 2196 1152)" textLength="68" lengthAdjust="spacingAndGlyphs">dorelan</text>
<path d="M2277 1150L2283 1186" stroke="#7d7d7d" stroke-width="3"/>
<path d="M1995 1110L2044 1132L2215 1210L2300 1250L1995 1250Z" fill="#2c2c2c"/>
<circle cx="2194" cy="1030" r="187" fill="url(#vig3)"/>
<rect x="2000" y="835" width="400" height="400" filter="url(#noise)" opacity="0.22" style="mix-blend-mode:overlay"/>
</g>
<circle cx="2194" cy="1030" r="187" fill="none" stroke="#1a1a1a" stroke-width="10.8"/>
<rect x="1078.7" y="417.7" width="465.1" height="139.1" rx="54" ry="54" fill="#fff" stroke="#141414" stroke-width="6.4"/>
<text x="1198.5" y="504.8" font-size="54" textLength="204" lengthAdjust="spacingAndGlyphs" stroke="#000" stroke-width="1.1" stroke-linejoin="round">PILLOW</text>
<rect x="1536.2" y="753.2" width="413.1" height="138.6" rx="54" ry="54" fill="#fff" stroke="#141414" stroke-width="6.4"/>
<text x="1618" y="837.7" font-size="54" textLength="242" lengthAdjust="spacingAndGlyphs" stroke="#000" stroke-width="1.1" stroke-linejoin="round">MATRESS</text>
<rect x="2267.2" y="838.2" width="279.1" height="139.6" rx="54" ry="54" fill="#fff" stroke="#141414" stroke-width="6.4"/>
<text x="2312.5" y="924.2" font-size="54" textLength="202.5" lengthAdjust="spacingAndGlyphs" stroke="#000" stroke-width="1.1" stroke-linejoin="round">TOPPER</text>
</svg></body></html>
